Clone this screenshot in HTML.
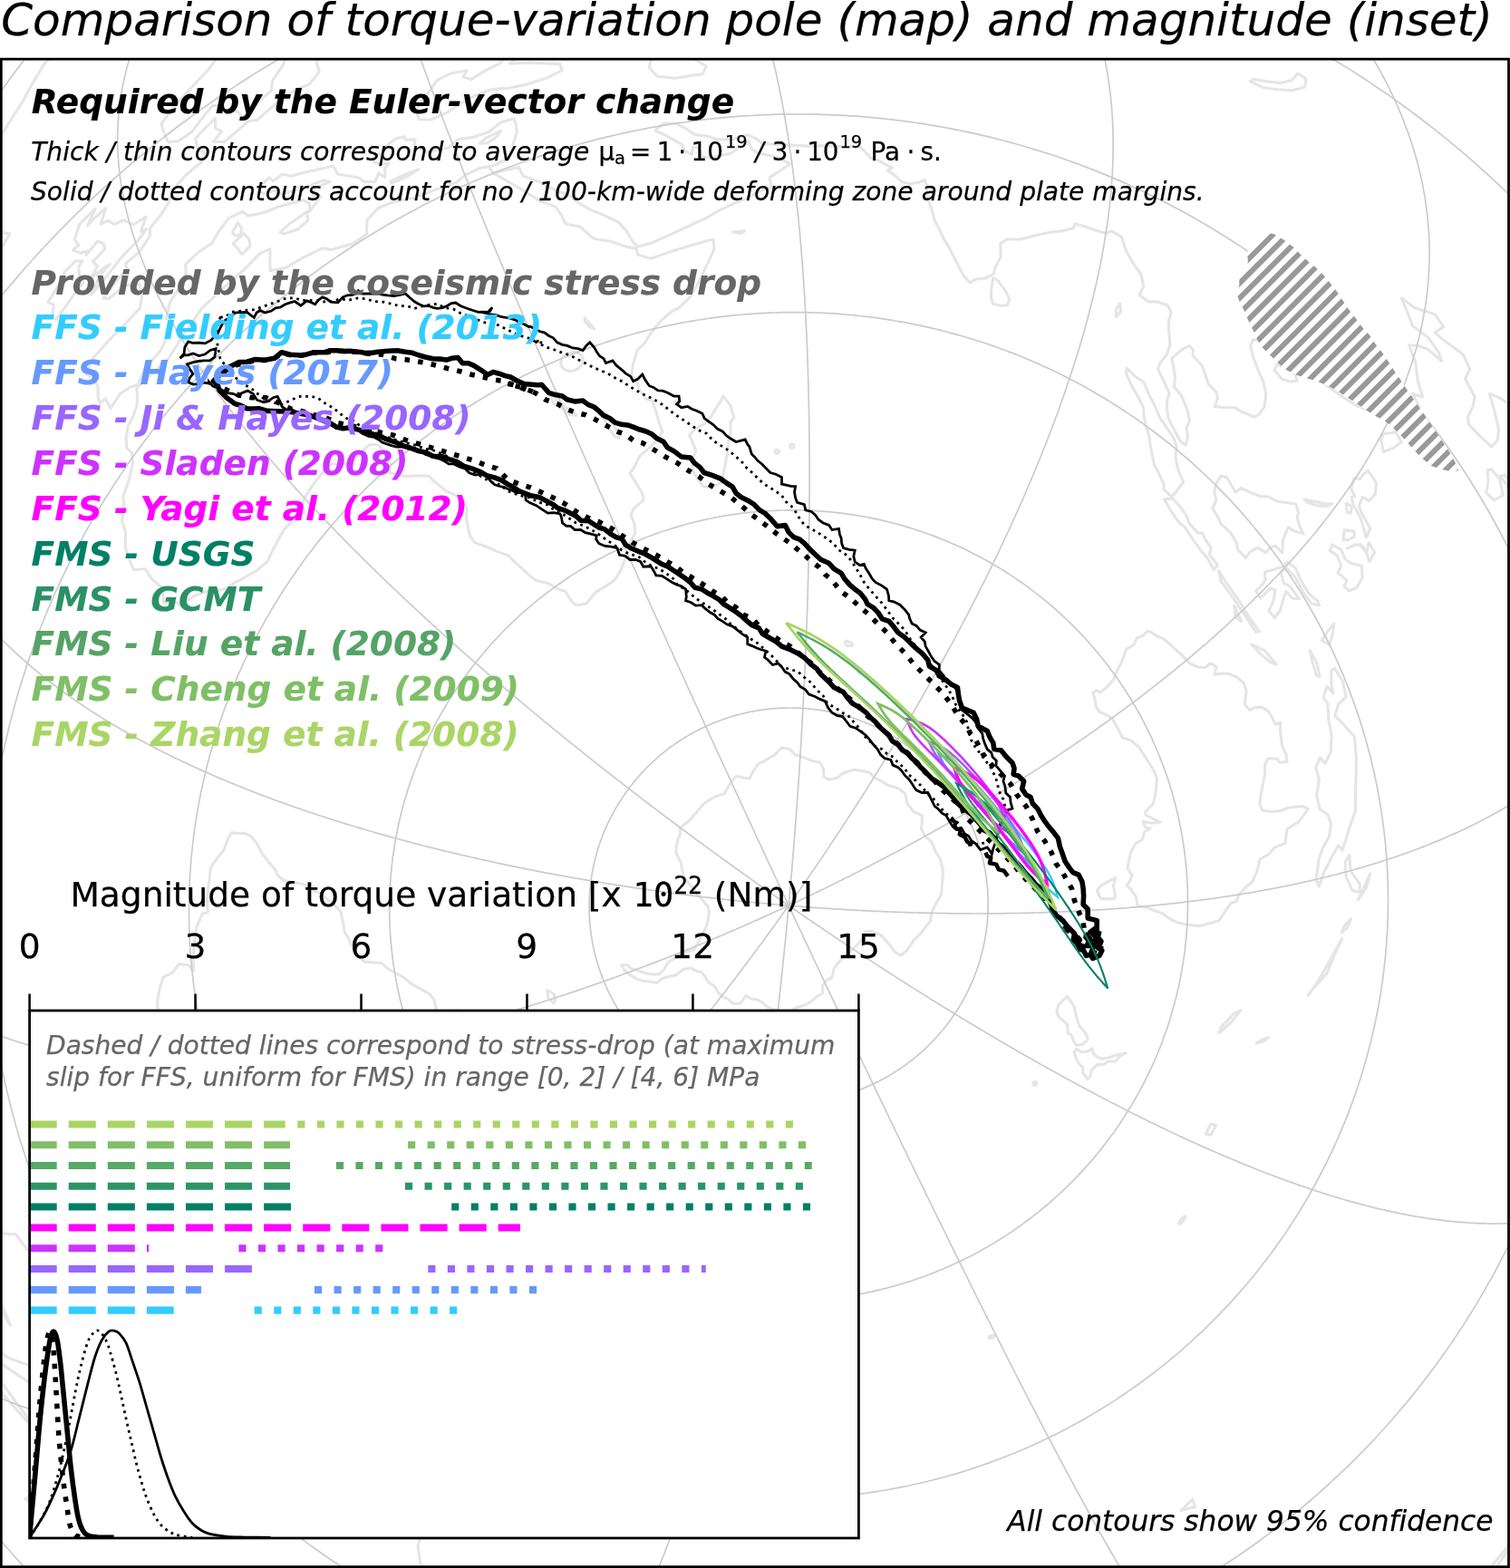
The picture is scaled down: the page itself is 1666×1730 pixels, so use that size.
<!DOCTYPE html>
<html lang="en">
<head>
<meta charset="utf-8">
<title>Comparison of torque-variation pole (map) and magnitude (inset)</title>
<style>
html,body{margin:0;padding:0;background:#fff;}
body{width:1666px;height:1730px;overflow:hidden;}
svg{display:block;font-family:"DejaVu Sans", "Liberation Sans", sans-serif;}
text{white-space:pre;font-variant-ligatures:none;font-kerning:normal;}
</style>
</head>
<body>
<svg width="1666" height="1730" viewBox="0 0 1666 1730">
<rect x="0" y="0" width="1666" height="1730" fill="#fff"/>
<defs><clipPath id="mapclip"><rect x="1.3" y="65.2" width="1663.2" height="1663.5"/></clipPath></defs>
<g clip-path="url(#mapclip)">
<g id="coast" fill="none" stroke="#e5e5e5" stroke-width="3.1" stroke-linejoin="round" stroke-linecap="round">
<path d="M150.7,428.5L159.3,420.2L168.0,412.0L176.8,403.9L185.7,395.9L192.8,384.5L200.0,373.1L207.5,362.0L215.1,351.0L222.8,340.1L231.9,331.4L241.0,322.9L250.2,314.5L259.5,306.2L268.9,298.0L277.8,288.8L286.8,279.7L298.0,274.7L297.9,281.3L297.8,287.8L298.0,293.2L298.1,298.7L306.8,297.0L315.5,295.3L324.3,290.0L333.1,284.8L340.7,281.1L348.3,277.4L355.9,273.8L366.2,275.6L377.9,272.1L389.6,268.8L397.1,263.6L404.5,258.5L404.7,250.7L405.0,242.9L411.2,236.2L417.4,229.6L425.8,226.1L434.1,222.7L446.2,220.2L458.3,217.9L469.5,213.4L480.7,209.1L492.0,205.2L503.5,201.5L513.0,193.3L521.2,189.3L529.3,185.5L539.0,183.9L541.7,187.5L544.3,191.1L552.4,195.7L560.5,200.4L568.6,205.0L576.6,209.8L584.6,214.6L590.3,218.3L595.9,222.1L604.3,224.9L612.6,227.9L616.0,232.5L619.4,237.1L621.7,242.0L624.0,247.0L631.6,248.4L639.2,249.8L644.6,254.2L649.9,258.7L655.2,263.2L664.3,264.7L673.5,266.3L682.9,269.4L692.4,272.6L701.8,274.1L703.7,281.1L710.9,283.2L718.1,285.3L725.7,282.6L733.3,279.9L743.5,276.5L753.8,273.3L764.2,270.2L774.6,267.2L780.9,265.6L787.2,264.1L787.6,269.2L787.9,274.3L785.7,279.7L783.4,285.1L779.5,292.9L775.7,300.8L771.9,308.7L768.2,316.6L764.3,322.7L760.4,328.9L753.9,334.8L747.5,340.8L740.9,343.6L735.4,348.5L729.9,353.3L724.0,360.3L718.2,367.3L714.7,373.0L711.2,378.7L703.3,386.1L700.7,394.4L698.3,402.6L697.6,408.5L696.9,414.4L702.6,420.3L704.2,425.5L705.8,430.7L709.1,435.4L712.4,440.1L719.4,441.9L721.3,447.1L723.2,452.2L725.2,459.2L727.2,466.2L729.1,471.3L731.0,476.4L725.7,485.4L719.6,491.0L713.5,496.6L709.8,499.7L706.1,502.8L702.4,509.8L698.9,516.8L694.8,522.1L698.8,528.4L702.8,534.7L705.7,539.4L708.6,544.2L710.3,551.3L704.6,556.4L699.0,561.7L696.0,568.3L698.1,573.4L700.1,578.5L700.5,583.4L700.9,588.3L698.5,592.5L696.0,596.7L695.2,601.8L694.4,606.9L691.4,613.0L688.6,619.1L686.8,624.0L685.1,628.9L682.2,633.6L679.4,638.3L674.9,642.4L670.4,645.3L666.0,648.2L661.8,650.7L657.6,653.2L653.8,657.5L650.1,661.9L646.5,666.3L642.2,666.9L638.0,667.6L634.2,666.7L631.2,663.5L628.3,660.2L626.1,656.4L624.0,652.6L615.4,649.8L610.3,646.7L605.2,643.7L600.8,642.4L591.4,640.4L585.4,635.8L581.3,632.1L577.2,628.4L571.7,623.4L566.2,618.5L561.3,613.1L555.3,610.9L549.3,608.8L541.8,605.5L534.2,602.3L529.4,600.7L524.5,599.1L521.6,595.4L518.7,591.6L516.8,583.6L515.5,577.7L514.3,571.6L515.4,561.4L512.9,556.4L510.4,551.4L505.4,548.4L500.5,545.3L492.7,542.3L487.9,538.4L483.1,534.4L478.3,530.5L473.3,525.2L468.2,524.7L458.9,525.0L447.2,525.4L442.0,524.2L436.7,523.0L429.5,521.7L430.7,511.8L427.9,506.5L425.0,499.4L421.8,495.9L418.6,492.4L414.4,490.2L407.2,490.8L402.6,495.0L397.8,499.8L393.2,504.7L386.1,512.4L377.5,511.6L371.7,511.8L365.8,512.0L361.5,515.9L357.2,519.8L350.5,528.0L346.7,533.2L342.9,538.5L339.4,544.0L336.0,549.6L332.2,560.8L327.6,571.0L319.5,577.7L312.5,585.4L307.3,594.9L302.2,604.4L298.7,611.9L295.3,619.4L289.2,624.4L283.2,629.6L274.4,634.5L265.7,639.5L258.3,643.1L249.4,649.6L239.8,651.4L231.4,651.5L225.2,653.5L219.0,655.6L213.4,658.1L206.0,662.8L198.6,667.5L195.1,665.4L191.6,663.3L186.2,664.1L180.9,664.9L179.8,656.6L178.7,648.3L172.9,643.4L167.2,638.5L163.8,633.1L160.4,627.8L153.9,628.2L147.5,628.6L144.7,622.0L142.0,615.5L140.1,609.6L138.3,603.8L138.4,595.5L138.5,587.2L136.6,581.0L134.7,574.8L136.5,559.2L135.9,547.7L139.1,538.7L142.4,529.7L144.4,520.1L146.6,510.5L145.4,499.5L140.0,494.4L139.0,483.2L141.3,470.2L146.9,459.3L150.9,448.2L151.7,436.6L150.7,428.5"/>
<path d="M798.0,437.1L801.9,442.1L805.8,447.1L807.8,454.2L809.7,461.2L806.0,465.4L806.0,470.8L806.1,476.3L804.9,482.0L803.7,487.6L802.9,495.1L802.1,502.5L800.6,510.1L799.1,517.7L797.7,524.9L796.3,532.1L790.8,535.2L785.3,538.4L780.6,537.5L775.8,536.6L772.3,531.8L768.9,527.0L766.1,522.0L763.4,517.0L764.0,511.3L764.7,505.6L767.8,497.5L765.8,492.3L763.8,487.2L760.5,480.5L766.6,473.3L772.0,470.4L777.4,467.5L784.5,459.7L789.1,451.6L794.7,443.4L798.0,437.1"/>
<path d="M1095.6,306.8L1100.7,309.2L1104.8,314.8L1108.9,320.4L1113.8,329.8L1111.5,336.8L1103.8,337.2L1095.6,335.3L1093.5,328.5L1093.6,323.9L1093.8,319.3L1094.7,313.1L1095.6,306.8"/>
<path d="M1242.9,406.0L1248.0,410.9L1253.0,415.8L1262.2,421.7L1266.6,433.5L1270.5,440.7L1274.2,447.9L1279.8,461.0L1286.7,470.8L1291.0,477.5L1295.2,484.1L1298.5,493.4L1297.7,498.1L1296.9,502.7L1298.7,513.9L1300.7,520.6L1305.7,532.0L1302.3,536.4L1298.9,540.8L1295.9,544.5L1292.9,548.3L1288.5,544.2L1284.0,540.2L1284.1,534.4L1280.9,527.3L1277.5,520.2L1273.5,513.1L1272.3,506.9L1271.1,500.8L1268.9,489.7L1267.8,480.6L1264.1,469.6L1263.0,463.4L1261.9,457.2L1261.7,449.9L1256.2,439.0L1252.6,432.6L1248.9,426.2L1245.8,419.5L1242.7,412.8L1242.9,406.0"/>
<path d="M1284.5,550.5L1294.0,550.3L1300.9,557.8L1305.0,563.2L1309.0,568.7L1311.7,576.8L1316.7,582.5L1321.6,588.2L1326.6,588.2L1329.3,594.5L1332.8,599.6L1336.3,604.7L1334.4,611.6L1339.0,617.7L1343.5,623.7L1339.1,628.8L1336.0,622.7L1332.8,616.6L1329.0,612.1L1325.1,607.6L1320.7,601.4L1316.1,595.4L1312.0,588.8L1307.7,582.2L1300.3,575.8L1295.9,569.4L1291.4,563.0L1288.0,556.8L1284.5,550.5"/>
<path d="M1347.0,525.3L1353.6,526.7L1357.8,534.1L1363.3,543.1L1369.1,538.4L1374.5,541.0L1380.0,543.6L1390.5,547.6L1399.7,548.0L1407.4,552.4L1413.3,553.7L1422.1,555.0L1429.7,556.1L1432.5,565.6L1431.1,571.1L1434.3,581.4L1438.2,589.1L1427.7,586.1L1421.4,581.6L1418.0,589.3L1415.4,595.8L1415.1,602.8L1414.8,609.9L1407.2,602.1L1401.3,604.1L1396.4,609.8L1387.3,604.1L1383.2,606.6L1379.0,609.0L1374.7,615.6L1370.0,610.8L1365.3,606.0L1364.4,599.1L1361.1,593.4L1357.7,587.7L1352.8,583.2L1347.8,578.7L1342.6,568.5L1337.8,561.2L1339.9,556.5L1341.9,551.7L1339.7,542.1L1340.9,537.5L1342.0,532.9L1344.5,529.1L1347.0,525.3"/>
<path d="M1420.2,620.1L1429.1,626.4L1432.0,632.9L1434.9,639.3L1439.2,646.7L1443.3,654.1L1448.7,658.8L1454.1,663.5L1455.8,668.0L1446.9,665.9L1442.9,660.6L1438.9,655.4L1434.1,646.3L1429.2,637.4L1424.5,632.2L1419.7,627.1L1413.2,630.8L1416.2,643.1L1423.0,646.8L1428.3,653.7L1433.5,660.7L1426.2,660.2L1418.8,652.6L1417.0,658.1L1415.2,663.5L1412.5,673.3L1409.5,677.5L1406.4,681.7L1399.8,673.8L1402.6,668.4L1405.2,661.6L1407.1,650.9L1401.5,649.1L1396.2,654.5L1390.8,659.8L1385.6,652.0L1389.6,648.0L1393.5,643.9L1396.1,639.8L1395.5,631.2L1400.4,629.8L1405.3,628.4L1410.4,626.8L1415.6,625.1L1420.2,620.1"/>
<path d="M1472.4,737.4L1476.9,744.3L1481.4,751.2L1483.3,760.0L1485.1,768.9L1480.8,773.1L1476.4,777.3L1472.9,789.8L1478.9,795.7L1484.7,801.7L1489.5,807.2L1494.3,812.7L1495.3,823.0L1496.2,833.3L1496.3,842.6L1496.2,851.9L1495.9,864.3L1495.4,876.7L1495.5,885.7L1495.5,894.6L1492.4,903.6L1489.2,912.4L1486.8,920.2L1484.4,928.0L1480.9,938.2L1476.7,932.7L1470.3,943.7L1465.5,953.3L1460.5,962.8L1458.0,970.5L1455.3,978.0L1452.0,970.2L1453.7,959.2L1455.1,948.0L1459.2,936.0L1463.0,929.3L1466.6,922.6L1467.6,915.5L1468.5,908.5L1464.7,898.6L1456.3,892.9L1454.5,885.3L1452.6,877.6L1454.1,868.6L1455.4,859.4L1453.6,853.4L1451.7,847.4L1454.0,841.6L1456.3,835.8L1461.9,842.4L1465.1,836.0L1468.3,829.6L1468.7,820.3L1469.0,810.9L1467.5,802.5L1465.8,794.1L1465.4,785.0L1464.8,775.8L1460.1,769.9L1462.0,763.5L1463.8,757.0L1471.0,765.2L1469.0,756.0L1468.9,748.1L1468.7,740.1L1472.4,737.4"/>
<path d="M1509.5,519.3L1514.0,525.9L1518.4,532.6L1517.9,538.8L1517.4,545.1L1514.1,548.8L1510.7,552.5L1503.2,548.4L1501.2,553.3L1499.2,558.1L1503.6,568.3L1507.8,575.7L1511.8,583.2L1509.6,588.0L1507.3,592.7L1504.5,582.9L1501.2,571.4L1497.4,564.6L1493.5,557.8L1491.3,548.5L1494.7,548.0L1490.7,539.0L1492.5,533.2L1494.1,527.5L1500.6,528.6L1504.1,523.3L1509.5,519.3"/>
<path d="M1502.3,624.0L1503.1,637.0L1500.0,642.8L1496.8,648.5L1492.7,650.2L1488.5,652.0L1482.7,646.4L1486.4,640.9L1481.2,636.4L1475.9,632.0L1479.9,624.3L1475.0,612.5L1467.2,607.4L1469.9,600.8L1480.1,606.7L1483.8,616.6L1490.3,621.5L1496.3,622.7L1502.3,624.0"/>
<path d="M1439.0,551.1L1449.0,553.0L1455.2,554.3L1461.4,555.7L1469.9,555.9L1463.6,558.6L1458.1,558.1L1452.7,557.7L1442.4,554.2L1439.0,551.1"/>
<path d="M1539.7,476.5L1546.5,487.7L1541.9,491.0L1537.3,494.2L1531.9,496.3L1526.4,498.4L1523.7,485.4L1526.0,478.6L1534.9,477.7L1539.7,476.5"/>
<path d="M1408.6,402.5L1418.3,404.1L1423.6,408.5L1428.9,412.8L1431.1,419.9L1423.8,421.3L1413.6,417.9L1406.1,408.2L1408.6,402.5"/>
<path d="M1443.4,892.4L1438.0,899.9L1432.4,907.2L1426.3,910.9L1420.1,914.5L1419.0,922.6L1417.8,930.6L1412.1,932.7L1406.4,934.9L1399.8,942.6L1394.9,945.3L1390.0,948.0L1388.7,954.0L1387.3,960.0L1384.4,966.8L1381.4,973.4L1374.9,978.3L1371.0,982.7L1367.0,986.9L1364.2,994.5L1358.3,996.2L1354.6,1001.5L1350.8,1006.8L1344.6,1016.0L1340.1,1017.2L1335.6,1018.4L1329.3,1020.1L1322.9,1021.8L1316.4,1021.0L1309.8,1020.2L1304.3,1019.0L1298.9,1017.7L1291.7,1014.4L1287.0,1011.0L1282.4,1007.6L1278.0,1006.1L1273.6,1004.7L1269.3,1002.9L1264.9,1001.1L1260.1,1000.5L1255.3,999.9L1254.3,994.5L1253.1,989.2L1250.4,985.1L1247.7,981.0L1243.1,977.0L1247.2,971.0L1248.9,965.3L1246.4,961.7L1243.9,958.1L1244.8,953.5L1245.7,948.9L1246.6,944.6L1247.5,940.2L1250.5,935.3L1253.3,930.3L1257.1,928.2L1260.8,926.0L1262.3,918.3L1268.9,914.0L1263.4,912.8L1261.2,906.2L1265.9,907.2L1270.7,908.2L1275.5,907.7L1280.3,907.2L1272.7,903.7L1264.0,899.2L1263.8,895.5L1268.0,891.3L1272.2,886.9L1274.0,879.9L1275.3,871.4L1276.0,865.1L1276.5,858.7L1274.4,853.6L1272.1,848.5L1268.1,842.3L1264.1,836.2L1260.3,830.0L1256.3,823.9L1251.8,820.3L1247.3,816.8L1238.5,814.0L1236.1,809.3L1233.6,804.6L1230.2,798.4L1226.7,792.4L1220.2,788.6L1213.0,785.4L1209.3,779.6L1208.6,774.5L1207.7,769.4L1205.5,764.9L1209.5,761.6L1214.0,764.2L1217.6,761.1L1221.3,757.9L1225.1,753.7L1228.9,749.5L1231.8,741.0L1234.2,736.8L1236.6,732.6L1239.8,724.4L1242.8,716.2L1247.0,713.8L1251.1,711.4L1254.5,703.7L1261.8,701.1L1265.5,696.2L1270.1,697.5L1275.8,701.3L1284.0,705.0L1290.6,710.5L1294.3,714.0L1298.0,717.5L1304.5,723.3L1308.3,727.4L1312.2,731.5L1320.8,735.7L1329.7,736.5L1335.6,731.8L1342.1,735.9L1340.1,744.3L1347.7,743.0L1356.3,743.4L1365.0,747.3L1372.3,753.6L1375.2,763.1L1373.7,772.1L1373.7,777.6L1378.6,783.3L1384.7,780.6L1392.5,780.1L1399.3,784.9L1403.1,790.6L1407.3,799.4L1412.8,797.3L1412.6,807.6L1413.7,815.4L1414.7,823.3L1419.0,832.1L1420.0,840.5L1415.9,840.9L1411.7,841.2L1409.0,837.2L1404.0,837.0L1398.9,836.9L1395.6,843.8L1395.5,854.3L1394.2,861.0L1392.9,867.8L1390.9,878.7L1389.7,887.1L1392.6,893.9L1397.3,894.7L1402.0,895.5L1406.8,895.2L1411.6,894.9L1416.9,893.0L1422.1,891.0L1429.5,890.2L1436.9,889.5L1443.4,892.4"/>
<path d="M1230.8,968.5L1229.6,972.9L1228.4,977.2L1229.4,981.9L1230.3,986.6L1229.6,991.8L1222.3,991.9L1214.9,991.4L1212.6,987.4L1210.3,982.8L1214.4,977.4L1221.5,973.2L1226.2,970.9L1230.8,968.5"/>
<path d="M1242.2,1162.1L1236.1,1164.8L1230.9,1170.7L1222.4,1171.3L1217.4,1174.7L1211.0,1174.4L1207.6,1177.5L1204.2,1180.7L1202.7,1187.8L1200.2,1190.6L1197.5,1187.2L1194.8,1184.0L1194.9,1177.9L1191.6,1174.8L1187.9,1169.4L1185.1,1160.8L1187.9,1157.1L1193.3,1160.8L1200.3,1160.0L1205.1,1156.8L1206.4,1162.5L1210.9,1166.6L1216.6,1168.2L1223.0,1166.9L1228.7,1165.1L1234.4,1163.3L1242.2,1162.1"/>
<path d="M1200.1,1147.0L1197.2,1149.8L1194.2,1152.5L1187.3,1153.3L1184.7,1148.7L1182.1,1142.2L1177.9,1139.3L1177.9,1135.0L1177.8,1130.7L1172.1,1125.4L1168.0,1122.1L1165.8,1115.8L1166.9,1112.2L1167.9,1108.6L1172.7,1104.0L1177.5,1099.2L1181.6,1105.2L1185.1,1110.6L1186.2,1116.0L1187.3,1120.2L1188.4,1124.4L1190.8,1131.9L1195.1,1136.8L1199.0,1142.3L1200.1,1147.0"/>
<path d="M252.4,1378.9L238.0,1369.4L223.7,1359.5L215.3,1352.1L207.7,1341.8L200.3,1331.5L192.8,1322.9L185.4,1314.2L190.5,1315.5L195.7,1316.9L195.4,1309.4L184.5,1297.9L177.7,1293.4L177.5,1285.3L177.4,1277.3L180.5,1270.9L175.9,1258.8L171.4,1246.7L169.8,1237.6L168.4,1228.5L162.6,1216.4L157.0,1204.1L155.7,1196.8L158.5,1191.5L161.4,1186.3L168.5,1184.2L167.8,1172.3L170.6,1164.8L173.5,1157.4L178.6,1146.1L176.7,1134.4L174.9,1122.7L174.2,1114.0L173.6,1105.4L175.0,1097.0L176.6,1088.6L180.6,1077.8L185.2,1075.6L189.8,1073.5L193.8,1068.5L197.8,1063.5L202.7,1064.2L207.6,1064.8L213.4,1071.0L213.5,1060.2L213.7,1049.4L214.6,1038.8L215.7,1030.9L216.9,1023.1L220.0,1015.6L223.3,1008.3L229.2,1006.2L228.8,997.2L228.6,988.2L229.6,980.5L230.7,972.8L231.5,965.1L232.4,957.4L238.4,948.4L242.5,943.3L246.8,938.2L249.0,932.1L251.2,926.0L255.1,918.9L262.5,919.2L270.0,919.4L277.0,922.6L283.3,930.5L289.4,942.0L295.9,950.4L299.9,955.2L304.0,960.0L305.8,965.1L312.8,971.3L318.3,972.4L323.8,973.5L329.2,974.5L334.7,975.6L339.3,978.6L344.0,981.7L348.7,983.8L353.4,985.9L359.9,991.2L364.2,994.7L368.6,998.3L376.0,1005.8L377.1,1011.7L378.4,1017.6L379.3,1023.0L380.3,1028.4L385.3,1036.8L388.9,1045.1L392.4,1050.4L395.9,1055.7L402.5,1061.2L407.0,1061.6L411.5,1061.9L416.4,1062.2L421.2,1062.5L427.3,1068.4L435.5,1073.2L440.5,1075.9L445.4,1078.5L449.8,1082.1L454.3,1085.7L460.7,1089.4L467.2,1092.9L474.2,1096.9L478.8,1103.2L479.9,1107.2L481.0,1111.2L481.1,1116.8L481.4,1122.5L479.0,1127.3L482.2,1122.7L485.4,1118.1L492.4,1116.0L499.2,1115.6L506.1,1115.1L510.1,1119.2L514.2,1123.3L517.5,1129.1L520.8,1134.9L521.6,1138.7L522.3,1142.6L527.4,1141.3L532.4,1140.1L539.3,1141.1L541.1,1147.1L543.1,1153.1L547.5,1152.1L551.9,1151.1L552.2,1146.4L552.5,1141.8L557.5,1145.7L565.1,1147.9L569.6,1147.1L574.1,1146.2L578.3,1148.8L582.6,1151.3L589.3,1151.4L589.7,1146.7L590.1,1142.0L595.1,1138.8L601.6,1140.9L608.1,1142.9L616.6,1144.5L623.1,1144.1L626.7,1140.6L630.2,1137.2L631.2,1139.7L632.3,1142.2L635.9,1143.8L639.5,1145.4L646.4,1142.6L647.4,1146.1L648.4,1149.5L644.9,1157.3L641.5,1165.1L637.6,1169.1L633.7,1173.1L629.8,1177.1L626.0,1181.2L619.7,1182.0L613.4,1182.7L613.6,1189.1L607.2,1189.8L600.8,1190.3L591.0,1189.2L585.4,1190.7L579.7,1192.1L578.0,1198.8L572.2,1202.0L566.4,1205.3L558.1,1206.1L553.6,1209.3L549.1,1212.5L541.9,1212.4L537.0,1213.0L532.1,1213.5L525.8,1213.9L519.5,1214.2L512.0,1216.1L506.8,1218.1L501.6,1220.1L496.3,1222.1L491.1,1224.1L485.8,1226.0L480.5,1227.9L474.4,1228.4L468.2,1228.8L462.4,1229.9L456.7,1230.9L449.6,1233.3L442.4,1235.6L434.8,1237.1L427.2,1238.6L422.2,1240.9L417.2,1243.2L411.8,1245.6L406.4,1248.0L405.3,1258.2L405.6,1265.6L406.1,1272.9L407.2,1281.2L408.5,1289.4L408.1,1296.4L407.9,1303.4L404.5,1310.2L401.0,1316.2L397.5,1322.1L394.8,1327.3L392.1,1332.4L389.4,1337.6L386.8,1342.8L384.5,1348.5L382.3,1354.2L380.9,1359.0L379.4,1363.9L380.8,1375.4L375.4,1380.4L371.3,1383.6L358.1,1377.3L349.1,1376.3L354.0,1386.6L348.4,1386.5L342.8,1386.4L332.2,1384.5L325.1,1387.3L314.5,1378.7L303.8,1376.2L289.6,1368.3L280.3,1367.4L277.2,1370.2L274.1,1373.0L269.7,1373.6L265.3,1374.2L265.0,1380.7L258.7,1379.8L252.4,1378.9"/>
<path d="M633.3,1136.8L636.3,1133.1L639.4,1128.1L640.5,1122.5L639.7,1119.6L639.1,1116.7L641.8,1118.7L644.5,1120.6L648.0,1123.9L651.5,1127.0L652.2,1130.4L653.0,1133.8L652.6,1137.9L652.2,1142.0L651.6,1147.6L649.3,1145.0L647.1,1142.2L641.2,1141.2L634.6,1140.4L633.3,1136.8"/>
<path d="M610.9,1106.6L607.8,1103.8L604.7,1100.9L604.3,1096.7L603.9,1092.5L607.4,1094.5L610.9,1096.5L611.8,1099.9L612.8,1103.4L610.9,1106.6"/>
<path d="M750.6,913.2L752.6,911.6L754.6,910.0L756.6,908.4L758.6,906.9L760.7,905.4L762.2,903.4L763.8,901.5L765.4,899.6L767.0,897.8L768.6,895.9L770.2,894.0L771.9,892.1L773.5,890.2L775.2,888.4L777.0,886.6L779.0,885.1L781.1,883.7L783.2,882.3L785.3,881.0L787.4,879.7L789.8,878.8L792.2,877.9L794.6,877.1L797.0,876.4L799.4,875.6L800.7,873.0L802.2,870.5L803.7,867.9L805.2,865.3L806.9,862.8L808.7,860.6L810.6,858.5L812.6,856.4L815.6,857.0L818.7,857.7L821.6,858.4L824.4,858.7L827.1,858.9L828.7,855.4L830.4,851.9L832.3,848.9L834.4,845.9L836.5,843.0L839.0,841.7L841.5,840.5L844.1,839.3L846.7,837.6L849.2,835.9L851.9,834.3L854.6,832.8L857.2,830.1L859.9,827.5L862.7,824.9L865.7,825.5L868.6,826.1L871.6,826.8L874.5,829.8L877.3,832.7L880.1,833.6L882.9,834.5L885.6,835.4L888.3,836.4L891.0,837.5L893.7,838.5L896.3,839.6L899.0,840.1L901.7,840.6L904.4,841.1L906.5,844.5L908.5,848.0L908.8,852.6L908.9,857.1L911.2,858.5L913.4,859.9L916.1,859.6L918.8,859.3L921.8,858.4L924.8,857.6L929.1,853.7L932.5,852.3L936.0,851.0L939.4,850.1L942.8,849.3L945.8,849.7L948.8,850.1L951.8,850.5L954.6,851.3L957.5,852.1L960.4,852.9L962.3,855.4L964.2,857.9L966.9,859.1L969.5,860.3L972.2,861.6L974.7,863.1L977.1,864.7L979.6,866.3L982.6,867.2L985.7,868.1L988.8,869.1L991.8,870.2L994.2,872.0L996.5,874.0L998.9,876.0L999.6,879.5L1000.2,883.1L1000.7,886.6L1002.7,888.9L1004.5,891.1L1006.4,893.5L1008.2,895.8L1011.3,897.1L1014.4,898.5L1017.5,900.0L1017.4,903.8L1017.2,907.5L1016.9,911.2L1016.5,914.9L1018.0,917.5L1019.4,920.0L1020.7,922.6L1023.1,924.6L1025.4,926.7L1027.8,928.8L1029.0,931.5L1030.1,934.3L1031.2,937.1L1032.2,939.8L1033.9,942.4L1035.6,945.0L1037.2,947.6L1038.0,950.5L1038.8,953.4L1039.6,956.3L1040.3,959.3L1040.3,962.4L1040.1,965.6L1040.0,968.7L1039.7,971.8L1039.5,974.9L1039.1,977.9L1039.0,980.9L1038.7,984.0L1038.5,987.0L1036.8,990.1L1035.1,993.1L1033.3,996.1L1031.5,999.0L1030.2,1001.9L1028.9,1004.7L1027.5,1007.4L1027.3,1010.2L1027.1,1012.9L1026.8,1015.7L1024.8,1018.3L1022.7,1020.8L1020.6,1023.3L1018.9,1025.7L1017.1,1028.1L1015.4,1030.5L1013.1,1032.7L1010.8,1034.9L1008.5,1036.9L1007.0,1039.2L1005.6,1041.4L1004.1,1043.6L1002.5,1045.7L1001.0,1047.8L999.4,1049.8L997.5,1051.3L995.5,1052.7L993.6,1054.1L987.3,1050.2L984.8,1046.8L982.2,1043.5L979.6,1040.3L976.9,1037.2L974.0,1034.2L971.2,1031.3L966.0,1029.3L960.9,1027.4L957.7,1027.7L954.5,1027.9L954.0,1029.4L953.4,1030.9L952.9,1032.3L952.2,1033.8L951.6,1035.2L950.7,1036.5L949.7,1037.8L948.7,1039.1L947.7,1040.3L946.7,1041.6L945.6,1042.7L944.4,1043.8L943.2,1044.9L942.0,1045.9L940.8,1046.9L939.7,1048.0L938.5,1049.1L937.4,1050.1L936.2,1051.1L935.0,1052.1L934.0,1053.1L932.9,1054.1L931.8,1055.1L930.6,1056.1L929.5,1057.1L928.5,1058.2L927.6,1059.3L926.6,1060.5L925.6,1061.6L924.5,1062.6L923.6,1063.9L922.7,1065.2L921.8,1066.5L920.8,1067.7L919.9,1069.0L919.6,1071.3L919.2,1073.5L918.8,1075.8L917.9,1077.6L917.1,1079.4L915.5,1080.0L913.9,1080.6L912.3,1081.1L911.2,1082.7L910.1,1084.2L909.0,1085.8L907.7,1087.3L907.6,1091.6L907.4,1096.0L905.8,1097.0L904.1,1098.0L902.4,1098.9L900.7,1099.9L899.2,1101.3L897.6,1102.7L895.9,1104.0L894.2,1105.4L892.4,1106.5L890.6,1107.6L888.8,1108.7L886.8,1109.3L884.9,1109.9L882.9,1110.4L880.9,1110.9L878.9,1111.4L877.0,1112.8L875.0,1114.2L872.9,1115.6L870.8,1116.9L868.7,1116.5L866.6,1116.1L864.5,1115.7L862.4,1115.3L860.4,1114.9L858.3,1114.6L856.2,1114.2L854.2,1113.7L852.2,1113.1L850.2,1112.4L848.3,1111.7L846.3,1111.0L844.6,1109.4L843.0,1107.7L841.3,1106.1L839.6,1105.1L837.8,1104.1L836.1,1103.1L834.1,1102.8L832.2,1102.5L830.2,1102.2L828.2,1101.8L826.6,1100.6L825.0,1099.4L823.4,1098.2L820.1,1102.7L816.6,1107.1L814.1,1107.2L811.6,1107.3L809.1,1107.3L807.4,1105.8L805.8,1104.3L804.2,1102.8L802.1,1101.9L800.1,1101.0L798.1,1100.1L796.1,1099.1L794.6,1097.4L793.2,1095.7L791.8,1094.0L790.6,1092.0L789.5,1090.1L788.4,1088.2L786.6,1087.0L784.8,1085.8L783.0,1084.5L781.2,1083.3L780.1,1081.4L779.0,1079.5L778.0,1077.6L776.7,1076.0L775.3,1074.3L774.0,1072.7L771.2,1072.1L768.4,1071.4L766.2,1070.3L763.9,1069.1L761.6,1067.9L754.1,1069.6L749.6,1072.9L745.1,1076.1L737.4,1077.5L730.2,1079.8L724.5,1084.5L721.1,1083.8L717.7,1083.0L713.3,1082.6L708.9,1082.1L705.5,1081.1L702.0,1080.0L698.6,1077.9L695.2,1075.7L692.2,1073.3L689.2,1070.8L687.3,1067.9L685.4,1065.0L692.3,1064.5L694.2,1066.5L696.1,1068.4L699.8,1069.6L703.5,1070.8L706.8,1072.0L710.2,1073.1L713.8,1074.0L717.5,1074.8L722.5,1074.9L727.5,1074.9L732.8,1069.3L735.0,1065.4L737.2,1061.6L742.0,1058.9L746.8,1056.1L751.6,1053.2L756.3,1050.4L761.0,1049.2L765.7,1048.0L767.0,1045.5L768.4,1043.1L769.8,1040.8L771.2,1038.5L772.3,1036.2L773.4,1033.9L774.6,1031.7L775.8,1029.5L776.7,1027.5L777.6,1025.5L778.6,1023.5L779.6,1021.6L780.0,1019.9L780.4,1018.2L780.8,1016.5L781.2,1014.9L781.7,1013.2L781.8,1011.7L781.9,1010.1L782.0,1008.6L782.1,1007.0L782.3,1005.5L781.9,1004.0L781.4,1002.5L781.0,1001.0L780.7,999.4L779.2,997.9L777.8,996.2L776.4,994.5L774.7,992.8L773.0,991.0L771.4,989.1L769.8,987.1L768.3,985.1L766.9,983.1L765.5,981.0L763.5,978.7L761.5,976.3L759.5,973.9L757.7,971.4L755.8,968.8L754.0,966.1L753.5,963.8L753.0,961.4L752.5,959.0L752.1,956.5L751.8,954.1L751.4,951.6L749.6,948.4L747.9,945.1L746.2,941.8L746.2,939.1L746.2,936.4L746.2,933.8L746.7,931.3L747.3,928.8L747.9,926.4L748.8,924.0L749.7,921.7L750.7,919.4L750.6,916.3L750.6,913.2"/>
<path d="M475.7,132.0L462.4,131.7L460.7,127.3L459.0,122.9L464.3,112.4L473.3,101.3L477.6,95.0L482.0,88.8L489.2,85.0L496.4,81.3L505.7,79.5L515.0,77.8L511.0,84.9L519.9,87.6L527.4,82.9L534.9,78.1L543.3,74.0L551.7,69.9L558.7,61.8L565.7,53.7L572.5,50.4L579.2,47.2L570.2,53.4L561.3,59.8L571.8,63.2L562.4,70.1L573.4,69.6L584.4,69.1L597.8,69.7L607.8,70.1L617.8,70.7L620.1,77.6L611.8,81.8L603.5,86.1L591.7,89.7L579.9,93.4L570.7,95.3L561.6,97.2L552.0,97.9L542.4,98.6L533.7,101.8L525.0,105.1L516.8,109.5L508.5,114.0L500.6,119.2L492.7,124.5L484.2,128.2L475.7,132.0"/>
<path d="M725.2,84.2L735.1,85.2L744.9,86.3L754.9,84.6L765.0,83.1L775.2,81.6L777.2,77.4L779.2,73.1L771.6,68.5L764.0,63.9L762.4,58.6L760.9,53.3L756.3,46.5L747.0,43.4L737.6,40.3L733.1,36.2L728.5,32.1L736.6,27.2L744.7,22.3L746.3,17.3L747.8,12.4L735.2,13.4L722.6,14.6L710.9,18.4L699.2,22.3L692.0,29.9L684.9,37.6L687.0,43.9L689.0,50.1L703.5,54.8L711.2,58.9L719.0,63.1L717.5,68.9L716.1,74.7L720.7,79.4L725.2,84.2"/>
<path d="M100.4,325.4L106.6,317.9L112.9,310.5L119.2,303.1L126.3,293.8L133.5,284.5L139.8,277.9L146.2,271.5L152.6,265.0L157.2,258.7L161.8,252.4L155.4,255.3L158.3,247.2L161.2,239.1L154.1,243.5L147.1,247.9L142.9,245.8L136.3,242.8L126.0,247.4L119.4,243.5L111.4,247.1L114.0,238.4L116.7,229.8L109.7,235.8L102.8,242.0L96.6,249.0L100.8,239.7L105.1,230.4L96.5,238.7L87.9,247.1L85.1,255.7L82.4,264.3L86.8,270.5L80.5,276.0L84.6,277.6L88.8,279.2L96.0,277.0L94.9,281.4L101.4,273.7L107.9,266.0L114.4,269.0L116.0,274.7L109.3,281.6L102.5,288.4L107.7,293.8L100.1,307.2L108.1,300.8L116.3,294.5L121.3,291.5L116.0,297.4L110.8,303.4L105.5,314.3L100.4,325.4"/>
<path d="M92.0,311.5L89.7,307.9L87.5,304.3L86.9,294.1L90.9,287.7L83.2,288.2L77.4,293.9L71.6,299.6L64.5,315.2L58.6,324.3L52.7,333.4L59.1,336.2L58.4,343.3L57.8,350.4L62.0,352.4L68.0,344.1L74.1,335.9L79.2,328.4L84.4,320.9L92.0,311.5"/>
<path d="M-60.1,356.9L-53.8,350.2L-47.4,343.6L-41.0,336.9L-33.2,327.0L-25.4,317.2L-17.4,304.3L-9.3,291.6L-1.1,279.0L4.8,268.3L10.8,257.8L6.2,257.1L1.8,256.2L-2.8,258.3L-7.3,260.5L-15.6,272.1L-23.8,284.0L-29.9,291.6L-35.9,299.2L-41.9,306.9L-48.2,312.2L-54.5,317.5L-62.6,333.7L-70.5,350.0L-63.3,343.6L-55.9,337.1L-58.1,347.1L-60.1,356.9"/>
<path d="M309.2,256.2L318.5,247.6L328.7,240.5L338.8,233.4L339.2,238.5L339.6,243.5L333.8,248.4L328.1,253.3L320.4,255.7L312.8,258.1L309.2,256.2"/>
<path d="M257.1,268.9L263.1,263.1L269.1,257.4L272.0,260.7L275.0,264.0L276.0,271.6L266.9,280.7L264.6,277.4L262.3,274.1L257.1,268.9"/>
<path d="M256.5,256.2L262.5,245.9L266.6,251.9L265.6,258.4L259.7,260.2L256.5,256.2"/>
<path d="M430.9,200.4L441.7,194.6L451.8,190.6L462.0,186.7L455.3,190.9L448.5,195.2L440.1,198.7L431.8,202.4L430.9,200.4"/>
<path d="M529.1,158.1L536.0,152.2L544.3,148.3L552.6,144.4L548.4,150.6L538.1,157.7L529.1,158.1"/>
<path d="M808.9,256.0L815.4,255.4L821.9,254.9L816.8,257.5L808.9,256.0"/>
<path d="M932.8,707.1L936.4,708.2L939.9,709.4L940.3,712.5L935.2,712.8L932.3,710.0L932.8,707.1"/>
<path d="M252.4,1378.9L255.7,1391.0L259.3,1403.1L267.6,1410.6L276.0,1418.0L281.1,1426.3L286.4,1434.6L285.0,1441.9L283.7,1449.3L279.4,1452.8L275.1,1456.4L265.5,1456.1L255.8,1455.6L252.0,1458.1L248.3,1460.6L252.2,1470.0L256.3,1479.3L265.9,1490.5L275.8,1501.6L283.0,1509.9L290.5,1518.1L282.6,1518.9L274.7,1519.5L265.5,1517.5L256.2,1515.4L246.0,1514.8L235.6,1514.0L241.7,1527.0L254.0,1538.2L266.5,1549.1L276.1,1551.1L285.6,1553.0L296.0,1558.8L306.5,1564.5L318.8,1574.7L331.4,1584.6L338.3,1593.3L345.5,1601.8L350.5,1615.7L350.6,1623.9L350.8,1632.1L344.9,1636.9L338.8,1641.5L328.7,1642.9L318.4,1644.0L310.6,1647.2L302.7,1650.3L289.7,1644.5L276.7,1638.5L263.3,1630.7L250.0,1622.7L237.1,1610.6L224.6,1598.2L217.5,1588.5L210.5,1578.6L202.0,1569.0L193.7,1559.4L179.4,1554.0L170.9,1544.2L162.6,1534.2L153.8,1520.6L145.2,1507.0L138.0,1496.7L130.9,1486.4L129.9,1478.1L128.9,1469.7L135.1,1468.9L141.2,1467.9L143.7,1461.5L146.3,1455.0L146.3,1443.9L137.2,1433.4L130.0,1432.3L122.8,1431.1L118.7,1435.3L114.6,1439.4L110.8,1444.2L107.1,1448.9L97.8,1446.5L88.4,1443.9L78.9,1434.8L69.5,1425.6L59.9,1415.5L50.3,1405.2L41.1,1393.4L32.1,1381.4L24.8,1371.7L17.6,1361.8L11.2,1361.5L4.9,1361.1L-3.0,1354.0L-10.9,1346.7L-21.1,1336.4L-31.2,1325.8L-42.4,1317.0L-48.9,1303.9L-55.2,1290.8L-63.3,1273.2L-71.2,1255.4L-76.1,1245.8L-80.2,1254.4L-92.9,1235.7L-98.6,1221.7M-98.9,1702.0L-90.8,1715.5L-82.4,1729.1L-73.8,1742.6L-64.8,1756.2L-48.0,1776.5L-30.0,1797.3L-10.7,1818.4M1747.3,1646.0L1723.8,1674.2L1699.3,1701.7L1674.5,1728.3L1648.7,1754.2L1608.6,1782.1L1627.2,1759.6L1644.7,1737.2L1661.0,1715.0L1675.0,1696.2L1688.2,1677.4L1700.8,1658.7L1685.5,1679.0L1669.6,1699.2L1652.9,1719.3L1635.4,1739.2L1616.6,1761.6L1596.7,1783.9L1575.7,1806.1L1556.4,1828.1M575.6,1823.2L568.9,1815.0L558.5,1803.4L548.4,1791.8L545.5,1782.7L542.7,1773.7L531.8,1761.2L521.3,1748.6L510.4,1747.7L514.1,1755.4L517.8,1763.2L521.7,1770.9L525.6,1778.6L530.8,1788.7L536.1,1798.8L537.8,1805.4L539.5,1812.0L546.1,1821.2M538.4,1822.3L524.1,1813.9L521.7,1806.9L519.4,1799.9L513.6,1791.5L507.9,1783.0L499.9,1773.3L492.2,1763.6L484.7,1753.8L477.4,1744.0L470.4,1734.2L463.5,1724.3L462.3,1715.2L461.1,1706.1L462.8,1699.8L464.4,1693.5L458.3,1683.7L452.4,1673.8L442.1,1662.7L432.2,1651.6L420.9,1641.5L410.0,1631.2L399.7,1620.6L389.7,1609.9L377.3,1600.6L365.1,1591.2L356.3,1583.8L347.7,1576.4L343.5,1566.7L339.5,1556.9L334.6,1547.7L329.8,1538.5L323.8,1530.0L318.0,1521.4L310.3,1512.2L302.7,1502.9L300.2,1492.3L299.4,1484.1L298.6,1475.8L299.4,1469.8L300.2,1463.9L298.2,1455.6L296.3,1447.4L294.3,1440.0L292.3,1432.5L289.2,1423.5L286.3,1414.6L272.0,1406.0L264.6,1398.3L257.3,1390.6L252.4,1378.9"/>
<path d="M-94.7,344.0L-87.3,332.6L-78.9,316.8L-70.4,301.2L-61.6,285.8L-52.8,270.6L-44.7,249.2L-35.7,227.3L-38.5,221.4L-40.6,214.6L-29.4,197.1L-18.1,179.8L-6.4,162.8L8.7,137.5L25.0,112.0L36.0,91.7L49.0,70.3L63.4,53.7L78.1,37.4L93.0,21.4L96.5,13.7L101.0,5.3L106.7,-3.9L105.8,-5.4L105.2,-7.0L105.0,-9.0L105.1,-11.1L105.5,-13.5L106.3,-16.2L107.4,-19.1L103.8,-17.1L100.2,-15.2L96.7,-13.3L93.3,-11.5L89.9,-9.7L86.7,-8.0L83.5,-6.3L80.3,-4.6L73.4,0.8L66.5,6.3L59.6,11.8L52.7,17.5L45.8,23.2L38.9,29.0L32.0,34.8L25.1,40.7L18.2,46.7L11.2,52.8L5.8,57.2L0.5,61.6L-4.9,66.1L-10.2,70.6L-15.5,75.1L-20.8,79.6L-26.1,84.1L-31.3,88.6L-36.5,93.1L-41.7,97.7L-49.9,106.0L-58.0,114.4L-66.2,122.9L-74.3,131.5L-82.4,140.3L-90.5,149.2L-98.5,158.2"/>
<path d="M208.2,1490.2L194.9,1479.3L181.9,1468.0L172.8,1455.3L164.0,1442.4L158.7,1429.2L153.8,1415.9L150.4,1402.6L147.3,1389.3L143.6,1376.0L140.1,1362.9L138.2,1352.3L143.7,1360.7L149.2,1369.1L156.0,1381.9L163.2,1394.7L160.3,1401.8L163.7,1415.0L167.4,1428.3L172.2,1441.5L177.3,1454.7L185.1,1464.0L192.9,1473.3L200.5,1481.8L208.2,1490.2"/>
<path d="M154.2,1354.2L143.7,1345.5L133.2,1336.6L127.7,1323.5L122.5,1310.4L120.5,1300.5L118.6,1290.7L118.7,1283.6L118.8,1276.5L124.0,1287.0L129.3,1297.5L135.8,1307.2L142.4,1316.8L144.1,1329.8L149.0,1342.0L154.2,1354.2"/>
<path d="M1654.6,525.3L1659.5,531.2L1664.3,537.1L1670.3,546.6L1676.1,556.2L1682.0,565.5L1687.9,574.9L1688.0,584.2L1688.0,593.5L1694.4,597.8L1700.7,602.2L1706.5,612.7L1712.2,623.3L1717.1,631.5L1721.9,639.8L1731.4,648.9L1736.3,643.0L1741.2,636.8L1749.6,637.1L1753.6,634.8L1757.6,632.3L1759.4,619.8L1760.9,607.0L1756.4,600.6L1751.8,594.2L1748.1,598.2L1744.4,602.1L1739.8,604.8L1735.1,607.4L1724.0,601.6L1718.2,592.0L1712.3,582.6L1706.0,586.9L1697.9,577.7L1691.2,565.7L1684.3,553.8L1678.4,544.1L1672.5,534.5L1665.9,529.3L1659.2,524.2L1654.6,525.3"/>
<path d="M1645.5,517.9L1654.6,528.2L1658.3,546.4L1653.3,549.1L1648.3,551.8L1639.8,543.4L1641.0,537.2L1642.0,530.9L1641.2,518.2L1645.5,517.9"/>
<path d="M1666.5,547.0L1673.0,555.3L1679.4,563.8L1682.3,577.3L1675.1,571.9L1665.7,562.5L1666.2,554.8L1666.5,547.0"/>
<path d="M1751.7,584.9L1757.3,586.9L1762.9,588.9M1761.6,575.2L1756.7,580.1L1751.7,584.9"/>
<path d="M1341.6,1241.5L1338.7,1246.9L1335.7,1252.2L1330.5,1251.2L1333.1,1245.7L1335.6,1240.3L1341.6,1241.5"/>
<path d="M1368.9,1114.6L1363.8,1121.2L1358.7,1127.6L1352.0,1133.7L1345.2,1139.6L1347.1,1133.4L1354.2,1126.1L1361.1,1118.5L1368.9,1114.6"/>
<path d="M1315.7,1654.0L1303.1,1666.5L1318.5,1662.6L1317.1,1658.3L1315.7,1654.0"/>
<path d="M1480.5,1035.8L1476.5,1044.6L1472.4,1053.4L1468.3,1063.7L1464.0,1073.9L1457.8,1080.7L1451.6,1087.4L1443.0,1098.3L1448.9,1090.2L1454.7,1081.9L1461.1,1070.8L1467.3,1059.4L1474.0,1047.7L1480.5,1035.8"/>
<path d="M1488.8,943.7L1489.5,952.1L1490.0,960.6L1495.1,967.8L1500.2,975.1L1500.4,984.3L1496.3,983.6L1492.3,982.8L1488.8,975.1L1485.2,967.6L1484.7,959.2L1484.2,950.8L1488.8,943.7"/>
<path d="M1380.6,710.9L1388.0,714.3L1395.4,717.8L1401.9,725.4L1408.3,733.1L1402.4,731.3L1396.6,726.4L1390.7,721.6L1385.7,716.2L1380.6,710.9"/>
<path d="M1344.6,629.9L1349.3,637.1L1353.9,644.5L1358.5,650.6L1362.9,656.9L1367.3,663.2L1372.6,671.8L1377.8,680.5L1383.7,688.6L1389.5,696.8L1385.6,697.5L1380.6,689.6L1375.5,681.8L1370.2,674.1L1364.6,665.8L1359.0,657.7L1353.1,649.6L1347.2,641.6L1344.6,629.9"/>
<path d="M1471.8,688.0L1470.1,701.1L1466.8,711.1L1458.1,706.9L1461.2,702.2L1464.2,697.5L1468.0,692.8L1471.8,688.0"/>
<path d="M1445.2,717.5L1449.0,724.6L1452.8,731.8L1454.6,739.2L1456.2,746.6L1452.4,745.4L1450.0,737.3L1447.5,729.1L1445.2,717.5"/>
<path d="M1486.1,605.1L1490.1,603.1L1494.2,601.1L1500.4,601.1L1508.0,610.4L1511.0,619.6L1513.9,614.5L1516.9,609.3L1510.2,598.6L1508.3,608.2L1500.9,600.5"/>
<path d="M1483.3,584.7L1488.7,585.4L1494.2,586.2L1494.3,591.7L1488.0,595.7L1481.8,595.8L1483.3,584.7"/>
<path d="M1491.4,558.7L1490.3,566.1L1486.2,565.6L1485.1,555.2L1491.4,558.7"/>
<path d="M642.7,394.3L640.5,391.0L636.7,388.9L632.1,388.4L627.2,389.4L623.0,392.0L619.9,395.6L618.6,399.7L619.2,403.7L621.5,406.9L625.3,408.9L629.9,409.4L634.6,408.4L638.8,405.9L641.8,402.4L643.2,398.3L642.7,394.3"/>
<path d="M604.8,429.1L608.2,431.9L611.5,434.8L613.6,441.8L618.0,445.0L622.4,448.2L626.7,451.1L630.9,454.0L635.7,458.2L629.6,457.7L625.0,454.2L620.5,450.6L615.8,448.0L611.1,445.4L609.1,441.1L607.2,436.8L606.0,432.9L604.8,429.1"/>
<path d="M661.8,453.1L669.4,458.0L672.5,462.6L675.6,467.3L678.7,472.0L681.8,476.6L683.2,483.1L678.2,481.8L675.1,477.2L672.0,472.5L669.3,467.7L666.5,463.0L662.3,456.8L661.8,453.1"/>
<path d="M1379.4,89.9L1386.7,93.3L1394.0,96.8L1402.1,97.8L1410.1,98.8L1417.9,99.3L1425.7,99.7L1432.6,98.0L1439.4,96.1L1440.3,91.7L1441.1,87.1L1432.0,81.0L1428.7,84.9L1425.1,88.6L1419.1,90.1L1413.1,91.6L1405.2,90.7L1397.2,89.8L1390.1,88.6L1382.9,87.4L1379.4,89.9"/>
<path d="M856.0,16.7L853.6,13.2L849.1,10.2L843.1,8.4L836.6,8.0L830.6,9.0L825.9,11.3L823.4,14.6L823.2,18.2L825.6,21.7L830.1,24.5L836.0,26.3L842.4,26.7L848.5,25.8L853.2,23.6L855.8,20.4L856.0,16.7"/>
<path d="M1010.3,21.9L1018.2,17.3L1026.2,12.8L1039.2,15.4L1052.2,18.2L1064.7,19.6L1077.3,21.2L1068.3,21.4L1059.2,21.7L1046.4,19.6L1033.7,17.6L1026.5,20.7L1019.4,23.8L1010.3,21.9"/>
<path d="M645.1,351.0L650.4,356.9L655.6,362.8L650.6,360.6L645.4,354.8L645.1,351.0"/>
<path d="M43.5,1583.1L27.1,1565.2L11.0,1546.9L-5.8,1527.7L-22.1,1508.0L-28.7,1492.6L-35.0,1477.1L-34.6,1467.9L-34.2,1458.7L-23.6,1476.2L-12.5,1493.6L-5.8,1509.0L1.3,1524.4L13.6,1541.6L26.4,1558.7L34.8,1570.9L43.5,1583.1"/>
<path d="M51.4,1526.9L41.0,1516.5L30.7,1505.9L19.3,1501.9L7.6,1497.4L-5.4,1485.0L-18.3,1472.1L-7.4,1489.3L4.0,1506.4L19.4,1516.9L34.7,1526.7L43.1,1526.9L51.4,1526.9"/>
<path d="M-22.7,1463.8L-30.6,1449.7L-38.3,1435.5L-45.7,1421.2L-46.7,1407.8L-47.6,1394.4L-32.8,1412.3L-17.6,1429.6L-14.3,1441.4L-16.8,1453.4L-19.7,1458.7L-22.7,1463.8"/>
<path d="M11.4,1462.1L3.1,1448.9L-4.9,1435.6L-12.7,1422.3L-23.4,1405.0L-33.8,1387.5L-21.3,1405.8L-9.5,1423.4L2.6,1440.8L6.9,1451.4L11.4,1462.1"/>
<path d="M-33.2,1398.3L-41.2,1383.0L-48.8,1367.5L-56.4,1352.6L-63.7,1337.6L-57.4,1343.5L-50.1,1360.3L-42.4,1377.1L-37.9,1387.7L-33.2,1398.3"/>
<path d="M78.1,1673.4L60.1,1661.4L41.9,1648.7L35.0,1651.4L27.7,1653.6L52.0,1673.1L61.1,1673.7L69.8,1673.8L78.1,1673.4"/>
<path d="M95.7,1824.6L72.7,1804.2L50.7,1783.5L29.6,1762.6L64.0,1791.3L99.1,1818.4"/>
<path d="M469.8,-19.9L468.1,-21.3L464.7,-21.7L460.0,-21.1L454.8,-19.4L449.8,-16.9L445.8,-14.1L443.4,-11.3L443.0,-9.0L444.6,-7.6L448.0,-7.2L452.7,-7.9L457.9,-9.7L463.0,-12.1L467.0,-14.9L469.4,-17.6L469.8,-19.9"/>
<path d="M-100.0,121.9L-93.3,115.3L-86.5,108.8L-79.7,102.3L-72.8,95.8L-65.9,89.4L-64.9,89.6L-63.8,89.7L-62.6,89.6L-61.2,89.4L-59.8,89.1L-58.2,88.7L-56.6,88.2L-54.8,87.6L-53.0,86.8L-51.0,86.0L-52.9,89.5L-54.6,92.8L-56.0,96.0L-57.3,98.9L-58.3,101.7L-59.2,104.2L-59.9,106.6L-60.3,108.7L-83.9,136.8"/>
<path d="M1362.0,668.5L1365.8,676.9L1369.6,685.4L1363.1,680.8L1362.0,668.5"/>
<path d="M182.0,1403.3L175.5,1390.7L169.2,1378.1L174.6,1385.5L180.1,1392.8L182.0,1403.3"/>
<path d="M114.8,1260.9L111.6,1250.4L108.6,1240.0L115.7,1252.0L114.8,1260.9"/>
<path d="M154.6,1195.6L151.2,1185.7L156.7,1186.0L159.3,1195.8L154.6,1195.6"/>
<path d="M859.7,498.3L858.9,496.8L857.2,496.2L855.6,496.9L855.0,498.5L855.8,500.0L857.5,500.6L859.1,499.9L859.7,498.3"/>
<path d="M876.2,492.3L875.4,490.8L873.7,490.1L872.0,490.8L871.4,492.3L872.1,493.9L873.9,494.5L875.5,493.9L876.2,492.3"/>
<path d="M748.7,443.7L747.8,442.6L746.1,442.4L744.7,443.2L744.4,444.6L745.3,445.7L747.0,445.9L748.4,445.0L748.7,443.7"/>
<path d="M949.3,742.0L949.1,740.9L948.3,740.2L947.3,740.3L946.7,741.2L946.8,742.3L947.6,743.0L948.6,742.9L949.3,742.0"/>
<path d="M606.0,999.8L607.2,995.4L608.4,991.0L612.1,990.4L610.2,994.0L608.3,997.7L606.0,999.8"/>
<path d="M1399.6,1144.8L1393.7,1149.2L1386.2,1151.1L1392.8,1147.0L1399.6,1144.8"/>
<path d="M1511.6,963.8L1509.7,971.5L1507.7,979.0L1503.0,986.0L1498.3,992.9L1501.9,986.3L1507.5,973.2L1511.6,963.8"/>
<path d="M1490.5,1013.9L1486.4,1023.7L1480.2,1029.1L1483.6,1020.8L1490.5,1013.9"/>
<path d="M1140.4,1197.3L1141.9,1197.5L1143.3,1196.5L1143.8,1195.0L1143.0,1193.8L1141.6,1193.6L1140.2,1194.5L1139.7,1196.1L1140.4,1197.3"/>
<path d="M1300.8,1350.5L1302.7,1349.8L1305.5,1347.0L1307.6,1343.8L1307.7,1341.9L1305.8,1342.6L1303.0,1345.4L1300.9,1348.6L1300.8,1350.5"/>
<path d="M1090.9,1476.2L1092.2,1476.7L1094.5,1476.2L1096.3,1474.8L1096.7,1473.5L1095.4,1473.0L1093.2,1473.5L1091.3,1474.9L1090.9,1476.2"/>
<path d="M423.0,1478.2L421.9,1480.7L423.6,1483.7L427.1,1485.4L430.4,1484.8L431.5,1482.3L429.8,1479.3L426.3,1477.6L423.0,1478.2"/>
<path d="M1235.5,334.9L1236.6,343.8L1231.5,349.4L1231.5,341.1L1235.5,334.9"/>
<path d="M544.3,191.1L553.6,188.8L563.0,186.5L572.3,184.3L574.7,189.2L577.1,194.1L587.9,198.0L598.7,201.9L604.9,205.6L611.1,209.2L619.5,212.2L627.8,215.3L632.8,219.5L637.8,223.6L644.4,227.4L651.0,231.1L659.2,234.5L667.3,237.9L674.8,241.5L682.3,245.2L686.5,249.8L690.7,254.4L694.7,260.8L698.8,267.3L703.5,272.2L711.4,270.0L719.2,268.0L729.3,263.3L739.4,258.8L749.6,254.1L759.8,249.5L770.0,244.7L780.4,240.0L786.4,236.4L792.5,232.7L801.9,228.1L811.3,223.6L817.7,221.3L824.2,219.0L830.9,214.9L837.7,210.9L844.3,208.8L850.8,206.7L850.1,201.2L849.3,195.8L855.1,192.0L860.9,188.2L871.5,180.7L863.9,176.8L856.3,173.0L846.6,171.1L836.9,169.4L828.8,164.0L827.5,159.7L826.1,155.4L823.2,159.2L815.5,162.7L806.1,169.3L795.2,171.4L784.4,173.6L773.5,172.7L772.4,167.7L771.3,162.7L764.1,162.9L763.4,170.4L755.3,166.4L752.4,159.4L744.1,154.8L734.1,149.1L723.0,144.4L727.8,139.1L733.1,136.0L745.5,136.2L756.8,141.9L761.8,145.3L766.9,148.6L779.3,150.0L792.2,153.8L800.0,153.7L807.8,153.8L816.3,151.3L824.9,148.9L834.0,152.7L840.9,158.2L850.0,159.0L859.0,159.8L868.5,160.0L878.0,160.3L890.0,161.1L901.2,160.9L912.4,160.9L921.3,161.3L930.2,161.7L939.7,162.0L949.1,162.3L954.3,167.2L960.7,174.4L969.1,176.7L976.4,181.2L984.8,185.1L979.1,188.1L987.5,193.6L994.7,200.5L1002.8,203.1L1014.3,201.3L1020.0,198.5L1022.4,204.1L1023.0,211.7L1023.6,219.2L1025.8,225.2L1028.0,231.2L1029.6,237.1L1031.1,243.0L1033.7,248.0L1036.3,253.0L1038.9,258.4L1041.4,263.8L1045.4,270.0L1048.4,275.5L1051.2,281.1L1054.5,287.5L1057.8,294.0L1060.5,299.2L1063.2,304.4L1069.9,311.6L1078.0,307.7L1086.8,307.2L1096.2,302.4L1097.3,298.2L1098.4,293.9L1101.3,288.7L1104.2,283.4L1104.0,276.0L1103.7,268.7L1111.0,264.0L1118.4,264.0L1125.8,264.1L1133.5,262.0L1141.2,260.0L1150.1,258.1L1159.1,256.3L1166.2,255.4L1173.3,254.6L1184.2,251.8L1186.1,247.0L1197.5,250.0L1208.7,254.0L1220.1,257.5L1226.5,254.7L1237.4,261.4L1240.5,271.1L1243.7,279.3L1249.9,289.9L1259.0,303.0L1260.5,309.3L1261.9,315.5L1259.4,320.5L1256.9,325.5L1266.9,332.8L1277.6,333.0L1288.5,337.0L1292.2,344.5L1290.9,348.9L1289.5,353.3L1289.5,358.9L1289.4,364.6L1290.3,372.6L1291.0,380.6L1289.1,386.0L1287.1,391.3L1283.7,395.7L1280.2,400.0L1277.5,407.1L1281.4,415.0L1285.1,423.0L1290.0,433.7L1287.8,441.3L1287.3,450.1L1288.2,455.8L1289.0,461.4L1292.6,468.4L1296.2,475.4L1302.1,486.8L1308.2,491.0L1309.4,486.7L1310.5,482.3L1309.0,471.5L1312.4,464.8L1310.6,453.9L1306.7,444.3L1303.3,436.2L1295.4,426.8L1296.0,421.3L1296.6,415.7L1295.1,407.5L1294.0,401.3L1292.8,395.2L1296.4,392.2L1299.9,389.2L1303.3,386.6L1306.7,384.0L1312.4,381.7L1316.7,386.5L1315.8,392.2L1320.9,397.7L1326.0,403.3L1329.6,412.5L1333.3,423.8L1341.7,432.4L1343.4,439.5L1341.8,444.0L1340.3,448.5L1352.1,449.8L1362.3,449.7L1369.1,453.8L1376.5,456.9L1383.8,460.2L1389.7,456.5L1392.4,452.4L1395.1,448.4L1395.9,441.6L1396.7,434.7L1395.3,428.0L1393.9,421.2L1388.1,408.3L1383.2,395.5L1381.4,388.7L1379.6,382.0L1382.4,374.7L1392.4,375.1L1402.6,378.7L1411.5,382.3L1420.9,391.5L1425.4,396.5L1422.4,403.8L1428.9,409.8L1430.8,402.4L1436.3,406.4L1441.8,410.6L1449.5,415.5L1457.3,420.4L1463.3,424.9L1469.3,429.4L1475.9,434.1L1482.5,438.8L1489.3,443.0L1496.2,447.2L1507.5,452.0L1517.0,455.0L1526.0,456.4L1534.0,454.1L1542.0,454.5L1553.4,456.5L1557.7,454.6L1562.0,452.7L1566.1,449.4L1558.7,434.5L1569.4,438.0L1564.2,420.0L1563.0,410.0L1561.8,399.9L1554.6,380.8L1565.8,381.7L1575.0,385.1L1582.7,391.6L1590.4,398.2L1587.7,389.3L1581.7,380.7L1575.6,372.3L1567.2,365.9L1558.7,359.7L1551.4,341.3L1546.4,328.8L1553.3,334.1L1560.3,339.5L1571.7,343.1L1583.1,346.7L1592.7,360.5L1587.9,363.7L1583.0,366.8L1592.3,374.9L1599.7,380.3L1607.1,385.7L1614.4,391.3L1621.7,407.4L1619.1,412.7L1616.5,417.9L1621.8,427.8L1627.1,437.8L1625.2,447.9L1622.5,453.9L1619.7,459.7L1620.4,468.4L1627.1,475.2L1633.7,482.1L1639.6,487.4L1645.5,492.8L1648.8,489.5L1652.1,486.2L1653.6,474.8L1651.1,463.1L1648.4,451.4L1643.3,434.1L1654.4,438.9L1660.7,443.0L1667.0,447.2L1673.1,447.2L1679.1,447.1L1686.0,451.0L1692.9,454.9L1699.0,466.9L1704.9,479.1L1715.7,483.9L1726.3,488.6L1736.5,494.5L1746.7,500.3L1754.6,502.5L1762.5,504.5M1763.8,406.6L1754.1,390.4"/>
<path d="M152.3,424.3L142.9,427.6L132.8,434.2L127.3,442.4L121.9,450.6L119.1,445.2L116.3,439.7L110.0,445.5L108.2,438.1L108.1,426.3L105.5,421.8L102.9,417.3L99.0,415.1L95.0,412.9L98.6,404.4L102.1,395.8L110.6,386.2L119.1,376.7L127.9,367.7L136.9,358.9L145.5,349.4L154.3,340.1L155.5,333.0L156.8,325.9L155.2,319.6L153.7,313.3L146.8,313.9L140.0,314.6L133.2,319.6L126.3,324.6L119.5,329.7L114.2,329.0L121.1,319.4L128.0,310.0L134.4,303.9L140.9,297.9L138.3,291.1L145.9,284.7L153.6,278.3L159.6,269.1L165.6,259.9L165.4,252.1L171.0,245.1L176.7,238.1L181.6,230.4L186.5,222.8L190.0,210.2L197.8,201.5L205.6,192.8L213.9,185.8L222.2,178.9L225.3,168.3L218.3,164.4L216.9,158.5L215.6,152.7L223.1,144.8L230.8,137.0L237.5,130.4L237.5,135.8L237.6,141.1L244.5,145.2L235.4,156.3L247.6,156.5L253.5,151.4L259.4,146.3L266.8,139.9L274.3,133.5L283.9,132.4L291.1,126.0L298.4,119.6L305.7,113.3L316.1,106.0L326.6,98.9L333.8,96.0L341.2,93.0L346.7,86.1L352.2,79.3L350.6,73.9L349.1,68.5L356.3,60.9L363.6,53.3L373.9,50.0L384.2,46.8L383.1,42.9L382.0,39.0L371.5,36.9L382.1,30.4L392.7,24.0L401.8,19.4L410.9,14.9L420.1,10.5L430.8,4.5L441.6,-1.3L432.6,0.1L423.7,1.7L414.6,6.0L405.5,10.5L396.4,15.0L385.9,21.4L375.3,27.9L364.8,34.6L356.2,36.6L347.6,38.7L345.5,34.5L343.4,30.2L342.5,25.8L341.6,21.3L349.8,12.9L358.1,4.6L367.9,-4.4L377.7,-13.2L380.1,-18.3L370.5,-14.9L360.9,-11.5L353.3,-6.5L345.7,-1.4L339.6,10.0L332.1,17.2L324.6,24.6L317.1,32.0L310.1,41.4L303.2,50.9L302.5,56.8L301.9,62.7L309.2,61.3L316.6,60.0L313.0,70.6L306.7,79.8L300.5,89.1L300.0,94.5L299.6,99.9L290.6,107.7L281.7,115.6L274.5,122.9L267.3,130.3L265.2,126.9L263.1,123.4L256.9,122.3L250.7,121.2L245.6,119.0L240.5,116.7L234.8,116.2L225.4,127.3L218.6,136.3L211.8,145.4L204.2,150.6L196.8,155.8L185.8,156.9L183.4,151.8L181.1,146.6L179.4,141.7L177.9,136.9L184.8,127.4L191.8,118.0L201.3,107.4L210.9,97.0L220.5,86.8L230.1,76.7L237.3,66.7L244.4,56.7L251.6,45.7L258.9,34.7L266.2,24.7L273.6,14.8L281.7,7.2L289.9,-0.2L298.0,-7.5L306.1,-13.9L314.2,-20.1L322.3,-26.3L332.0,-33.5"/>
<path d="M152.3,424.3L155.7,416.2L159.2,408.2L165.1,401.0L171.1,393.8L177.2,386.7L182.5,375.6L187.9,364.5L188.6,353.3L183.3,351.4L185.4,342.4L187.5,333.6L193.2,324.8L199.0,316.2L205.2,301.4L204.7,291.9L211.6,285.2L218.6,278.5L226.2,273.3L233.9,268.2L241.4,255.3L246.8,248.1L252.3,240.9L260.0,237.1L267.7,233.5L273.7,238.1L282.9,236.2L292.2,234.3L300.6,230.8L309.2,227.4L321.2,224.3L327.8,222.5L334.3,220.7L341.5,224.6L341.5,233.4L348.2,224.6L353.9,216.5L345.6,215.8L347.3,207.7L355.8,204.0L364.2,200.4L356.9,199.0L345.4,203.3L334.0,207.8L332.8,205.0L322.1,211.3L309.8,213.6L303.0,210.3L296.5,212.2L290.0,214.2L287.4,211.1L284.8,208.0L290.9,201.9L297.0,195.8L301.3,199.9L311.4,192.2L321.5,194.2L329.3,192.1L337.1,190.0L344.4,188.4L351.7,186.8L359.6,184.9L367.5,183.1L370.0,187.5L372.6,191.9L381.3,193.5L388.5,194.7L395.7,196.0L401.5,200.2L413.8,200.7L417.6,191.1L424.8,195.4L424.7,190.5L424.6,185.6L429.1,180.7L419.8,180.8L412.4,179.0L412.6,173.1L421.3,168.4L424.3,162.7L430.9,157.6L437.5,152.6L446.1,150.8L447.4,154.2L457.9,153.9L457.3,162.3L466.1,164.5L470.2,168.1L479.9,166.0L487.2,164.6L494.6,163.3L499.9,158.6L505.3,153.9L514.0,152.6L522.6,151.3L531.3,148.3L539.9,145.3L545.9,140.3L551.9,135.3L559.4,133.0L567.0,130.7L569.2,136.8L569.7,141.7L570.1,146.5L568.3,152.2L566.5,157.8L565.7,162.7L565.0,167.7L561.1,174.5L554.0,178.0L547.0,181.5L539.0,183.9"/>
</g></g>
<g clip-path="url(#mapclip)">
<g id="graticule" fill="none" stroke="#cbcbcb" stroke-width="1.7">
<path d="M693.7,870.1L694.8,868.6L696.0,867.1L697.1,865.7L698.2,864.2L699.4,862.8L700.6,861.4L701.8,860.0L702.9,858.6L704.2,857.2L705.4,855.8L706.6,854.4L707.8,853.1L709.1,851.7L710.3,850.4L711.6,849.0L712.9,847.7L714.2,846.4L715.5,845.1L716.8,843.8L718.1,842.5L719.5,841.3L720.8,840.0L722.2,838.8L723.6,837.6L724.9,836.3L726.3,835.1L727.7,833.9L729.1,832.7L730.5,831.6L732.0,830.4L733.4,829.3L734.8,828.1L736.3,827.0L737.8,825.9L739.2,824.8L740.7,823.7L742.2,822.6L743.7,821.6L745.2,820.5L746.7,819.5L748.3,818.5L749.8,817.4L751.3,816.4L752.9,815.5L754.4,814.5L756.0,813.5L757.6,812.6L759.2,811.6L760.7,810.7L762.3,809.8L763.9,808.9L765.5,808.0L767.2,807.2L768.8,806.3L770.4,805.5L772.1,804.6L773.7,803.8L775.4,803.0L777.0,802.2L778.7,801.4L780.4,800.7L782.0,799.9L783.7,799.2L785.4,798.5L787.1,797.8L788.8,797.1L790.5,796.4L792.2,795.8L793.9,795.1L795.7,794.5L797.4,793.8L799.1,793.2L800.9,792.6L802.6,792.1L804.3,791.5L806.1,791.0L807.9,790.4L809.6,789.9L811.4,789.4L813.1,788.9L814.9,788.4L816.7,788.0L818.5,787.5L820.3,787.1L822.0,786.7L823.8,786.3L825.6,785.9L827.4,785.5L829.2,785.1L831.0,784.8L832.8,784.5L834.7,784.2L836.5,783.9L838.3,783.6L840.1,783.3L841.9,783.0L843.7,782.8L845.6,782.6L847.4,782.4L849.2,782.2L851.0,782.0L852.9,781.8L854.7,781.7L856.5,781.6L858.4,781.4L860.2,781.3L862.0,781.2L863.9,781.2L865.7,781.1L867.6,781.1L869.4,781.0L871.2,781.0L873.1,781.0L874.9,781.0L876.7,781.1L878.6,781.1L880.4,781.2L882.3,781.3L884.1,781.4L885.9,781.5L887.8,781.6L889.6,781.7L891.4,781.9L893.3,782.1L895.1,782.3L896.9,782.5L898.8,782.7L900.6,782.9L902.4,783.1L904.2,783.4L906.1,783.7L907.9,784.0L909.7,784.3L911.5,784.6L913.3,784.9L915.1,785.3L916.9,785.7L918.7,786.0L920.5,786.4L922.3,786.9L924.1,787.3L925.9,787.7L927.7,788.2L929.5,788.7L931.3,789.1L933.0,789.7L934.8,790.2L936.6,790.7L938.3,791.2L940.1,791.8L941.8,792.4L943.6,793.0L945.3,793.6L947.1,794.2L948.8,794.8L950.5,795.5L952.3,796.2L954.0,796.8L955.7,797.5L957.4,798.2L959.1,799.0L960.8,799.7L962.5,800.5L964.2,801.2L965.9,802.0L967.5,802.8L969.2,803.6L970.8,804.4L972.5,805.3L974.1,806.1L975.8,807.0L977.4,807.9L979.0,808.8L980.6,809.7L982.3,810.6L983.9,811.5L985.4,812.5L987.0,813.5L988.6,814.4L990.2,815.4L991.7,816.4L993.3,817.5L994.8,818.5L996.4,819.5L997.9,820.6L999.4,821.7L1000.9,822.7L1002.4,823.8L1003.9,825.0L1005.4,826.1L1006.9,827.2L1008.3,828.4L1009.8,829.5L1011.2,830.7L1012.7,831.9L1014.1,833.1L1015.5,834.3L1016.9,835.5L1018.3,836.8L1019.7,838.0L1021.1,839.3L1022.4,840.6L1023.8,841.8L1025.1,843.1L1026.5,844.4L1027.8,845.8L1029.1,847.1L1030.4,848.4L1031.7,849.8L1033.0,851.2L1034.2,852.6L1035.5,853.9L1036.7,855.3L1037.9,856.8L1039.2,858.2L1040.4,859.6L1041.6,861.1L1042.7,862.5L1043.9,864.0L1045.1,865.5L1046.2,867.0L1047.3,868.5L1048.5,870.0L1049.6,871.5L1050.7,873.0L1051.7,874.6L1052.8,876.1L1053.8,877.7L1054.9,879.2L1055.9,880.8L1056.9,882.4L1057.9,884.0L1058.9,885.6L1059.9,887.2L1060.8,888.9L1061.8,890.5L1062.7,892.1L1063.6,893.8L1064.5,895.4L1065.4,897.1L1066.3,898.8L1067.1,900.5L1068.0,902.2L1068.8,903.9L1069.6,905.6L1070.4,907.3L1071.2,909.0L1072.0,910.8L1072.7,912.5L1073.5,914.2L1074.2,916.0L1074.9,917.8L1075.6,919.5L1076.3,921.3L1077.0,923.1L1077.6,924.9L1078.2,926.7L1078.9,928.5L1079.5,930.3L1080.0,932.1L1080.6,933.9L1081.2,935.7L1081.7,937.6L1082.2,939.4L1082.7,941.2L1083.2,943.1L1083.7,944.9L1084.2,946.8L1084.6,948.6L1085.0,950.5L1085.4,952.4L1085.8,954.3L1086.2,956.1L1086.6,958.0L1086.9,959.9L1087.2,961.8L1087.5,963.7L1087.8,965.6L1088.1,967.5L1088.4,969.4L1088.6,971.3L1088.8,973.2L1089.0,975.1L1089.2,977.0L1089.4,979.0L1089.6,980.9L1089.7,982.8L1089.8,984.7L1089.9,986.7L1090.0,988.6L1090.1,990.5L1090.1,992.4L1090.2,994.4L1090.2,996.3L1090.2,998.2L1090.2,1000.2L1090.1,1002.1L1090.1,1004.1L1090.0,1006.0L1089.9,1007.9L1089.8,1009.9L1089.7,1011.8L1089.6,1013.7L1089.4,1015.7L1089.2,1017.6L1089.1,1019.6L1088.9,1021.5L1088.6,1023.4L1088.4,1025.4L1088.1,1027.3L1087.8,1029.2L1087.6,1031.1L1087.2,1033.1L1086.9,1035.0L1086.6,1036.9L1086.2,1038.8L1085.8,1040.7L1085.4,1042.7L1085.0,1044.6L1084.6,1046.5L1084.1,1048.4L1083.7,1050.3L1083.2,1052.2L1082.7,1054.1L1082.1,1056.0L1081.6,1057.9L1081.1,1059.7L1080.5,1061.6L1079.9,1063.5L1079.3,1065.4L1078.7,1067.2L1078.0,1069.1L1077.4,1071.0L1076.7,1072.8L1076.0,1074.6L1075.3,1076.5L1074.6,1078.3L1073.8,1080.1L1073.1,1082.0L1072.3,1083.8L1071.5,1085.6L1070.7,1087.4L1069.9,1089.2L1069.0,1091.0L1068.2,1092.8L1067.3,1094.5L1066.4,1096.3L1065.5,1098.1L1064.6,1099.8L1063.6,1101.6L1062.7,1103.3L1061.7,1105.0L1060.7,1106.8L1059.7,1108.5L1058.7,1110.2L1057.7,1111.9L1056.6,1113.6L1055.5,1115.2L1054.5,1116.9L1053.4,1118.6L1052.2,1120.2L1051.1,1121.8L1050.0,1123.5L1048.8,1125.1L1047.6,1126.7L1046.5,1128.3L1045.3,1129.9L1044.0,1131.5L1042.8,1133.1L1041.6,1134.6L1040.3,1136.2L1039.0,1137.7L1037.7,1139.2L1036.4,1140.7L1035.1,1142.2L1033.8,1143.7L1032.4,1145.2L1031.1,1146.7L1029.7,1148.1L1028.3,1149.6L1026.9,1151.0L1025.5,1152.4L1024.1,1153.8L1022.6,1155.2L1021.2,1156.6L1019.7,1158.0L1018.2,1159.3L1016.8,1160.7L1015.3,1162.0L1013.7,1163.3L1012.2,1164.6L1010.7,1165.9L1009.1,1167.2L1007.6,1168.5L1006.0,1169.7L1004.4,1170.9L1002.8,1172.2L1001.2,1173.4L999.6,1174.6L997.9,1175.7L996.3,1176.9L994.6,1178.0L993.0,1179.2L991.3,1180.3L989.6,1181.4L987.9,1182.5L986.2,1183.5L984.5,1184.6L982.8,1185.6L981.1,1186.7L979.3,1187.7L977.6,1188.7L975.8,1189.7L974.0,1190.6L972.3,1191.6L970.5,1192.5L968.7,1193.4L966.9,1194.3L965.1,1195.2L963.2,1196.1L961.4,1196.9L959.6,1197.7L957.7,1198.6L955.9,1199.4L954.0,1200.1L952.2,1200.9L950.3,1201.7L948.4,1202.4L946.5,1203.1L944.6,1203.8L942.7,1204.5L940.8,1205.1L938.9,1205.8L937.0,1206.4L935.1,1207.0L933.2,1207.6L931.2,1208.2L929.3,1208.8L927.4,1209.3L925.4,1209.8L923.5,1210.3L921.5,1210.8L919.5,1211.3L917.6,1211.7L915.6,1212.2L913.6,1212.6L911.7,1213.0L909.7,1213.4L907.7,1213.7L905.7,1214.1L903.7,1214.4L901.8,1214.7L899.8,1215.0L897.8,1215.3L895.8,1215.6L893.8,1215.8L891.8,1216.0L889.8,1216.2L887.8,1216.4L885.8,1216.6L883.8,1216.7L881.8,1216.8L879.7,1216.9L877.7,1217.0L875.7,1217.1L873.7,1217.2L871.7,1217.2L869.7,1217.2L867.7,1217.2L865.7,1217.2L863.7,1217.2L861.7,1217.1L859.7,1217.1L857.7,1217.0L855.7,1216.9L853.7,1216.7L851.7,1216.6L849.7,1216.4L847.7,1216.2L845.7,1216.0L843.7,1215.8L841.7,1215.6L839.7,1215.3L837.7,1215.1L835.8,1214.8L833.8,1214.5L831.8,1214.2L829.8,1213.8L827.9,1213.5L825.9,1213.1L824.0,1212.7L822.0,1212.3L820.1,1211.9L818.1,1211.4L816.2,1211.0L814.2,1210.5L812.3,1210.0L810.4,1209.5L808.5,1208.9L806.6,1208.4L804.7,1207.8L802.8,1207.2L800.9,1206.6L799.0,1206.0L797.1,1205.4L795.2,1204.7L793.3,1204.1L791.5,1203.4L789.6,1202.7L787.8,1202.0L785.9,1201.2L784.1,1200.5L782.3,1199.7L780.5,1198.9L778.6,1198.1L776.8,1197.3L775.0,1196.5L773.3,1195.7L771.5,1194.8L769.7,1193.9L767.9,1193.0L766.2,1192.1L764.5,1191.2L762.7,1190.3L761.0,1189.3L759.3,1188.3L757.6,1187.3L755.9,1186.3L754.2,1185.3L752.5,1184.3L750.8,1183.3L749.2,1182.2L747.5,1181.1L745.9,1180.0L744.3,1178.9L742.7,1177.8L741.1,1176.7L739.5,1175.6L737.9,1174.4L736.3,1173.2L734.8,1172.1L733.2,1170.9L731.7,1169.6L730.2,1168.4L728.6,1167.2L727.1,1165.9L725.7,1164.7L724.2,1163.4L722.7,1162.1L721.3,1160.8L719.8,1159.5L718.4,1158.2L717.0,1156.8L715.6,1155.5L714.2,1154.1L712.8,1152.8L711.4,1151.4L710.1,1150.0L708.8,1148.6L707.4,1147.2L706.1,1145.7L704.8,1144.3L703.5,1142.8L702.3,1141.4L701.0,1139.9L699.8,1138.4L698.5,1136.9L697.3,1135.4L696.1,1133.9L694.9,1132.4L693.8,1130.8L692.6,1129.3L691.5,1127.7L690.3,1126.2L689.2,1124.6L688.1,1123.0L687.0,1121.4L686.0,1119.8L684.9,1118.2L683.9,1116.6L682.8,1115.0L681.8,1113.4L680.8,1111.7L679.9,1110.1L678.9,1108.4L677.9,1106.7L677.0,1105.1L676.1,1103.4L675.2,1101.7L674.3,1100.0L673.4,1098.3L672.6,1096.6L671.7,1094.9L670.9,1093.2L670.1,1091.4L669.3,1089.7L668.5,1088.0L667.7,1086.2L667.0,1084.5L666.3,1082.7L665.5,1080.9L664.8,1079.2L664.2,1077.4L663.5,1075.6L662.8,1073.8L662.2,1072.0L661.6,1070.2L661.0,1068.4L660.4,1066.6L659.8,1064.8L659.3,1063.0L658.7,1061.2L658.2,1059.4L657.7,1057.5L657.2,1055.7L656.7,1053.9L656.3,1052.0L655.8,1050.2L655.4,1048.3L655.0,1046.5L654.6,1044.7L654.2,1042.8L653.9,1040.9L653.5,1039.1L653.2,1037.2L652.9,1035.4L652.6,1033.5L652.3,1031.6L652.0,1029.8L651.8,1027.9L651.6,1026.0L651.3,1024.2L651.2,1022.3L651.0,1020.4L650.8,1018.6L650.7,1016.7L650.5,1014.8L650.4,1012.9L650.3,1011.1L650.2,1009.2L650.2,1007.3L650.1,1005.4L650.1,1003.6L650.1,1001.7L650.1,999.8L650.1,997.9L650.1,996.1L650.2,994.2L650.2,992.3L650.3,990.4L650.4,988.6L650.5,986.7L650.7,984.8L650.8,983.0L651.0,981.1L651.1,979.3L651.3,977.4L651.5,975.5L651.8,973.7L652.0,971.8L652.3,970.0L652.5,968.2L652.8,966.3L653.1,964.5L653.5,962.6L653.8,960.8L654.1,959.0L654.5,957.1L654.9,955.3L655.3,953.5L655.7,951.7L656.1,949.9L656.6,948.1L657.0,946.3L657.5,944.5L658.0,942.7L658.5,940.9L659.0,939.1L659.6,937.3L660.1,935.6L660.7,933.8L661.3,932.0L661.9,930.3L662.5,928.5L663.1,926.8L663.7,925.0L664.4,923.3L665.0,921.6L665.7,919.9L666.4,918.1L667.1,916.4L667.9,914.7L668.6,913.0L669.4,911.3L670.1,909.6L670.9,908.0L671.7,906.3L672.5,904.6L673.3,903.0L674.2,901.3L675.0,899.7L675.9,898.1L676.8,896.4L677.7,894.8L678.6,893.2L679.5,891.6L680.4,890.0L681.4,888.4L682.3,886.8L683.3,885.3L684.3,883.7L685.3,882.2L686.3,880.6L687.3,879.1L688.4,877.6L689.4,876.0L690.5,874.5L691.5,873.0L692.6,871.5L693.7,870.1"/>
<path d="M524.6,731.4L526.8,728.6L529.0,725.9L531.2,723.2L533.5,720.5L535.8,717.8L538.1,715.1L540.4,712.5L542.8,709.8L545.2,707.2L547.6,704.6L550.0,702.1L552.4,699.5L554.8,697.0L557.3,694.5L559.8,692.0L562.3,689.6L564.8,687.1L567.4,684.7L569.9,682.3L572.5,679.9L575.1,677.5L577.7,675.2L580.4,672.9L583.0,670.6L585.7,668.3L588.4,666.1L591.1,663.8L593.8,661.6L596.6,659.4L599.3,657.3L602.1,655.1L604.9,653.0L607.7,650.9L610.5,648.8L613.3,646.8L616.2,644.7L619.1,642.7L621.9,640.7L624.8,638.8L627.7,636.8L630.7,634.9L633.6,633.0L636.6,631.1L639.5,629.3L642.5,627.5L645.5,625.7L648.5,623.9L651.6,622.2L654.6,620.4L657.6,618.7L660.7,617.0L663.8,615.4L666.9,613.8L670.0,612.1L673.1,610.6L676.2,609.0L679.4,607.5L682.5,606.0L685.7,604.5L688.8,603.0L692.0,601.6L695.2,600.2L698.4,598.8L701.6,597.4L704.9,596.1L708.1,594.8L711.4,593.5L714.6,592.2L717.9,591.0L721.2,589.8L724.4,588.6L727.7,587.5L731.0,586.3L734.4,585.2L737.7,584.2L741.0,583.1L744.3,582.1L747.7,581.1L751.0,580.1L754.4,579.2L757.8,578.2L761.2,577.3L764.5,576.5L767.9,575.6L771.3,574.8L774.7,574.0L778.1,573.3L781.6,572.5L785.0,571.8L788.4,571.1L791.8,570.5L795.3,569.8L798.7,569.2L802.2,568.7L805.6,568.1L809.1,567.6L812.5,567.1L816.0,566.6L819.5,566.2L823.0,565.8L826.4,565.4L829.9,565.0L833.4,564.7L836.9,564.4L840.4,564.1L843.9,563.9L847.4,563.7L850.9,563.5L854.4,563.3L857.9,563.2L861.4,563.0L864.9,563.0L868.4,562.9L871.9,562.9L875.4,562.9L878.9,562.9L882.4,563.0L885.9,563.0L889.4,563.1L892.9,563.3L896.4,563.4L900.0,563.6L903.5,563.9L907.0,564.1L910.5,564.4L914.0,564.7L917.5,565.0L921.0,565.4L924.5,565.8L928.0,566.2L931.5,566.6L935.0,567.1L938.4,567.6L941.9,568.1L945.4,568.7L948.9,569.3L952.4,569.9L955.8,570.5L959.3,571.2L962.8,571.9L966.2,572.6L969.7,573.4L973.1,574.1L976.6,574.9L980.0,575.8L983.4,576.6L986.9,577.5L990.3,578.4L993.7,579.4L997.1,580.4L1000.5,581.4L1003.9,582.4L1007.3,583.5L1010.7,584.5L1014.1,585.6L1017.4,586.8L1020.8,588.0L1024.1,589.2L1027.5,590.4L1030.8,591.6L1034.1,592.9L1037.4,594.2L1040.7,595.5L1044.0,596.9L1047.3,598.3L1050.6,599.7L1053.9,601.1L1057.1,602.6L1060.4,604.1L1063.6,605.6L1066.8,607.2L1070.0,608.8L1073.2,610.4L1076.4,612.0L1079.6,613.7L1082.8,615.3L1085.9,617.1L1089.1,618.8L1092.2,620.6L1095.3,622.4L1098.4,624.2L1101.5,626.0L1104.6,627.9L1107.6,629.8L1110.7,631.7L1113.7,633.7L1116.7,635.6L1119.7,637.6L1122.7,639.7L1125.7,641.7L1128.6,643.8L1131.6,645.9L1134.5,648.0L1137.4,650.2L1140.3,652.4L1143.2,654.6L1146.0,656.8L1148.9,659.1L1151.7,661.4L1154.5,663.7L1157.3,666.0L1160.1,668.4L1162.8,670.8L1165.6,673.2L1168.3,675.6L1171.0,678.1L1173.7,680.5L1176.3,683.0L1179.0,685.6L1181.6,688.1L1184.2,690.7L1186.8,693.3L1189.3,695.9L1191.9,698.6L1194.4,701.3L1196.9,704.0L1199.3,706.7L1201.8,709.4L1204.2,712.2L1206.6,715.0L1209.0,717.8L1211.4,720.6L1213.7,723.5L1216.1,726.3L1218.4,729.2L1220.6,732.1L1222.9,735.1L1225.1,738.1L1227.3,741.0L1229.5,744.0L1231.7,747.1L1233.8,750.1L1235.9,753.2L1238.0,756.3L1240.0,759.4L1242.1,762.5L1244.1,765.7L1246.1,768.8L1248.0,772.0L1249.9,775.2L1251.8,778.4L1253.7,781.7L1255.6,785.0L1257.4,788.2L1259.2,791.5L1260.9,794.9L1262.7,798.2L1264.4,801.6L1266.1,804.9L1267.7,808.3L1269.4,811.7L1271.0,815.2L1272.5,818.6L1274.1,822.1L1275.6,825.5L1277.0,829.0L1278.5,832.5L1279.9,836.1L1281.3,839.6L1282.7,843.2L1284.0,846.7L1285.3,850.3L1286.6,853.9L1287.8,857.5L1289.0,861.1L1290.2,864.8L1291.3,868.4L1292.5,872.1L1293.5,875.8L1294.6,879.5L1295.6,883.2L1296.6,886.9L1297.5,890.6L1298.5,894.4L1299.4,898.1L1300.2,901.9L1301.0,905.7L1301.8,909.5L1302.6,913.3L1303.3,917.1L1304.0,920.9L1304.6,924.7L1305.3,928.5L1305.8,932.4L1306.4,936.2L1306.9,940.1L1307.4,944.0L1307.8,947.8L1308.3,951.7L1308.6,955.6L1309.0,959.5L1309.3,963.4L1309.6,967.3L1309.8,971.3L1310.0,975.2L1310.2,979.1L1310.3,983.0L1310.4,987.0L1310.5,990.9L1310.5,994.9L1310.5,998.8L1310.4,1002.8L1310.3,1006.7L1310.2,1010.7L1310.1,1014.6L1309.9,1018.6L1309.6,1022.6L1309.4,1026.5L1309.1,1030.5L1308.7,1034.5L1308.4,1038.4L1307.9,1042.4L1307.5,1046.4L1307.0,1050.4L1306.5,1054.3L1305.9,1058.3L1305.3,1062.2L1304.7,1066.2L1304.0,1070.2L1303.3,1074.1L1302.5,1078.1L1301.8,1082.0L1300.9,1086.0L1300.1,1089.9L1299.2,1093.8L1298.2,1097.8L1297.3,1101.7L1296.3,1105.6L1295.2,1109.5L1294.1,1113.4L1293.0,1117.3L1291.9,1121.2L1290.7,1125.1L1289.4,1129.0L1288.2,1132.9L1286.9,1136.7L1285.5,1140.6L1284.1,1144.4L1282.7,1148.2L1281.3,1152.1L1279.8,1155.9L1278.3,1159.7L1276.7,1163.5L1275.1,1167.2L1273.4,1171.0L1271.8,1174.8L1270.1,1178.5L1268.3,1182.2L1266.5,1185.9L1264.7,1189.6L1262.9,1193.3L1261.0,1197.0L1259.0,1200.6L1257.1,1204.3L1255.1,1207.9L1253.0,1211.5L1251.0,1215.1L1248.9,1218.7L1246.7,1222.2L1244.6,1225.7L1242.3,1229.3L1240.1,1232.8L1237.8,1236.2L1235.5,1239.7L1233.2,1243.1L1230.8,1246.6L1228.4,1250.0L1225.9,1253.3L1223.4,1256.7L1220.9,1260.0L1218.4,1263.3L1215.8,1266.6L1213.2,1269.9L1210.5,1273.2L1207.9,1276.4L1205.2,1279.6L1202.4,1282.8L1199.6,1285.9L1196.8,1289.0L1194.0,1292.1L1191.1,1295.2L1188.2,1298.3L1185.3,1301.3L1182.4,1304.3L1179.4,1307.2L1176.4,1310.2L1173.3,1313.1L1170.2,1316.0L1167.1,1318.9L1164.0,1321.7L1160.8,1324.5L1157.7,1327.3L1154.4,1330.0L1151.2,1332.7L1147.9,1335.4L1144.6,1338.1L1141.3,1340.7L1138.0,1343.3L1134.6,1345.8L1131.2,1348.4L1127.8,1350.9L1124.3,1353.3L1120.9,1355.8L1117.4,1358.2L1113.8,1360.6L1110.3,1362.9L1106.7,1365.2L1103.1,1367.5L1099.5,1369.7L1095.9,1371.9L1092.2,1374.1L1088.5,1376.2L1084.8,1378.3L1081.1,1380.4L1077.4,1382.4L1073.6,1384.4L1069.8,1386.4L1066.1,1388.3L1062.2,1390.2L1058.4,1392.0L1054.5,1393.8L1050.7,1395.6L1046.8,1397.3L1042.9,1399.0L1039.0,1400.7L1035.0,1402.3L1031.1,1403.9L1027.1,1405.5L1023.1,1407.0L1019.1,1408.5L1015.1,1409.9L1011.1,1411.3L1007.1,1412.7L1003.0,1414.0L998.9,1415.3L994.9,1416.5L990.8,1417.7L986.7,1418.9L982.6,1420.0L978.5,1421.1L974.3,1422.1L970.2,1423.2L966.1,1424.1L961.9,1425.1L957.7,1425.9L953.6,1426.8L949.4,1427.6L945.2,1428.4L941.0,1429.1L936.8,1429.8L932.6,1430.4L928.4,1431.1L924.2,1431.6L920.0,1432.1L915.8,1432.6L911.6,1433.1L907.3,1433.5L903.1,1433.9L898.9,1434.2L894.7,1434.5L890.4,1434.7L886.2,1434.9L882.0,1435.1L877.7,1435.2L873.5,1435.3L869.3,1435.3L865.0,1435.3L860.8,1435.3L856.6,1435.2L852.4,1435.1L848.1,1435.0L843.9,1434.8L839.7,1434.5L835.5,1434.2L831.3,1433.9L827.1,1433.6L822.9,1433.2L818.7,1432.7L814.6,1432.3L810.4,1431.8L806.2,1431.2L802.1,1430.6L797.9,1430.0L793.8,1429.3L789.6,1428.6L785.5,1427.8L781.4,1427.1L777.3,1426.2L773.2,1425.4L769.1,1424.5L765.1,1423.5L761.0,1422.6L757.0,1421.5L752.9,1420.5L748.9,1419.4L744.9,1418.3L740.9,1417.1L736.9,1415.9L732.9,1414.7L729.0,1413.4L725.1,1412.1L721.1,1410.7L717.2,1409.4L713.3,1407.9L709.5,1406.5L705.6,1405.0L701.8,1403.5L697.9,1401.9L694.1,1400.3L690.3,1398.7L686.6,1397.0L682.8,1395.3L679.1,1393.6L675.4,1391.8L671.7,1390.0L668.0,1388.2L664.4,1386.3L660.7,1384.4L657.1,1382.5L653.5,1380.6L649.9,1378.6L646.4,1376.5L642.9,1374.5L639.4,1372.4L635.9,1370.3L632.4,1368.1L629.0,1366.0L625.6,1363.7L622.2,1361.5L618.8,1359.2L615.5,1356.9L612.2,1354.6L608.9,1352.3L605.6,1349.9L602.4,1347.5L599.1,1345.0L596.0,1342.6L592.8,1340.1L589.7,1337.5L586.5,1335.0L583.5,1332.4L580.4,1329.8L577.4,1327.2L574.4,1324.6L571.4,1321.9L568.4,1319.2L565.5,1316.4L562.6,1313.7L559.7,1310.9L556.9,1308.1L554.1,1305.3L551.3,1302.5L548.5,1299.6L545.8,1296.7L543.1,1293.8L540.5,1290.9L537.8,1287.9L535.2,1284.9L532.6,1281.9L530.1,1278.9L527.6,1275.9L525.1,1272.8L522.6,1269.7L520.2,1266.6L517.8,1263.5L515.4,1260.4L513.1,1257.2L510.8,1254.1L508.5,1250.9L506.3,1247.7L504.1,1244.4L501.9,1241.2L499.7,1237.9L497.6,1234.7L495.5,1231.4L493.5,1228.1L491.5,1224.7L489.5,1221.4L487.5,1218.0L485.6,1214.7L483.7,1211.3L481.8,1207.9L480.0,1204.5L478.2,1201.1L476.4,1197.6L474.7,1194.2L473.0,1190.7L471.3,1187.3L469.7,1183.8L468.1,1180.3L466.5,1176.8L465.0,1173.3L463.5,1169.8L462.0,1166.2L460.6,1162.7L459.2,1159.1L457.8,1155.6L456.5,1152.0L455.1,1148.4L453.9,1144.8L452.6,1141.2L451.4,1137.6L450.2,1134.0L449.1,1130.4L448.0,1126.7L446.9,1123.1L445.9,1119.5L444.9,1115.8L443.9,1112.2L442.9,1108.5L442.0,1104.9L441.1,1101.2L440.3,1097.5L439.5,1093.9L438.7,1090.2L437.9,1086.5L437.2,1082.8L436.5,1079.1L435.9,1075.4L435.3,1071.7L434.7,1068.0L434.1,1064.3L433.6,1060.6L433.1,1056.9L432.7,1053.2L432.3,1049.5L431.9,1045.8L431.5,1042.1L431.2,1038.4L430.9,1034.7L430.6,1031.0L430.4,1027.3L430.2,1023.6L430.0,1019.9L429.9,1016.2L429.8,1012.5L429.7,1008.8L429.7,1005.1L429.7,1001.4L429.7,997.7L429.8,994.1L429.9,990.4L430.0,986.7L430.1,983.0L430.3,979.4L430.5,975.7L430.8,972.0L431.0,968.4L431.3,964.7L431.7,961.1L432.0,957.4L432.4,953.8L432.9,950.2L433.3,946.5L433.8,942.9L434.3,939.3L434.9,935.7L435.4,932.1L436.1,928.5L436.7,924.9L437.4,921.4L438.1,917.8L438.8,914.3L439.5,910.7L440.3,907.2L441.1,903.6L442.0,900.1L442.8,896.6L443.7,893.1L444.7,889.6L445.6,886.1L446.6,882.6L447.6,879.2L448.7,875.7L449.7,872.3L450.8,868.8L451.9,865.4L453.1,862.0L454.3,858.6L455.5,855.2L456.7,851.9L458.0,848.5L459.3,845.1L460.6,841.8L461.9,838.5L463.3,835.2L464.7,831.9L466.1,828.6L467.5,825.3L469.0,822.0L470.5,818.8L472.0,815.6L473.6,812.3L475.2,809.1L476.8,806.0L478.4,802.8L480.0,799.6L481.7,796.5L483.4,793.3L485.1,790.2L486.9,787.1L488.7,784.0L490.5,781.0L492.3,777.9L494.1,774.9L496.0,771.9L497.9,768.9L499.8,765.9L501.7,762.9L503.7,760.0L505.7,757.0L507.7,754.1L509.7,751.2L511.8,748.3L513.9,745.4L516.0,742.6L518.1,739.8L520.2,736.9L522.4,734.2L524.6,731.4"/>
<path d="M365.2,580.6L368.5,576.8L371.8,573.0L375.1,569.3L378.4,565.6L381.8,561.9L385.2,558.2L388.6,554.5L392.0,550.9L395.5,547.3L399.0,543.8L402.5,540.2L406.1,536.7L409.6,533.3L413.2,529.8L416.8,526.4L420.5,523.0L424.2,519.6L427.8,516.3L431.6,513.0L435.3,509.7L439.0,506.5L442.8,503.3L446.6,500.1L450.4,496.9L454.3,493.8L458.2,490.7L462.1,487.6L466.0,484.6L469.9,481.6L473.8,478.6L477.8,475.6L481.8,472.7L485.8,469.8L489.9,467.0L493.9,464.1L498.0,461.3L502.1,458.6L506.2,455.8L510.3,453.1L514.5,450.4L518.6,447.8L522.8,445.2L527.0,442.6L531.3,440.1L535.5,437.5L539.8,435.1L544.0,432.6L548.3,430.2L552.6,427.8L557.0,425.4L561.3,423.1L565.7,420.8L570.0,418.6L574.4,416.3L578.8,414.1L583.3,412.0L587.7,409.8L592.1,407.7L596.6,405.7L601.1,403.6L605.6,401.6L610.1,399.7L614.6,397.7L619.2,395.8L623.7,394.0L628.3,392.1L632.9,390.3L637.4,388.6L642.1,386.8L646.7,385.1L651.3,383.5L655.9,381.8L660.6,380.2L665.3,378.7L669.9,377.1L674.6,375.7L679.3,374.2L684.0,372.8L688.7,371.4L693.5,370.0L698.2,368.7L703.0,367.4L707.7,366.1L712.5,364.9L717.3,363.7L722.1,362.6L726.9,361.5L731.7,360.4L736.5,359.4L741.3,358.3L746.1,357.4L751.0,356.4L755.8,355.5L760.7,354.7L765.5,353.8L770.4,353.0L775.3,352.3L780.1,351.5L785.0,350.8L789.9,350.2L794.8,349.6L799.7,349.0L804.6,348.4L809.5,347.9L814.5,347.5L819.4,347.0L824.3,346.6L829.2,346.3L834.2,345.9L839.1,345.6L844.1,345.4L849.0,345.1L854.0,345.0L858.9,344.8L863.9,344.7L868.8,344.6L873.8,344.6L878.8,344.6L883.7,344.6L888.7,344.7L893.6,344.8L898.6,345.0L903.6,345.1L908.6,345.4L913.5,345.6L918.5,345.9L923.5,346.2L928.4,346.6L933.4,347.0L938.4,347.5L943.3,347.9L948.3,348.5L953.3,349.0L958.2,349.6L963.2,350.2L968.1,350.9L973.1,351.6L978.0,352.4L983.0,353.1L987.9,354.0L992.9,354.8L997.8,355.7L1002.7,356.7L1007.7,357.6L1012.6,358.6L1017.5,359.7L1022.4,360.8L1027.3,361.9L1032.2,363.0L1037.1,364.2L1042.0,365.5L1046.9,366.7L1051.8,368.1L1056.6,369.4L1061.5,370.8L1066.4,372.2L1071.2,373.7L1076.1,375.2L1080.9,376.7L1085.7,378.3L1090.5,379.9L1095.3,381.6L1100.1,383.3L1104.9,385.0L1109.7,386.8L1114.4,388.6L1119.2,390.4L1123.9,392.3L1128.7,394.2L1133.4,396.2L1138.1,398.2L1142.8,400.2L1147.5,402.3L1152.2,404.4L1156.8,406.6L1161.5,408.8L1166.1,411.0L1170.7,413.2L1175.3,415.6L1179.9,417.9L1184.5,420.3L1189.1,422.7L1193.6,425.1L1198.1,427.6L1202.7,430.2L1207.2,432.7L1211.6,435.4L1216.1,438.0L1220.6,440.7L1225.0,443.4L1229.4,446.2L1233.8,449.0L1238.2,451.8L1242.5,454.7L1246.9,457.6L1251.2,460.5L1255.5,463.5L1259.8,466.5L1264.1,469.6L1268.3,472.7L1272.5,475.8L1276.7,479.0L1280.9,482.2L1285.0,485.5L1289.2,488.7L1293.3,492.1L1297.4,495.4L1301.5,498.8L1305.5,502.3L1309.5,505.7L1313.5,509.2L1317.5,512.8L1321.4,516.3L1325.4,520.0L1329.2,523.6L1333.1,527.3L1337.0,531.0L1340.8,534.8L1344.6,538.6L1348.3,542.4L1352.1,546.3L1355.8,550.2L1359.5,554.1L1363.1,558.1L1366.7,562.1L1370.3,566.1L1373.9,570.2L1377.4,574.3L1380.9,578.5L1384.4,582.7L1387.8,586.9L1391.3,591.1L1394.6,595.4L1398.0,599.7L1401.3,604.1L1404.6,608.5L1407.8,612.9L1411.1,617.3L1414.2,621.8L1417.4,626.4L1420.5,630.9L1423.6,635.5L1426.6,640.1L1429.6,644.8L1432.6,649.4L1435.5,654.2L1438.4,658.9L1441.3,663.7L1444.1,668.5L1446.9,673.3L1449.6,678.2L1452.4,683.1L1455.0,688.0L1457.7,693.0L1460.2,698.0L1462.8,703.0L1465.3,708.0L1467.8,713.1L1470.2,718.2L1472.6,723.4L1474.9,728.5L1477.2,733.7L1479.5,738.9L1481.7,744.2L1483.9,749.5L1486.0,754.8L1488.1,760.1L1490.1,765.4L1492.1,770.8L1494.1,776.2L1496.0,781.7L1497.9,787.1L1499.7,792.6L1501.4,798.1L1503.2,803.6L1504.8,809.2L1506.5,814.8L1508.0,820.4L1509.6,826.0L1511.1,831.6L1512.5,837.3L1513.9,843.0L1515.2,848.7L1516.5,854.4L1517.7,860.2L1518.9,865.9L1520.0,871.7L1521.1,877.5L1522.2,883.4L1523.1,889.2L1524.1,895.1L1524.9,901.0L1525.7,906.9L1526.5,912.8L1527.2,918.7L1527.9,924.6L1528.5,930.6L1529.0,936.6L1529.5,942.6L1530.0,948.6L1530.4,954.6L1530.7,960.6L1531.0,966.7L1531.2,972.7L1531.3,978.8L1531.4,984.9L1531.5,990.9L1531.5,997.0L1531.4,1003.1L1531.3,1009.3L1531.1,1015.4L1530.9,1021.5L1530.6,1027.6L1530.2,1033.8L1529.8,1039.9L1529.3,1046.1L1528.8,1052.2L1528.2,1058.4L1527.5,1064.6L1526.8,1070.7L1526.0,1076.9L1525.2,1083.1L1524.3,1089.3L1523.4,1095.4L1522.3,1101.6L1521.3,1107.8L1520.1,1114.0L1518.9,1120.1L1517.7,1126.3L1516.3,1132.5L1515.0,1138.6L1513.5,1144.8L1512.0,1150.9L1510.4,1157.1L1508.8,1163.2L1507.1,1169.3L1505.4,1175.5L1503.5,1181.6L1501.7,1187.7L1499.7,1193.8L1497.7,1199.9L1495.6,1205.9L1493.5,1212.0L1491.3,1218.1L1489.1,1224.1L1486.8,1230.1L1484.4,1236.1L1481.9,1242.1L1479.4,1248.1L1476.9,1254.0L1474.2,1260.0L1471.6,1265.9L1468.8,1271.8L1466.0,1277.7L1463.1,1283.6L1460.2,1289.4L1457.2,1295.2L1454.1,1301.0L1451.0,1306.8L1447.8,1312.5L1444.6,1318.3L1441.3,1323.9L1437.9,1329.6L1434.5,1335.3L1431.0,1340.9L1427.5,1346.5L1423.8,1352.0L1420.2,1357.6L1416.5,1363.1L1412.7,1368.5L1408.8,1374.0L1404.9,1379.4L1401.0,1384.7L1397.0,1390.1L1392.9,1395.3L1388.8,1400.6L1384.6,1405.8L1380.3,1411.0L1376.0,1416.2L1371.7,1421.3L1367.2,1426.4L1362.8,1431.4L1358.3,1436.4L1353.7,1441.3L1349.0,1446.2L1344.4,1451.1L1339.6,1455.9L1334.8,1460.7L1330.0,1465.4L1325.1,1470.1L1320.1,1474.7L1315.1,1479.3L1310.1,1483.9L1305.0,1488.4L1299.9,1492.8L1294.7,1497.2L1289.4,1501.6L1284.1,1505.8L1278.8,1510.1L1273.4,1514.3L1268.0,1518.4L1262.5,1522.5L1257.0,1526.5L1251.4,1530.5L1245.8,1534.4L1240.2,1538.3L1234.5,1542.1L1228.8,1545.9L1223.0,1549.6L1217.2,1553.2L1211.3,1556.8L1205.4,1560.3L1199.5,1563.8L1193.5,1567.2L1187.5,1570.5L1181.5,1573.8L1175.4,1577.0L1169.3,1580.2L1163.2,1583.3L1157.0,1586.3L1150.8,1589.3L1144.6,1592.2L1138.3,1595.0L1132.0,1597.8L1125.7,1600.5L1119.3,1603.2L1112.9,1605.8L1106.5,1608.3L1100.1,1610.7L1093.6,1613.1L1087.1,1615.4L1080.6,1617.7L1074.1,1619.9L1067.6,1622.0L1061.0,1624.1L1054.4,1626.1L1047.8,1628.0L1041.1,1629.8L1034.5,1631.6L1027.8,1633.3L1021.2,1635.0L1014.5,1636.5L1007.7,1638.0L1001.0,1639.5L994.3,1640.8L987.5,1642.1L980.8,1643.4L974.0,1644.5L967.2,1645.6L960.5,1646.6L953.7,1647.6L946.9,1648.5L940.1,1649.3L933.3,1650.0L926.4,1650.7L919.6,1651.3L912.8,1651.8L906.0,1652.3L899.2,1652.7L892.4,1653.0L885.5,1653.2L878.7,1653.4L871.9,1653.5L865.1,1653.6L858.3,1653.5L851.5,1653.4L844.7,1653.3L837.9,1653.0L831.1,1652.7L824.4,1652.3L817.6,1651.9L810.9,1651.4L804.1,1650.8L797.4,1650.2L790.7,1649.5L784.0,1648.7L777.3,1647.8L770.6,1646.9L764.0,1645.9L757.3,1644.9L750.7,1643.8L744.1,1642.6L737.5,1641.3L730.9,1640.0L724.4,1638.7L717.9,1637.2L711.4,1635.7L704.9,1634.2L698.4,1632.5L692.0,1630.8L685.6,1629.1L679.2,1627.3L672.8,1625.4L666.5,1623.4L660.2,1621.4L653.9,1619.4L647.6,1617.3L641.4,1615.1L635.2,1612.8L629.1,1610.5L622.9,1608.2L616.8,1605.8L610.8,1603.3L604.7,1600.8L598.7,1598.2L592.8,1595.5L586.8,1592.8L580.9,1590.1L575.1,1587.3L569.2,1584.4L563.4,1581.5L557.7,1578.5L551.9,1575.5L546.3,1572.4L540.6,1569.3L535.0,1566.1L529.4,1562.9L523.9,1559.6L518.4,1556.3L513.0,1552.9L507.6,1549.5L502.2,1546.0L496.9,1542.5L491.6,1539.0L486.4,1535.3L481.2,1531.7L476.0,1528.0L470.9,1524.2L465.9,1520.5L460.8,1516.6L455.9,1512.8L450.9,1508.8L446.0,1504.9L441.2,1500.9L436.4,1496.9L431.7,1492.8L427.0,1488.7L422.3,1484.5L417.7,1480.3L413.1,1476.1L408.6,1471.8L404.2,1467.5L399.7,1463.2L395.4,1458.8L391.1,1454.4L386.8,1450.0L382.6,1445.5L378.4,1441.0L374.3,1436.4L370.2,1431.9L366.2,1427.3L362.2,1422.6L358.3,1418.0L354.4,1413.3L350.6,1408.5L346.8,1403.8L343.1,1399.0L339.4,1394.2L335.8,1389.4L332.2,1384.5L328.7,1379.6L325.2,1374.7L321.8,1369.8L318.4,1364.9L315.1,1359.9L311.8,1354.9L308.6,1349.9L305.4,1344.8L302.3,1339.7L299.3,1334.7L296.3,1329.6L293.3,1324.4L290.4,1319.3L287.5,1314.1L284.7,1308.9L282.0,1303.7L279.3,1298.5L276.6,1293.3L274.1,1288.1L271.5,1282.8L269.0,1277.5L266.6,1272.2L264.2,1266.9L261.8,1261.6L259.6,1256.3L257.3,1250.9L255.1,1245.6L253.0,1240.2L250.9,1234.8L248.9,1229.4L246.9,1224.1L245.0,1218.6L243.1,1213.2L241.3,1207.8L239.5,1202.4L237.8,1196.9L236.1,1191.5L234.5,1186.0L232.9,1180.6L231.4,1175.1L229.9,1169.7L228.5,1164.2L227.1,1158.7L225.8,1153.2L224.5,1147.7L223.3,1142.3L222.1,1136.8L221.0,1131.3L219.9,1125.8L218.9,1120.3L217.9,1114.8L217.0,1109.3L216.1,1103.8L215.3,1098.3L214.5,1092.8L213.8,1087.3L213.1,1081.8L212.5,1076.3L211.9,1070.8L211.3,1065.3L210.8,1059.8L210.4,1054.4L210.0,1048.9L209.6,1043.4L209.3,1037.9L209.1,1032.5L208.9,1027.0L208.7,1021.6L208.6,1016.1L208.5,1010.7L208.5,1005.2L208.5,999.8L208.6,994.4L208.7,989.0L208.8,983.5L209.0,978.1L209.3,972.8L209.5,967.4L209.9,962.0L210.3,956.6L210.7,951.3L211.1,945.9L211.6,940.6L212.2,935.3L212.8,930.0L213.4,924.7L214.1,919.4L214.8,914.1L215.6,908.8L216.4,903.6L217.3,898.3L218.1,893.1L219.1,887.9L220.1,882.7L221.1,877.5L222.1,872.3L223.2,867.2L224.4,862.0L225.5,856.9L226.8,851.8L228.0,846.7L229.3,841.6L230.7,836.5L232.0,831.5L233.4,826.4L234.9,821.4L236.4,816.4L237.9,811.4L239.5,806.5L241.1,801.5L242.8,796.6L244.4,791.7L246.2,786.8L247.9,781.9L249.7,777.0L251.5,772.2L253.4,767.4L255.3,762.5L257.3,757.8L259.2,753.0L261.2,748.3L263.3,743.5L265.4,738.8L267.5,734.1L269.6,729.5L271.8,724.8L274.1,720.2L276.3,715.6L278.6,711.0L280.9,706.5L283.3,701.9L285.7,697.4L288.1,692.9L290.5,688.5L293.0,684.0L295.6,679.6L298.1,675.2L300.7,670.8L303.3,666.4L306.0,662.1L308.6,657.8L311.3,653.5L314.1,649.3L316.9,645.0L319.7,640.8L322.5,636.6L325.4,632.5L328.3,628.3L331.2,624.2L334.1,620.1L337.1,616.0L340.1,612.0L343.2,608.0L346.2,604.0L349.3,600.0L352.4,596.1L355.6,592.2L358.8,588.3L362.0,584.4L365.2,580.6"/>
<path d="M223.7,410.0L227.9,405.5L232.1,401.1L236.3,396.7L240.6,392.4L244.9,388.1L249.3,383.8L253.7,379.5L258.0,375.3L262.5,371.1L266.9,367.0L271.4,362.9L275.9,358.8L280.4,354.7L284.9,350.7L289.5,346.7L294.1,342.7L298.7,338.8L303.3,334.9L308.0,331.1L312.7,327.3L317.4,323.5L322.1,319.7L326.9,316.0L331.6,312.3L336.4,308.7L341.2,305.0L346.1,301.5L351.0,297.9L355.8,294.4L360.7,290.9L365.7,287.5L370.6,284.1L375.6,280.7L380.6,277.3L385.6,274.0L390.6,270.7L395.7,267.5L400.7,264.3L405.8,261.1L410.9,258.0L416.1,254.9L421.2,251.8L426.4,248.8L431.5,245.8L436.7,242.8L442.0,239.9L447.2,237.0L452.5,234.2L457.7,231.4L463.0,228.6L468.3,225.8L473.7,223.1L479.0,220.4L484.4,217.8L489.7,215.2L495.1,212.6L500.5,210.1L505.9,207.6L511.4,205.1L516.8,202.7L522.3,200.3L527.8,198.0L533.3,195.7L538.8,193.4L544.3,191.1L549.9,188.9L555.4,186.8L561.0,184.6L566.6,182.5L572.2,180.5L577.8,178.5L583.4,176.5L589.1,174.5L594.7,172.6L600.4,170.7L606.0,168.9L611.7,167.1L617.4,165.3L623.1,163.6L628.9,161.9L634.6,160.3L640.3,158.7L646.1,157.1L651.9,155.6L657.7,154.1L663.4,152.6L669.2,151.2L675.1,149.8L680.9,148.5L686.7,147.2L692.6,145.9L698.4,144.7L704.3,143.5L710.1,142.3L716.0,141.2L721.9,140.1L727.8,139.1L733.7,138.1L739.6,137.1L745.5,136.2L751.5,135.3L757.4,134.5L763.3,133.7L769.3,132.9L775.2,132.2L781.2,131.5L787.2,130.9L793.2,130.3L799.1,129.7L805.1,129.2L811.1,128.7L817.1,128.2L823.1,127.8L829.2,127.5L835.2,127.1L841.2,126.9L847.2,126.6L853.3,126.4L859.3,126.2L865.3,126.1L871.4,126.0L877.4,126.0L883.5,126.0L889.5,126.0L895.6,126.1L901.6,126.2L907.7,126.4L913.8,126.6L919.8,126.8L925.9,127.1L932.0,127.4L938.1,127.8L944.1,128.2L950.2,128.7L956.3,129.2L962.4,129.7L968.4,130.3L974.5,130.9L980.6,131.5L986.7,132.3L992.8,133.0L998.8,133.8L1004.9,134.6L1011.0,135.5L1017.1,136.4L1023.1,137.4L1029.2,138.4L1035.3,139.4L1041.3,140.5L1047.4,141.6L1053.5,142.8L1059.5,144.0L1065.6,145.3L1071.6,146.6L1077.7,147.9L1083.7,149.3L1089.8,150.7L1095.8,152.2L1101.8,153.7L1107.9,155.3L1113.9,156.9L1119.9,158.5L1125.9,160.2L1131.9,162.0L1137.9,163.8L1143.9,165.6L1149.9,167.5L1155.9,169.4L1161.8,171.3L1167.8,173.3L1173.8,175.4L1179.7,177.5L1185.6,179.6L1191.6,181.8L1197.5,184.1L1203.4,186.3L1209.3,188.6L1215.2,191.0L1221.1,193.4L1227.0,195.9L1232.8,198.4L1238.7,200.9L1244.5,203.5L1250.3,206.2L1256.2,208.9L1262.0,211.6L1267.7,214.4L1273.5,217.2L1279.3,220.1L1285.0,223.0L1290.8,225.9L1296.5,229.0L1302.2,232.0L1307.9,235.1L1313.6,238.3L1319.2,241.5L1324.9,244.7L1330.5,248.0L1336.1,251.3L1341.7,254.7L1347.3,258.2L1352.9,261.6L1358.4,265.2L1363.9,268.7L1369.5,272.4L1374.9,276.0L1380.4,279.7L1385.9,283.5L1391.3,287.3L1396.7,291.2L1402.1,295.1L1407.5,299.0L1412.8,303.0L1418.1,307.1L1423.4,311.2L1428.7,315.3L1434.0,319.5L1439.2,323.8L1444.4,328.1L1449.6,332.4L1454.7,336.8L1459.9,341.2L1465.0,345.7L1470.0,350.2L1475.1,354.8L1480.1,359.4L1485.1,364.1L1490.1,368.8L1495.0,373.6L1499.9,378.4L1504.8,383.3L1509.7,388.2L1514.5,393.2L1519.3,398.2L1524.1,403.3L1528.8,408.4L1533.5,413.5L1538.2,418.7L1542.8,424.0L1547.4,429.3L1551.9,434.7L1556.5,440.1L1561.0,445.5L1565.4,451.0L1569.8,456.5L1574.2,462.1L1578.6,467.8L1582.9,473.5L1587.2,479.2L1591.4,485.0L1595.6,490.8L1599.7,496.7L1603.8,502.6L1607.9,508.6L1611.9,514.6L1615.9,520.7L1619.9,526.8L1623.8,533.0L1627.6,539.2L1631.4,545.5L1635.2,551.8L1638.9,558.1L1642.6,564.5L1646.2,571.0L1649.8,577.5L1653.3,584.0L1656.8,590.6L1660.3,597.3L1663.6,603.9L1667.0,610.7L1670.3,617.4L1673.5,624.2L1676.7,631.1L1679.8,638.0L1682.9,645.0L1685.9,652.0L1688.8,659.0L1691.7,666.1L1694.6,673.2L1697.4,680.4L1700.1,687.6L1702.8,694.8L1705.4,702.1L1708.0,709.5L1710.5,716.8L1712.9,724.3L1715.3,731.7L1717.6,739.2L1719.8,746.8L1722.0,754.4L1724.1,762.0L1726.2,769.7L1728.2,777.4L1730.1,785.1L1732.0,792.9L1733.8,800.7L1735.5,808.6L1737.1,816.4L1738.7,824.4L1740.2,832.3L1741.6,840.3L1743.0,848.4L1744.3,856.4L1745.5,864.5L1746.7,872.7L1747.7,880.9L1748.7,889.1L1749.6,897.3L1750.5,905.5L1751.2,913.8L1751.9,922.2L1752.5,930.5L1753.1,938.9L1753.5,947.3L1753.9,955.7L1754.1,964.2L1754.3,972.7L1754.5,981.2L1754.5,989.8L1754.4,998.3L1754.3,1006.9L1754.1,1015.5L1753.8,1024.1L1753.4,1032.8L1752.9,1041.4L1752.3,1050.1L1751.6,1058.8L1750.9,1067.5L1750.0,1076.3L1749.1,1085.0L1748.1,1093.8L1746.9,1102.6L1745.7,1111.4L1744.4,1120.2L1743.0,1129.0L1741.5,1137.8L1739.9,1146.6L1738.2,1155.4L1736.5,1164.3L1734.6,1173.1L1732.6,1182.0L1730.5,1190.8L1728.4,1199.7L1726.1,1208.5L1723.7,1217.4L1721.3,1226.2L1718.7,1235.1L1716.0,1243.9L1713.3,1252.8L1710.4,1261.6L1707.4,1270.4L1704.4,1279.2L1701.2,1288.0L1697.9,1296.8L1694.5,1305.6L1691.1,1314.3L1687.5,1323.1L1683.8,1331.8L1680.0,1340.5L1676.1,1349.2L1672.1,1357.8L1668.0,1366.5L1663.8,1375.1L1659.5,1383.7L1655.1,1392.2L1650.6,1400.8L1646.0,1409.3L1641.2,1417.7L1636.4,1426.2L1631.5,1434.6L1626.5,1442.9L1621.3,1451.3L1616.1,1459.6L1610.8,1467.8L1605.3,1476.0L1599.8,1484.2L1594.1,1492.3L1588.4,1500.3L1582.5,1508.4L1576.6,1516.3L1570.5,1524.2L1564.4,1532.1L1558.1,1539.9L1551.8,1547.6L1545.3,1555.3L1538.8,1563.0L1532.2,1570.5L1525.4,1578.0L1518.6,1585.5L1511.7,1592.9L1504.6,1600.2L1497.5,1607.4L1490.3,1614.6L1483.0,1621.7L1475.6,1628.7L1468.1,1635.7L1460.5,1642.5L1452.9,1649.3L1445.1,1656.0L1437.3,1662.7L1429.4,1669.2L1421.4,1675.7L1413.3,1682.1L1405.1,1688.4L1396.8,1694.6L1388.5,1700.7L1380.1,1706.7L1371.6,1712.7L1363.0,1718.5L1354.4,1724.3L1345.7,1729.9L1336.9,1735.5L1328.0,1741.0L1319.1,1746.3L1310.1,1751.6L1301.1,1756.7L1291.9,1761.8L1282.7,1766.8L1273.5,1771.6L1264.2,1776.4L1254.8,1781.0L1245.4,1785.5L1235.9,1789.9L1226.4,1794.3L1216.8,1798.5L1207.1,1802.6L1197.4,1806.5L1187.7,1810.4L1177.9,1814.2L1168.1,1817.8L1158.2,1821.3L1148.3,1824.7L1138.4,1828.0L1128.4,1831.2L1118.4,1834.3L1108.4,1837.2L1098.3,1840.0L1088.2,1842.7L1078.1,1845.3L1067.9,1847.8L1057.7,1850.1L1047.5,1852.4L1037.3,1854.5L1027.0,1856.5L1016.8,1858.3L1006.5,1860.1L996.2,1861.7L985.9,1863.2L975.6,1864.6L965.3,1865.9L955.0,1867.0L944.7,1868.1L934.4,1869.0L924.0,1869.8L913.7,1870.4L903.4,1871.0L893.1,1871.4L882.8,1871.7L872.5,1871.9L862.2,1872.0L851.9,1871.9L841.7,1871.8L831.4,1871.5L821.2,1871.1L811.0,1870.6L800.8,1870.0L790.7,1869.2L780.6,1868.4L770.4,1867.4L760.4,1866.3L750.3,1865.1L740.3,1863.8L730.3,1862.4L720.4,1860.9L710.4,1859.2L700.6,1857.5L690.7,1855.6L680.9,1853.7L671.1,1851.6L661.4,1849.4L651.7,1847.1L642.1,1844.8L632.5,1842.3L623.0,1839.7L613.5,1837.0L604.1,1834.2L594.7,1831.3L585.3,1828.3L576.0,1825.3L566.8,1822.1L557.6,1818.8L548.5,1815.5L539.5,1812.0L530.5,1808.5L521.5,1804.8L512.6,1801.1L503.8,1797.3L495.1,1793.4L486.4,1789.4L477.7,1785.3L469.2,1781.2L460.7,1777.0L452.3,1772.6L443.9,1768.2L435.6,1763.8L427.4,1759.2L419.2,1754.6L411.1,1749.9L403.1,1745.1L395.2,1740.3L387.3,1735.4L379.5,1730.4L371.8,1725.3L364.1,1720.2L356.6,1715.0L349.0,1709.7L341.6,1704.4L334.3,1699.0L327.0,1693.6L319.8,1688.1L312.7,1682.5L305.6,1676.9L298.7,1671.2L291.8,1665.5L284.9,1659.7L278.2,1653.8L271.6,1647.9L265.0,1642.0L258.5,1636.0L252.1,1629.9L245.7,1623.8L239.5,1617.7L233.3,1611.5L227.2,1605.2L221.1,1598.9L215.2,1592.6L209.3,1586.2L203.5,1579.8L197.8,1573.4L192.2,1566.9L186.7,1560.4L181.2,1553.8L175.8,1547.2L170.5,1540.6L165.3,1533.9L160.2,1527.2L155.1,1520.5L150.1,1513.8L145.2,1507.0L140.4,1500.2L135.6,1493.3L130.9,1486.4L126.4,1479.5L121.8,1472.6L117.4,1465.7L113.1,1458.7L108.8,1451.7L104.6,1444.7L100.5,1437.7L96.4,1430.6L92.5,1423.6L88.6,1416.5L84.8,1409.4L81.0,1402.2L77.4,1395.1L73.8,1387.9L70.3,1380.8L66.9,1373.6L63.5,1366.4L60.2,1359.2L57.0,1352.0L53.9,1344.8L50.9,1337.5L47.9,1330.3L45.0,1323.0L42.1,1315.8L39.4,1308.5L36.7,1301.2L34.1,1294.0L31.5,1286.7L29.1,1279.4L26.7,1272.1L24.4,1264.8L22.1,1257.5L19.9,1250.2L17.8,1242.9L15.8,1235.6L13.8,1228.3L11.9,1221.0L10.0,1213.7L8.3,1206.4L6.6,1199.1L4.9,1191.9L3.4,1184.6L1.9,1177.3L0.4,1170.0L-0.9,1162.7L-2.2,1155.5L-3.5,1148.2L-4.6,1141.0L-5.7,1133.7L-6.8,1126.5L-7.8,1119.2L-8.7,1112.0L-9.5,1104.8L-10.3,1097.6L-11.0,1090.4L-11.7,1083.2L-12.3,1076.0L-12.8,1068.9L-13.3,1061.7L-13.7,1054.6L-14.1,1047.5L-14.4,1040.3L-14.6,1033.2L-14.8,1026.2L-14.9,1019.1L-15.0,1012.0L-15.0,1005.0L-14.9,997.9L-14.8,990.9L-14.6,983.9L-14.4,976.9L-14.1,969.9L-13.8,963.0L-13.4,956.1L-13.0,949.1L-12.5,942.2L-11.9,935.3L-11.3,928.5L-10.6,921.6L-9.9,914.8L-9.1,908.0L-8.3,901.2L-7.4,894.4L-6.5,887.7L-5.5,880.9L-4.5,874.2L-3.4,867.5L-2.3,860.8L-1.1,854.2L0.1,847.5L1.4,840.9L2.7,834.3L4.1,827.8L5.5,821.2L7.0,814.7L8.5,808.2L10.1,801.7L11.7,795.3L13.4,788.8L15.1,782.4L16.8,776.0L18.6,769.7L20.5,763.3L22.4,757.0L24.3,750.7L26.3,744.5L28.3,738.2L30.4,732.0L32.5,725.8L34.7,719.7L36.9,713.5L39.1,707.4L41.4,701.3L43.7,695.2L46.1,689.2L48.5,683.2L50.9,677.2L53.4,671.3L56.0,665.3L58.5,659.4L61.1,653.5L63.8,647.7L66.5,641.9L69.2,636.1L72.0,630.3L74.8,624.6L77.6,618.9L80.5,613.2L83.4,607.5L86.4,601.9L89.4,596.3L92.4,590.7L95.5,585.2L98.6,579.6L101.7,574.2L104.9,568.7L108.1,563.3L111.3,557.9L114.6,552.5L117.9,547.2L121.3,541.9L124.6,536.6L128.1,531.3L131.5,526.1L135.0,520.9L138.5,515.7L142.0,510.6L145.6,505.5L149.2,500.4L152.9,495.4L156.6,490.4L160.3,485.4L164.0,480.5L167.8,475.5L171.6,470.7L175.4,465.8L179.3,461.0L183.2,456.2L187.1,451.4L191.0,446.7L195.0,442.0L199.0,437.3L203.0,432.7L207.1,428.1L211.2,423.5L215.3,419.0L219.5,414.5L223.7,410.0"/>
<path d="M132.0,191.8L136.7,187.7L141.4,183.7L146.1,179.7L150.9,175.7L155.6,171.7L160.4,167.8L165.2,163.9L170.0,160.0L174.8,156.1L179.7,152.3L184.5,148.5L189.4,144.8L194.3,141.0L199.2,137.3L204.2,133.7L209.1,130.0L214.1,126.4L219.0,122.8L224.0,119.2L229.1,115.7L234.1,112.2L239.1,108.7L244.2,105.3L249.3,101.9L254.3,98.5L259.5,95.1L264.6,91.8L269.7,88.5L274.9,85.2L280.0,81.9L285.2,78.7L290.4,75.5L295.6,72.4L300.8,69.2L306.1,66.1L311.3,63.1L316.6,60.0L321.9,57.0L327.2,54.0L332.5,51.1L337.8,48.1L343.1,45.2L348.5,42.4L353.8,39.5L359.2,36.7L364.6,33.9L370.0,31.2L375.4,28.4L380.9,25.7L386.3,23.1L391.8,20.4L397.2,17.8L402.7,15.2L408.2,12.7L413.7,10.1L419.2,7.7L424.8,5.2L430.3,2.8L435.8,0.3L441.4,-2.0L447.0,-4.4L452.6,-6.7L458.2,-9.0L463.8,-11.2L469.4,-13.5L475.0,-15.7L480.7,-17.9L486.3,-20.0L492.0,-22.1L497.7,-24.2L503.4,-26.2L509.1,-28.3L514.8,-30.3L520.5,-32.2L526.2,-34.2L532.0,-36.1L537.7,-37.9L543.5,-39.8L549.3,-41.6L555.0,-43.4L560.8,-45.1L566.6,-46.9L572.4,-48.6L578.3,-50.2L584.1,-51.9L589.9,-53.5L595.8,-55.0L601.6,-56.6L607.5,-58.1L613.4,-59.6L619.3,-61.0L625.2,-62.5L631.1,-63.9L637.0,-65.2L642.9,-66.5L648.8,-67.8L654.8,-69.1L660.7,-70.4L666.7,-71.6L672.6,-72.7L678.6,-73.9L684.6,-75.0L690.5,-76.1L696.5,-77.1L702.5,-78.2L708.5,-79.2L714.6,-80.1L720.6,-81.0L726.6,-81.9L732.6,-82.8L738.7,-83.6L744.7,-84.4L750.8,-85.2L756.9,-85.9L762.9,-86.7L769.0,-87.3L775.1,-88.0L781.2,-88.6L787.3,-89.2L793.4,-89.7L799.5,-90.2L805.6,-90.7L811.7,-91.2L817.9,-91.6L824.0,-92.0L830.1,-92.3L836.3,-92.6L842.4,-92.9L848.6,-93.2L854.8,-93.4L860.9,-93.6L867.1,-93.7L873.3,-93.9L879.4,-93.9L885.6,-94.0L891.8,-94.0L898.0,-94.0L904.2,-94.0L910.4,-93.9L916.6,-93.8L922.8,-93.6L929.1,-93.4L935.3,-93.2L941.5,-93.0L947.7,-92.7L954.0,-92.4L960.2,-92.0L966.4,-91.7L972.7,-91.2L978.9,-90.8L985.2,-90.3L991.4,-89.8L997.7,-89.2L1004.0,-88.6L1010.2,-88.0L1016.5,-87.3L1022.7,-86.6L1029.0,-85.9L1035.3,-85.1L1041.6,-84.3L1047.8,-83.5L1054.1,-82.6L1060.4,-81.7L1066.7,-80.7L1073.0,-79.7L1079.2,-78.7L1085.5,-77.6L1091.8,-76.5L1098.1,-75.4L1104.4,-74.2L1110.7,-73.0L1117.0,-71.8L1123.3,-70.5L1129.6,-69.2L1135.9,-67.8L1142.2,-66.4L1148.4,-65.0L1154.7,-63.5L1161.0,-62.0L1167.3,-60.4L1173.6,-58.9L1179.9,-57.2L1186.2,-55.6L1192.5,-53.9L1198.8,-52.1L1205.1,-50.3L1211.4,-48.5L1217.7,-46.6L1223.9,-44.7L1230.2,-42.8L1236.5,-40.8L1242.8,-38.8L1249.1,-36.7L1255.3,-34.6L1261.6,-32.5L1267.9,-30.3L1274.1,-28.1L1280.4,-25.8L1286.7,-23.5L1292.9,-21.1L1299.2,-18.7L1305.4,-16.3L1311.7,-13.8L1317.9,-11.3L1324.2,-8.8L1330.4,-6.1L1336.7,-3.5L1342.9,-0.8L1349.1,1.9L1355.3,4.7L1361.5,7.5L1367.7,10.4L1373.9,13.3L1380.1,16.3L1386.3,19.3L1392.5,22.3L1398.7,25.4L1404.9,28.6L1411.0,31.7L1417.2,35.0L1423.3,38.2L1429.5,41.6L1435.6,44.9L1441.8,48.4L1447.9,51.8L1454.0,55.3L1460.1,58.9L1466.2,62.5L1472.3,66.2L1478.4,69.9L1484.4,73.6L1490.5,77.4L1496.5,81.3L1502.6,85.2L1508.6,89.1L1514.6,93.1L1520.6,97.2L1526.6,101.3L1532.6,105.4L1538.6,109.6L1544.5,113.9L1550.5,118.2L1556.4,122.6L1562.3,127.0L1568.2,131.5L1574.1,136.0L1580.0,140.6L1585.8,145.2L1591.7,149.9L1597.5,154.6L1603.3,159.4L1609.1,164.3L1614.9,169.2L1620.7,174.2L1626.4,179.2L1632.2,184.3L1637.9,189.4L1643.6,194.6L1649.3,199.8L1654.9,205.2L1660.6,210.5L1666.2,216.0L1671.8,221.5L1677.3,227.0L1682.9,232.6L1688.4,238.3L1693.9,244.0L1699.4,249.8L1704.9,255.7L1710.3,261.6L1715.7,267.6L1721.1,273.6L1726.5,279.8L1731.8,285.9L1737.1,292.2L1742.4,298.5L1747.7,304.9L1752.9,311.3L1758.1,317.8L1763.3,324.4L1768.4,331.1L1773.5,337.8L1778.6,344.6L1783.6,351.4L1788.6,358.4L1793.6,365.4L1798.5,372.4L1803.4,379.6L1808.3,386.8L1813.1,394.1L1817.9,401.4L1822.6,408.9L1827.3,416.4L1832.0,424.0L1836.6,431.6L1841.2,439.4L1845.7,447.2L1850.2,455.1L1854.7,463.0L1859.1,471.1L1863.4,479.2M1865.1,1474.8L1857.4,1489.6L1849.4,1504.4L1841.2,1519.1L1832.6,1533.8L1823.8,1548.5L1814.7,1563.1L1805.3,1577.7L1795.6,1592.3L1785.6,1606.8L1775.3,1621.2L1764.7,1635.6L1753.8,1649.9L1742.6,1664.1L1731.2,1678.2L1719.4,1692.2L1707.3,1706.1L1695.0,1719.9L1682.3,1733.5L1669.3,1747.0L1656.1,1760.4L1642.6,1773.6L1628.7,1786.6L1614.6,1799.5L1600.2,1812.2L1585.6,1824.7L1570.6,1837.0L1555.4,1849.1L1539.9,1861.0L1524.2,1872.6L1508.2,1884.1L1492.0,1895.3L1475.5,1906.2L1458.8,1916.9L1441.8,1927.3M258.5,1922.7L245.6,1914.6L233.0,1906.3L220.6,1898.0L208.4,1889.6L196.4,1881.0L184.6,1872.4L173.1,1863.7L161.7,1854.9L150.5,1846.0L139.6,1837.1L128.8,1828.1L118.3,1819.0L107.9,1809.8L97.7,1800.6L87.8,1791.4L78.0,1782.1L68.4,1772.7L59.0,1763.3L49.8,1753.9L40.8,1744.4L31.9,1734.9L23.3,1725.4L14.8,1715.8L6.5,1706.2L-1.6,1696.6L-9.6,1687.0L-17.4,1677.3L-25.0,1667.6L-32.4,1657.9L-39.7,1648.2L-46.8,1638.5L-53.8,1628.8L-60.6,1619.1L-67.2,1609.3L-73.7,1599.6L-80.1,1589.8L-86.3,1580.1L-92.3,1570.4L-98.2,1560.6L-104.0,1550.9L-109.6,1541.2L-115.0,1531.5L-120.4,1521.8L-125.6,1512.1L-130.6,1502.4L-135.6,1492.7L-140.4,1483.1L-145.0,1473.4L-149.6,1463.8L-154.0,1454.2L-158.3,1444.6L-162.5,1435.0L-166.5,1425.5L-170.5,1415.9L-174.3,1406.4L-178.0,1396.9L-181.6,1387.4L-185.1,1378.0L-188.5,1368.6L-191.7,1359.2L-194.9,1349.8L-197.9,1340.4M-199.7,698.6L-197.5,691.8L-195.3,685.0L-193.1,678.2L-190.8,671.5L-188.5,664.8L-186.2,658.1L-183.8,651.4L-181.3,644.8L-178.9,638.2L-176.4,631.7L-173.8,625.1L-171.3,618.6L-168.7,612.2L-166.0,605.7L-163.4,599.3L-160.6,593.0L-157.9,586.6L-155.1,580.3L-152.3,574.0L-149.5,567.8L-146.6,561.6L-143.7,555.4L-140.7,549.2L-137.7,543.1L-134.7,537.0L-131.7,530.9L-128.6,524.9L-125.5,518.9L-122.4,512.9L-119.2,507.0L-116.0,501.1L-112.8,495.2L-109.6,489.3L-106.3,483.5L-103.0,477.7L-99.6,471.9L-96.2,466.2L-92.8,460.5L-89.4,454.8L-86.0,449.2L-82.5,443.6L-79.0,438.0L-75.4,432.4L-71.9,426.9L-68.3,421.4L-64.7,415.9L-61.0,410.5L-57.3,405.1L-53.6,399.7L-49.9,394.3L-46.2,389.0L-42.4,383.7L-38.6,378.5L-34.8,373.2L-30.9,368.0L-27.0,362.9L-23.1,357.7L-19.2,352.6L-15.3,347.5L-11.3,342.5L-7.3,337.4L-3.3,332.4L0.8,327.5L4.8,322.5L8.9,317.6L13.0,312.7L17.2,307.9L21.3,303.1L25.5,298.3L29.7,293.5L33.9,288.8L38.2,284.0L42.4,279.4L46.7,274.7L51.0,270.1L55.3,265.5L59.7,260.9L64.1,256.4L68.5,251.9L72.9,247.4L77.3,243.0L81.8,238.5L86.2,234.1L90.7,229.8L95.2,225.4L99.8,221.1L104.3,216.9L108.9,212.6L113.5,208.4L118.1,204.2L122.7,200.0L127.4,195.9L132.0,191.8"/>
<path d="M870.1,999.1L868.6,998.1L867.2,997.1L865.7,996.0L864.2,995.0L862.7,993.9L861.2,992.9L859.7,991.9L858.2,990.8L856.7,989.8L855.2,988.7L853.7,987.7L852.2,986.6L850.7,985.6L849.2,984.6L847.7,983.5L846.3,982.5L844.8,981.4L843.3,980.4L841.8,979.3L840.3,978.3L838.8,977.2L837.3,976.2L835.8,975.1L834.3,974.1L832.9,973.0L831.4,972.0L829.9,970.9L828.4,969.9L826.9,968.8L825.4,967.7L824.0,966.7L822.5,965.6L821.0,964.6L819.5,963.5L818.0,962.5L816.5,961.4L815.1,960.3L813.6,959.3L812.1,958.2L810.6,957.2L809.1,956.1L807.7,955.0L806.2,954.0L804.7,952.9L803.2,951.8L801.8,950.8L800.3,949.7L798.8,948.6L797.3,947.6L795.9,946.5L794.4,945.4L792.9,944.4L791.4,943.3L790.0,942.2L788.5,941.2L787.0,940.1L785.6,939.0L784.1,937.9L782.6,936.9L781.1,935.8L779.7,934.7L778.2,933.6L776.7,932.6L775.3,931.5L773.8,930.4L772.3,929.3L770.9,928.2L769.4,927.2L767.9,926.1L766.5,925.0L765.0,923.9L763.5,922.8L762.1,921.8L760.6,920.7L759.2,919.6L757.7,918.5L756.2,917.4L754.8,916.3L753.3,915.2L751.8,914.2L750.4,913.1L748.9,912.0L747.5,910.9L746.0,909.8L744.6,908.7L743.1,907.6L741.6,906.5L740.2,905.4L738.7,904.3L737.3,903.2L735.8,902.2L734.4,901.1L732.9,900.0L731.5,898.9L730.0,897.8L728.5,896.7L727.1,895.6L725.6,894.5L724.2,893.4L722.7,892.3L721.3,891.2L719.8,890.1L718.4,889.0L716.9,887.9L715.5,886.8L714.0,885.7L712.6,884.6L711.1,883.5L709.7,882.3L708.3,881.2L706.8,880.1L705.4,879.0L703.9,877.9L702.5,876.8L701.0,875.7L699.6,874.6L698.1,873.5L696.7,872.4L695.3,871.2L693.8,870.1L692.4,869.0L690.9,867.9L689.5,866.8L688.1,865.7L686.6,864.6L685.2,863.4L683.7,862.3L682.3,861.2L680.9,860.1L679.4,859.0L678.0,857.8L676.6,856.7L675.1,855.6L673.7,854.5L672.3,853.4L670.8,852.2L669.4,851.1L668.0,850.0L666.5,848.9L665.1,847.7L663.7,846.6L662.2,845.5L660.8,844.3L659.4,843.2L658.0,842.1L656.5,841.0L655.1,839.8L653.7,838.7L652.2,837.6L650.8,836.4L649.4,835.3L648.0,834.2L646.5,833.0L645.1,831.9L643.7,830.8L642.3,829.6L640.9,828.5L639.4,827.3L638.0,826.2L636.6,825.1L635.2,823.9L633.7,822.8L632.3,821.6L630.9,820.5L629.5,819.4L628.1,818.2L626.7,817.1L625.2,815.9L623.8,814.8L622.4,813.6L621.0,812.5L619.6,811.3L618.2,810.2L616.8,809.0L615.3,807.9L613.9,806.7L612.5,805.6L611.1,804.4L609.7,803.3L608.3,802.1L606.9,801.0L605.5,799.8L604.1,798.7L602.6,797.5L601.2,796.3L599.8,795.2L598.4,794.0L597.0,792.9L595.6,791.7L594.2,790.5L592.8,789.4L591.4,788.2L590.0,787.1L588.6,785.9L587.2,784.7L585.8,783.6L584.4,782.4L583.0,781.2L581.6,780.1L580.2,778.9L578.8,777.7L577.4,776.6L576.0,775.4L574.6,774.2L573.2,773.0L571.8,771.9L570.4,770.7L569.0,769.5L567.6,768.3L566.2,767.2L564.9,766.0L563.5,764.8L562.1,763.6L560.7,762.5L559.3,761.3L557.9,760.1L556.5,758.9L555.1,757.7L553.7,756.6L552.3,755.4L551.0,754.2L549.6,753.0L548.2,751.8L546.8,750.6L545.4,749.4L544.0,748.3L542.7,747.1L541.3,745.9L539.9,744.7L538.5,743.5L537.1,742.3L535.8,741.1L534.4,739.9L533.0,738.7L531.6,737.5L530.2,736.3L528.9,735.1L527.5,733.9L526.1,732.7L524.7,731.5L523.4,730.3L522.0,729.1L520.6,727.9L519.3,726.7L517.9,725.5L516.5,724.3L515.1,723.1L513.8,721.9L512.4,720.7L511.0,719.5L509.7,718.3L508.3,717.1L506.9,715.9L505.6,714.7L504.2,713.5L502.8,712.2L501.5,711.0L500.1,709.8L498.8,708.6L497.4,707.4L496.0,706.2L494.7,704.9L493.3,703.7L492.0,702.5L490.6,701.3L489.3,700.1L487.9,698.8L486.5,697.6L485.2,696.4L483.8,695.2L482.5,694.0L481.1,692.7L479.8,691.5L478.4,690.3L477.1,689.0L475.7,687.8L474.4,686.6L473.0,685.3L471.7,684.1L470.3,682.9L469.0,681.6L467.7,680.4L466.3,679.2L465.0,677.9L463.6,676.7L462.3,675.5L460.9,674.2L459.6,673.0L458.3,671.7L456.9,670.5L455.6,669.2L454.3,668.0L452.9,666.8L451.6,665.5L450.2,664.3L448.9,663.0L447.6,661.8L446.2,660.5L444.9,659.3L443.6,658.0L442.3,656.8L440.9,655.5L439.6,654.2L438.3,653.0L437.0,651.7L435.6,650.5L434.3,649.2L433.0,648.0L431.7,646.7L430.3,645.4L429.0,644.2L427.7,642.9L426.4,641.6L425.1,640.4L423.7,639.1L422.4,637.8L421.1,636.6L419.8,635.3L418.5,634.0L417.2,632.7L415.9,631.5L414.5,630.2L413.2,628.9L411.9,627.6L410.6,626.4L409.3,625.1L408.0,623.8L406.7,622.5L405.4,621.2L404.1,620.0L402.8,618.7L401.5,617.4L400.2,616.1L398.9,614.8L397.6,613.5L396.3,612.2L395.0,610.9L393.7,609.6L392.4,608.3L391.1,607.0L389.8,605.8L388.5,604.5L387.2,603.2L386.0,601.9L384.7,600.6L383.4,599.2L382.1,597.9L380.8,596.6L379.5,595.3L378.2,594.0L377.0,592.7L375.7,591.4L374.4,590.1L373.1,588.8L371.8,587.5L370.6,586.2L369.3,584.8L368.0,583.5L366.7,582.2L365.5,580.9L364.2,579.6L362.9,578.2L361.7,576.9L360.4,575.6L359.1,574.3L357.9,572.9L356.6,571.6L355.3,570.3L354.1,568.9L352.8,567.6L351.6,566.3L350.3,564.9L349.0,563.6L347.8,562.3L346.5,560.9L345.3,559.6L344.0,558.2L342.8,556.9L341.5,555.5L340.3,554.2L339.0,552.8L337.8,551.5L336.5,550.1L335.3,548.8L334.1,547.4L332.8,546.1L331.6,544.7L330.4,543.4L329.1,542.0L327.9,540.6L326.6,539.3L325.4,537.9L324.2,536.5L323.0,535.2L321.7,533.8L320.5,532.4L319.3,531.1L318.1,529.7L316.8,528.3L315.6,526.9L314.4,525.5L313.2,524.2L312.0,522.8L310.7,521.4L309.5,520.0L308.3,518.6L307.1,517.2L305.9,515.8L304.7,514.4L303.5,513.1L302.3,511.7L301.1,510.3L299.9,508.9L298.7,507.5L297.5,506.1L296.3,504.7L295.1,503.2L293.9,501.8L292.7,500.4L291.5,499.0L290.4,497.6L289.2,496.2L288.0,494.8L286.8,493.3L285.6,491.9L284.4,490.5L283.3,489.1L282.1,487.6L280.9,486.2L279.8,484.8L278.6,483.4L277.4,481.9L276.3,480.5L275.1,479.0L273.9,477.6L272.8,476.2L271.6,474.7L270.5,473.3L269.3,471.8L268.1,470.4L267.0,468.9L265.9,467.5L264.7,466.0L263.6,464.5L262.4,463.1L261.3,461.6L260.1,460.1L259.0,458.7L257.9,457.2L256.7,455.7L255.6,454.2L254.5,452.8L253.4,451.3L252.2,449.8L251.1,448.3L250.0,446.8L248.9,445.3L247.8,443.9L246.7,442.4L245.6,440.9L244.5,439.4L243.4,437.9L242.3,436.4L241.2,434.9L240.1,433.3L239.0,431.8L237.9,430.3L236.8,428.8L235.7,427.3L234.6,425.8L233.5,424.2L232.5,422.7L231.4,421.2L230.3,419.6L229.2,418.1L228.2,416.6L227.1,415.0L226.0,413.5L225.0,411.9L223.9,410.4L222.9,408.8L221.8,407.3L220.8,405.7L219.7,404.2L218.7,402.6L217.7,401.0L216.6,399.5L215.6,397.9L214.6,396.3L213.5,394.7L212.5,393.1L211.5,391.6L210.5,390.0L209.5,388.4L208.5,386.8L207.5,385.2L206.4,383.6L205.4,382.0L204.5,380.4L203.5,378.8L202.5,377.1L201.5,375.5L200.5,373.9L199.5,372.3L198.6,370.6L197.6,369.0L196.6,367.4L195.7,365.7L194.7,364.1L193.7,362.4L192.8,360.8L191.8,359.1L190.9,357.5L190.0,355.8L189.0,354.1L188.1,352.5L187.2,350.8L186.2,349.1L185.3,347.4L184.4,345.8L183.5,344.1L182.6,342.4L181.7,340.7L180.8,339.0L179.9,337.3L179.0,335.5L178.1,333.8L177.3,332.1L176.4,330.4L175.5,328.6L174.7,326.9L173.8,325.2L172.9,323.4L172.1,321.7L171.3,319.9L170.4,318.2L169.6,316.4L168.8,314.6L167.9,312.9L167.1,311.1L166.3,309.3L165.5,307.5L164.7,305.7L163.9,303.9L163.1,302.1L162.4,300.3L161.6,298.5L160.8,296.7L160.1,294.8L159.3,293.0L158.6,291.2L157.8,289.3L157.1,287.5L156.3,285.6L155.6,283.8L154.9,281.9L154.2,280.0L153.5,278.2L152.8,276.3L152.1,274.4L151.4,272.5L150.8,270.6L150.1,268.7L149.4,266.7L148.8,264.8L148.2,262.9L147.5,261.0L146.9,259.0L146.3,257.1L145.7,255.1L145.1,253.1L144.5,251.2L143.9,249.2L143.3,247.2L142.8,245.2L142.2,243.2L141.7,241.2L141.1,239.2L140.6,237.1L140.1,235.1L139.6,233.1L139.1,231.0L138.6,228.9L138.1,226.9L137.7,224.8L137.2,222.7L136.8,220.6L136.3,218.5L135.9,216.4L135.5,214.3L135.1,212.2L134.7,210.0L134.4,207.9L134.0,205.7L133.7,203.5L133.3,201.4L133.0,199.2L132.7,197.0L132.4,194.8L132.1,192.5L131.9,190.3L131.6,188.1L131.4,185.8L131.1,183.6L130.9,181.3L130.7,179.0L130.6,176.7L130.4,174.4L130.2,172.1L130.1,169.7L130.0,167.4L129.9,165.0L129.8,162.7L129.8,160.3L129.7,157.9L129.7,155.5L129.7,153.0L129.7,150.6L129.7,148.2L129.8,145.7L129.9,143.2L130.0,140.7L130.1,138.2L130.2,135.7L130.4,133.2L130.6,130.6L130.8,128.0L131.0,125.5L131.2,122.9L131.5,120.2L131.8,117.6L132.1,115.0L132.5,112.3L132.9,109.6L133.3,106.9L133.7,104.2L134.2,101.4L134.7,98.7L135.2,95.9L135.7,93.1L136.3,90.3L136.9,87.5L137.6,84.6L138.3,81.7L139.0,78.8L139.7,75.9L140.5,73.0L141.3,70.0L142.2,67.0L143.1,64.0L144.0,61.0L145.0,58.0L146.0,54.9L147.1,51.8L148.2,48.7L149.4,45.5L150.5,42.3L151.8,39.1L153.1,35.9L154.4,32.7L155.8,29.4L157.3,26.1L158.8,22.7L160.3,19.4L161.9,16.0L163.6,12.6L165.3,9.1L167.1,5.6L168.9,2.1L170.9,-1.4L172.8,-5.0L174.9,-8.6L177.0,-12.2L179.2,-15.9L181.5,-19.6L183.8,-23.4L186.2,-27.1L188.7,-31.0L191.3,-34.8L194.0,-38.7L196.8,-42.6L199.6,-46.6L202.6,-50.6L205.6,-54.6L208.8,-58.7L212.0,-62.8L215.4,-66.9L218.9,-71.1L222.4,-75.4L226.2,-79.6L230.0,-83.9L233.9,-88.3L238.0,-92.7L242.2,-97.1L246.6,-101.6L251.1,-106.2L255.8,-110.7L260.6,-115.3L265.5,-120.0L270.7,-124.7L276.0,-129.4L281.4,-134.2L287.1,-139.1L293.0,-143.9L299.0,-148.9"/>
<path d="M870.1,999.1L869.4,997.5L868.6,995.8L867.8,994.2L867.1,992.6L866.3,990.9L865.5,989.3L864.8,987.6L864.0,986.0L863.2,984.3L862.5,982.7L861.7,981.1L860.9,979.4L860.2,977.8L859.4,976.1L858.6,974.5L857.9,972.8L857.1,971.2L856.3,969.5L855.6,967.9L854.8,966.3L854.0,964.6L853.3,963.0L852.5,961.3L851.7,959.7L851.0,958.0L850.2,956.4L849.4,954.7L848.7,953.1L847.9,951.5L847.1,949.8L846.4,948.2L845.6,946.5L844.9,944.9L844.1,943.2L843.3,941.6L842.6,939.9L841.8,938.3L841.0,936.6L840.3,935.0L839.5,933.4L838.7,931.7L838.0,930.1L837.2,928.4L836.4,926.8L835.7,925.1L834.9,923.5L834.2,921.8L833.4,920.2L832.6,918.5L831.9,916.9L831.1,915.3L830.3,913.6L829.6,912.0L828.8,910.3L828.1,908.7L827.3,907.0L826.5,905.4L825.8,903.7L825.0,902.1L824.2,900.4L823.5,898.8L822.7,897.1L822.0,895.5L821.2,893.9L820.4,892.2L819.7,890.6L818.9,888.9L818.2,887.3L817.4,885.6L816.6,884.0L815.9,882.3L815.1,880.7L814.3,879.0L813.6,877.4L812.8,875.7L812.1,874.1L811.3,872.4L810.5,870.8L809.8,869.1L809.0,867.5L808.3,865.8L807.5,864.2L806.7,862.6L806.0,860.9L805.2,859.3L804.5,857.6L803.7,856.0L803.0,854.3L802.2,852.7L801.4,851.0L800.7,849.4L799.9,847.7L799.2,846.1L798.4,844.4L797.6,842.8L796.9,841.1L796.1,839.5L795.4,837.8L794.6,836.2L793.9,834.5L793.1,832.9L792.3,831.2L791.6,829.6L790.8,827.9L790.1,826.3L789.3,824.6L788.6,823.0L787.8,821.3L787.0,819.7L786.3,818.1L785.5,816.4L784.8,814.8L784.0,813.1L783.3,811.5L782.5,809.8L781.8,808.2L781.0,806.5L780.2,804.9L779.5,803.2L778.7,801.6L778.0,799.9L777.2,798.3L776.5,796.6L775.7,795.0L775.0,793.3L774.2,791.7L773.4,790.0L772.7,788.4L771.9,786.7L771.2,785.1L770.4,783.4L769.7,781.8L768.9,780.1L768.2,778.5L767.4,776.8L766.7,775.2L765.9,773.5L765.2,771.9L764.4,770.2L763.6,768.6L762.9,766.9L762.1,765.3L761.4,763.6L760.6,762.0L759.9,760.3L759.1,758.7L758.4,757.0L757.6,755.4L756.9,753.7L756.1,752.1L755.4,750.4L754.6,748.8L753.9,747.1L753.1,745.4L752.4,743.8L751.6,742.1L750.9,740.5L750.1,738.8L749.4,737.2L748.6,735.5L747.9,733.9L747.1,732.2L746.4,730.6L745.6,728.9L744.9,727.3L744.1,725.6L743.4,724.0L742.6,722.3L741.9,720.7L741.1,719.0L740.4,717.4L739.6,715.7L738.9,714.1L738.1,712.4L737.4,710.8L736.6,709.1L735.9,707.5L735.1,705.8L734.4,704.2L733.6,702.5L732.9,700.8L732.1,699.2L731.4,697.5L730.6,695.9L729.9,694.2L729.1,692.6L728.4,690.9L727.6,689.3L726.9,687.6L726.1,686.0L725.4,684.3L724.6,682.7L723.9,681.0L723.2,679.4L722.4,677.7L721.7,676.0L720.9,674.4L720.2,672.7L719.4,671.1L718.7,669.4L717.9,667.8L717.2,666.1L716.4,664.5L715.7,662.8L714.9,661.2L714.2,659.5L713.5,657.9L712.7,656.2L712.0,654.5L711.2,652.9L710.5,651.2L709.7,649.6L709.0,647.9L708.2,646.3L707.5,644.6L706.8,643.0L706.0,641.3L705.3,639.7L704.5,638.0L703.8,636.3L703.0,634.7L702.3,633.0L701.6,631.4L700.8,629.7L700.1,628.1L699.3,626.4L698.6,624.8L697.8,623.1L697.1,621.4L696.4,619.8L695.6,618.1L694.9,616.5L694.1,614.8L693.4,613.2L692.7,611.5L691.9,609.9L691.2,608.2L690.4,606.5L689.7,604.9L688.9,603.2L688.2,601.6L687.5,599.9L686.7,598.3L686.0,596.6L685.2,595.0L684.5,593.3L683.8,591.6L683.0,590.0L682.3,588.3L681.5,586.7L680.8,585.0L680.1,583.4L679.3,581.7L678.6,580.0L677.9,578.4L677.1,576.7L676.4,575.1L675.6,573.4L674.9,571.8L674.2,570.1L673.4,568.4L672.7,566.8L672.0,565.1L671.2,563.5L670.5,561.8L669.7,560.2L669.0,558.5L668.3,556.8L667.5,555.2L666.8,553.5L666.1,551.9L665.3,550.2L664.6,548.5L663.9,546.9L663.1,545.2L662.4,543.6L661.6,541.9L660.9,540.3L660.2,538.6L659.4,536.9L658.7,535.3L658.0,533.6L657.2,532.0L656.5,530.3L655.8,528.6L655.0,527.0L654.3,525.3L653.6,523.7L652.8,522.0L652.1,520.3L651.4,518.7L650.6,517.0L649.9,515.4L649.2,513.7L648.4,512.0L647.7,510.4L647.0,508.7L646.2,507.1L645.5,505.4L644.8,503.7L644.0,502.1L643.3,500.4L642.6,498.8L641.9,497.1L641.1,495.4L640.4,493.8L639.7,492.1L638.9,490.5L638.2,488.8L637.5,487.1L636.7,485.5L636.0,483.8L635.3,482.2L634.6,480.5L633.8,478.8L633.1,477.2L632.4,475.5L631.6,473.8L630.9,472.2L630.2,470.5L629.5,468.9L628.7,467.2L628.0,465.5L627.3,463.9L626.6,462.2L625.8,460.5L625.1,458.9L624.4,457.2L623.6,455.6L622.9,453.9L622.2,452.2L621.5,450.6L620.7,448.9L620.0,447.2L619.3,445.6L618.6,443.9L617.8,442.3L617.1,440.6L616.4,438.9L615.7,437.3L614.9,435.6L614.2,433.9L613.5,432.3L612.8,430.6L612.1,428.9L611.3,427.3L610.6,425.6L609.9,424.0L609.2,422.3L608.4,420.6L607.7,419.0L607.0,417.3L606.3,415.6L605.6,414.0L604.8,412.3L604.1,410.6L603.4,409.0L602.7,407.3L602.0,405.6L601.2,404.0L600.5,402.3L599.8,400.6L599.1,399.0L598.4,397.3L597.6,395.6L596.9,394.0L596.2,392.3L595.5,390.6L594.8,389.0L594.1,387.3L593.3,385.6L592.6,384.0L591.9,382.3L591.2,380.6L590.5,379.0L589.8,377.3L589.0,375.6L588.3,374.0L587.6,372.3L586.9,370.6L586.2,369.0L585.5,367.3L584.8,365.6L584.0,364.0L583.3,362.3L582.6,360.6L581.9,359.0L581.2,357.3L580.5,355.6L579.8,354.0L579.0,352.3L578.3,350.6L577.6,348.9L576.9,347.3L576.2,345.6L575.5,343.9L574.8,342.3L574.1,340.6L573.4,338.9L572.7,337.3L571.9,335.6L571.2,333.9L570.5,332.2L569.8,330.6L569.1,328.9L568.4,327.2L567.7,325.6L567.0,323.9L566.3,322.2L565.6,320.6L564.9,318.9L564.2,317.2L563.5,315.5L562.8,313.9L562.0,312.2L561.3,310.5L560.6,308.8L559.9,307.2L559.2,305.5L558.5,303.8L557.8,302.2L557.1,300.5L556.4,298.8L555.7,297.1L555.0,295.5L554.3,293.8L553.6,292.1L552.9,290.4L552.2,288.8L551.5,287.1L550.8,285.4L550.1,283.7L549.4,282.1L548.7,280.4L548.0,278.7L547.3,277.0L546.6,275.4L545.9,273.7L545.2,272.0L544.5,270.3L543.8,268.7L543.1,267.0L542.4,265.3L541.7,263.6L541.1,262.0L540.4,260.3L539.7,258.6L539.0,256.9L538.3,255.3L537.6,253.6L536.9,251.9L536.2,250.2L535.5,248.5L534.8,246.9L534.1,245.2L533.4,243.5L532.8,241.8L532.1,240.1L531.4,238.5L530.7,236.8L530.0,235.1L529.3,233.4L528.6,231.7L527.9,230.1L527.2,228.4L526.6,226.7L525.9,225.0L525.2,223.3L524.5,221.7L523.8,220.0L523.1,218.3L522.5,216.6L521.8,214.9L521.1,213.3L520.4,211.6L519.7,209.9L519.1,208.2L518.4,206.5L517.7,204.8L517.0,203.2L516.3,201.5L515.7,199.8L515.0,198.1L514.3,196.4L513.6,194.7L513.0,193.1L512.3,191.4L511.6,189.7L510.9,188.0L510.3,186.3L509.6,184.6L508.9,182.9L508.2,181.2L507.6,179.6L506.9,177.9L506.2,176.2L505.6,174.5L504.9,172.8L504.2,171.1L503.6,169.4L502.9,167.7L502.2,166.1L501.6,164.4L500.9,162.7L500.2,161.0L499.6,159.3L498.9,157.6L498.2,155.9L497.6,154.2L496.9,152.5L496.3,150.8L495.6,149.1L494.9,147.5L494.3,145.8L493.6,144.1L493.0,142.4L492.3,140.7L491.7,139.0L491.0,137.3L490.4,135.6L489.7,133.9L489.0,132.2L488.4,130.5L487.7,128.8L487.1,127.1L486.4,125.4L485.8,123.7L485.2,122.0L484.5,120.3L483.9,118.6L483.2,116.9L482.6,115.2L481.9,113.5L481.3,111.8L480.6,110.1L480.0,108.4L479.4,106.7L478.7,105.0L478.1,103.3L477.5,101.6L476.8,99.9L476.2,98.2L475.6,96.5L474.9,94.8L474.3,93.1L473.7,91.4L473.0,89.7L472.4,88.0L471.8,86.3L471.1,84.6L470.5,82.9L469.9,81.2L469.3,79.5L468.7,77.8L468.0,76.1L467.4,74.3L466.8,72.6L466.2,70.9L465.6,69.2L465.0,67.5L464.3,65.8L463.7,64.1L463.1,62.4L462.5,60.7L461.9,58.9L461.3,57.2L460.7,55.5L460.1,53.8L459.5,52.1L458.9,50.4L458.3,48.6L457.7,46.9L457.1,45.2L456.5,43.5L455.9,41.8L455.3,40.1L454.7,38.3L454.1,36.6L453.5,34.9L452.9,33.2L452.4,31.4L451.8,29.7L451.2,28.0L450.6,26.3L450.0,24.5L449.5,22.8L448.9,21.1L448.3,19.4L447.7,17.6L447.2,15.9L446.6,14.2L446.0,12.4L445.5,10.7L444.9,9.0L444.4,7.2L443.8,5.5L443.2,3.8L442.7,2.0L442.1,0.3L441.6,-1.5L441.0,-3.2L440.5,-4.9L440.0,-6.7L439.4,-8.4L438.9,-10.2L438.3,-11.9L437.8,-13.6L437.3,-15.4L436.8,-17.1L436.2,-18.9L435.7,-20.6L435.2,-22.4L434.7,-24.1L434.2,-25.9L433.6,-27.6L433.1,-29.4L432.6,-31.2L432.1,-32.9L431.6,-34.7L431.1,-36.4L430.6,-38.2L430.2,-40.0L429.7,-41.7L429.2,-43.5L428.7,-45.3L428.2,-47.0L427.7,-48.8L427.3,-50.6L426.8,-52.3L426.3,-54.1L425.9,-55.9L425.4,-57.7L425.0,-59.4L424.5,-61.2L424.1,-63.0L423.7,-64.8L423.2,-66.6L422.8,-68.4L422.4,-70.1L421.9,-71.9L421.5,-73.7L421.1,-75.5L420.7,-77.3L420.3,-79.1L419.9,-80.9L419.5,-82.7L419.1,-84.5L418.7,-86.3L418.4,-88.1L418.0,-89.9L417.6,-91.8L417.3,-93.6L416.9,-95.4L416.6,-97.2L416.2,-99.0L415.9,-100.9L415.6,-102.7L415.3,-104.5L414.9,-106.3L414.6,-108.2L414.3,-110.0L414.1,-111.9L413.8,-113.7L413.5,-115.6L413.2,-117.4L413.0,-119.3L412.7,-121.1L412.5,-123.0L412.2,-124.8L412.0,-126.7L411.8,-128.6L411.6,-130.5L411.4,-132.3L411.2,-134.2L411.0,-136.1L410.9,-138.0L410.7,-139.9L410.6,-141.8L410.5,-143.7L410.3,-145.6L410.2,-147.5L410.2,-149.4"/>
<path d="M870.1,999.1L870.3,997.3L870.5,995.5L870.6,993.7L870.8,991.9L871.0,990.1L871.1,988.3L871.3,986.5L871.5,984.7L871.6,982.8L871.8,981.0L871.9,979.2L872.1,977.4L872.3,975.6L872.4,973.8L872.6,972.0L872.7,970.2L872.9,968.4L873.0,966.5L873.2,964.7L873.4,962.9L873.5,961.1L873.7,959.3L873.8,957.5L874.0,955.7L874.1,953.9L874.3,952.1L874.4,950.2L874.6,948.4L874.7,946.6L874.9,944.8L875.0,943.0L875.2,941.2L875.3,939.4L875.5,937.6L875.6,935.7L875.8,933.9L875.9,932.1L876.0,930.3L876.2,928.5L876.3,926.7L876.5,924.9L876.6,923.1L876.8,921.3L876.9,919.4L877.0,917.6L877.2,915.8L877.3,914.0L877.5,912.2L877.6,910.4L877.7,908.6L877.9,906.8L878.0,904.9L878.1,903.1L878.3,901.3L878.4,899.5L878.5,897.7L878.7,895.9L878.8,894.1L878.9,892.3L879.1,890.4L879.2,888.6L879.3,886.8L879.5,885.0L879.6,883.2L879.7,881.4L879.9,879.6L880.0,877.7L880.1,875.9L880.2,874.1L880.4,872.3L880.5,870.5L880.6,868.7L880.7,866.9L880.9,865.1L881.0,863.2L881.1,861.4L881.2,859.6L881.4,857.8L881.5,856.0L881.6,854.2L881.7,852.4L881.8,850.5L882.0,848.7L882.1,846.9L882.2,845.1L882.3,843.3L882.4,841.5L882.5,839.7L882.7,837.9L882.8,836.0L882.9,834.2L883.0,832.4L883.1,830.6L883.2,828.8L883.3,827.0L883.4,825.2L883.5,823.3L883.7,821.5L883.8,819.7L883.9,817.9L884.0,816.1L884.1,814.3L884.2,812.5L884.3,810.6L884.4,808.8L884.5,807.0L884.6,805.2L884.7,803.4L884.8,801.6L884.9,799.7L885.0,797.9L885.1,796.1L885.2,794.3L885.3,792.5L885.4,790.7L885.5,788.9L885.6,787.0L885.7,785.2L885.8,783.4L885.9,781.6L886.0,779.8L886.1,778.0L886.2,776.2L886.3,774.3L886.4,772.5L886.5,770.7L886.6,768.9L886.7,767.1L886.8,765.3L886.9,763.4L887.0,761.6L887.0,759.8L887.1,758.0L887.2,756.2L887.3,754.4L887.4,752.5L887.5,750.7L887.6,748.9L887.6,747.1L887.7,745.3L887.8,743.5L887.9,741.7L888.0,739.8L888.1,738.0L888.1,736.2L888.2,734.4L888.3,732.6L888.4,730.8L888.5,728.9L888.5,727.1L888.6,725.3L888.7,723.5L888.8,721.7L888.9,719.9L888.9,718.0L889.0,716.2L889.1,714.4L889.2,712.6L889.2,710.8L889.3,709.0L889.4,707.1L889.4,705.3L889.5,703.5L889.6,701.7L889.7,699.9L889.7,698.1L889.8,696.2L889.9,694.4L889.9,692.6L890.0,690.8L890.1,689.0L890.1,687.2L890.2,685.3L890.2,683.5L890.3,681.7L890.4,679.9L890.4,678.1L890.5,676.3L890.6,674.4L890.6,672.6L890.7,670.8L890.7,669.0L890.8,667.2L890.8,665.3L890.9,663.5L891.0,661.7L891.0,659.9L891.1,658.1L891.1,656.3L891.2,654.4L891.2,652.6L891.3,650.8L891.3,649.0L891.4,647.2L891.4,645.4L891.5,643.5L891.5,641.7L891.6,639.9L891.6,638.1L891.7,636.3L891.7,634.4L891.8,632.6L891.8,630.8L891.8,629.0L891.9,627.2L891.9,625.4L892.0,623.5L892.0,621.7L892.0,619.9L892.1,618.1L892.1,616.3L892.2,614.4L892.2,612.6L892.2,610.8L892.3,609.0L892.3,607.2L892.3,605.4L892.4,603.5L892.4,601.7L892.4,599.9L892.5,598.1L892.5,596.3L892.5,594.4L892.6,592.6L892.6,590.8L892.6,589.0L892.6,587.2L892.7,585.4L892.7,583.5L892.7,581.7L892.7,579.9L892.8,578.1L892.8,576.3L892.8,574.4L892.8,572.6L892.9,570.8L892.9,569.0L892.9,567.2L892.9,565.3L892.9,563.5L893.0,561.7L893.0,559.9L893.0,558.1L893.0,556.2L893.0,554.4L893.0,552.6L893.0,550.8L893.0,549.0L893.1,547.2L893.1,545.3L893.1,543.5L893.1,541.7L893.1,539.9L893.1,538.1L893.1,536.2L893.1,534.4L893.1,532.6L893.1,530.8L893.1,529.0L893.1,527.1L893.1,525.3L893.1,523.5L893.1,521.7L893.1,519.9L893.1,518.0L893.1,516.2L893.1,514.4L893.1,512.6L893.1,510.8L893.1,508.9L893.1,507.1L893.1,505.3L893.1,503.5L893.1,501.7L893.1,499.8L893.0,498.0L893.0,496.2L893.0,494.4L893.0,492.6L893.0,490.7L893.0,488.9L893.0,487.1L892.9,485.3L892.9,483.5L892.9,481.6L892.9,479.8L892.9,478.0L892.8,476.2L892.8,474.4L892.8,472.5L892.8,470.7L892.7,468.9L892.7,467.1L892.7,465.3L892.7,463.4L892.6,461.6L892.6,459.8L892.6,458.0L892.5,456.2L892.5,454.3L892.5,452.5L892.4,450.7L892.4,448.9L892.4,447.1L892.3,445.2L892.3,443.4L892.3,441.6L892.2,439.8L892.2,437.9L892.1,436.1L892.1,434.3L892.1,432.5L892.0,430.7L892.0,428.8L891.9,427.0L891.9,425.2L891.8,423.4L891.8,421.6L891.7,419.7L891.7,417.9L891.6,416.1L891.6,414.3L891.5,412.5L891.4,410.6L891.4,408.8L891.3,407.0L891.3,405.2L891.2,403.3L891.2,401.5L891.1,399.7L891.0,397.9L891.0,396.1L890.9,394.2L890.8,392.4L890.8,390.6L890.7,388.8L890.6,387.0L890.6,385.1L890.5,383.3L890.4,381.5L890.3,379.7L890.3,377.9L890.2,376.0L890.1,374.2L890.0,372.4L889.9,370.6L889.9,368.7L889.8,366.9L889.7,365.1L889.6,363.3L889.5,361.5L889.4,359.6L889.4,357.8L889.3,356.0L889.2,354.2L889.1,352.4L889.0,350.5L888.9,348.7L888.8,346.9L888.7,345.1L888.6,343.2L888.5,341.4L888.4,339.6L888.3,337.8L888.2,336.0L888.1,334.1L888.0,332.3L887.9,330.5L887.8,328.7L887.7,326.9L887.6,325.0L887.4,323.2L887.3,321.4L887.2,319.6L887.1,317.7L887.0,315.9L886.9,314.1L886.7,312.3L886.6,310.5L886.5,308.6L886.4,306.8L886.2,305.0L886.1,303.2L886.0,301.3L885.9,299.5L885.7,297.7L885.6,295.9L885.5,294.1L885.3,292.2L885.2,290.4L885.1,288.6L884.9,286.8L884.8,285.0L884.6,283.1L884.5,281.3L884.3,279.5L884.2,277.7L884.0,275.8L883.9,274.0L883.7,272.2L883.6,270.4L883.4,268.6L883.3,266.7L883.1,264.9L883.0,263.1L882.8,261.3L882.6,259.5L882.5,257.6L882.3,255.8L882.1,254.0L882.0,252.2L881.8,250.3L881.6,248.5L881.4,246.7L881.3,244.9L881.1,243.1L880.9,241.2L880.7,239.4L880.5,237.6L880.4,235.8L880.2,234.0L880.0,232.1L879.8,230.3L879.6,228.5L879.4,226.7L879.2,224.9L879.0,223.0L878.8,221.2L878.6,219.4L878.4,217.6L878.2,215.7L878.0,213.9L877.8,212.1L877.6,210.3L877.4,208.5L877.1,206.6L876.9,204.8L876.7,203.0L876.5,201.2L876.3,199.4L876.0,197.5L875.8,195.7L875.6,193.9L875.3,192.1L875.1,190.3L874.9,188.4L874.6,186.6L874.4,184.8L874.1,183.0L873.9,181.2L873.7,179.3L873.4,177.5L873.2,175.7L872.9,173.9L872.6,172.1L872.4,170.2L872.1,168.4L871.9,166.6L871.6,164.8L871.3,163.0L871.1,161.1L870.8,159.3L870.5,157.5L870.2,155.7L869.9,153.9L869.7,152.0L869.4,150.2L869.1,148.4L868.8,146.6L868.5,144.8L868.2,143.0L867.9,141.1L867.6,139.3L867.3,137.5L867.0,135.7L866.7,133.9L866.4,132.0L866.1,130.2L865.7,128.4L865.4,126.6L865.1,124.8L864.8,123.0L864.4,121.1L864.1,119.3L863.8,117.5L863.4,115.7L863.1,113.9L862.7,112.1L862.4,110.2L862.0,108.4L861.7,106.6L861.3,104.8L861.0,103.0L860.6,101.2L860.2,99.3L859.9,97.5L859.5,95.7L859.1,93.9L858.7,92.1L858.4,90.3L858.0,88.5L857.6,86.6L857.2,84.8L856.8,83.0L856.4,81.2L856.0,79.4L855.6,77.6L855.2,75.8L854.7,74.0L854.3,72.1L853.9,70.3L853.5,68.5L853.0,66.7L852.6,64.9L852.2,63.1L851.7,61.3L851.3,59.5L850.8,57.6L850.4,55.8L849.9,54.0L849.4,52.2L849.0,50.4L848.5,48.6L848.0,46.8L847.5,45.0L847.1,43.2L846.6,41.4L846.1,39.6L845.6,37.7L845.1,35.9L844.6,34.1L844.0,32.3L843.5,30.5L843.0,28.7L842.5,26.9L841.9,25.1L841.4,23.3L840.9,21.5L840.3,19.7L839.7,17.9L839.2,16.1L838.6,14.3L838.1,12.5L837.5,10.7L836.9,8.9L836.3,7.1L835.7,5.3L835.1,3.5L834.5,1.7L833.9,-0.1L833.3,-1.9L832.7,-3.7L832.0,-5.5L831.4,-7.3L830.8,-9.1L830.1,-10.9L829.5,-12.7L828.8,-14.5L828.1,-16.3L827.4,-18.1L826.8,-19.9L826.1,-21.7L825.4,-23.5L824.7,-25.3L824.0,-27.1L823.3,-28.8L822.5,-30.6L821.8,-32.4L821.1,-34.2L820.3,-36.0L819.6,-37.8L818.8,-39.6L818.0,-41.3L817.2,-43.1L816.5,-44.9L815.7,-46.7L814.9,-48.5L814.0,-50.3L813.2,-52.0L812.4,-53.8L811.6,-55.6L810.7,-57.4L809.9,-59.1L809.0,-60.9L808.1,-62.7L807.2,-64.5L806.3,-66.2L805.4,-68.0L804.5,-69.8L803.6,-71.5L802.7,-73.3L801.7,-75.1L800.8,-76.8L799.8,-78.6L798.8,-80.3L797.8,-82.1L796.8,-83.9L795.8,-85.6L794.8,-87.4L793.7,-89.1L792.7,-90.9L791.6,-92.6L790.6,-94.4L789.5,-96.1L788.4,-97.9L787.3,-99.6L786.1,-101.3L785.0,-103.1L783.8,-104.8L782.7,-106.5L781.5,-108.3L780.3,-110.0L779.1,-111.7L777.9,-113.5L776.6,-115.2L775.4,-116.9L774.1,-118.6L772.8,-120.3L771.5,-122.0L770.2,-123.8L768.8,-125.5L767.5,-127.2L766.1,-128.9L764.7,-130.6L763.3,-132.3L761.9,-134.0L760.4,-135.6L759.0,-137.3L757.5,-139.0L756.0,-140.7L754.4,-142.4L752.9,-144.0L751.3,-145.7L749.7,-147.4L748.1,-149.0"/>
<path d="M870.1,999.1L871.2,997.6L872.3,996.1L873.3,994.7L874.4,993.2L875.4,991.7L876.5,990.2L877.5,988.7L878.6,987.2L879.6,985.7L880.7,984.2L881.7,982.7L882.8,981.2L883.8,979.7L884.8,978.2L885.9,976.7L886.9,975.2L888.0,973.7L889.0,972.2L890.1,970.7L891.1,969.2L892.1,967.7L893.2,966.2L894.2,964.6L895.2,963.1L896.3,961.6L897.3,960.1L898.3,958.6L899.4,957.1L900.4,955.6L901.4,954.1L902.4,952.6L903.5,951.1L904.5,949.6L905.5,948.0L906.6,946.5L907.6,945.0L908.6,943.5L909.6,942.0L910.6,940.5L911.7,938.9L912.7,937.4L913.7,935.9L914.7,934.4L915.7,932.9L916.7,931.3L917.8,929.8L918.8,928.3L919.8,926.8L920.8,925.3L921.8,923.7L922.8,922.2L923.8,920.7L924.8,919.2L925.8,917.6L926.8,916.1L927.8,914.6L928.8,913.1L929.8,911.5L930.8,910.0L931.8,908.5L932.8,906.9L933.8,905.4L934.8,903.9L935.8,902.3L936.8,900.8L937.8,899.3L938.8,897.7L939.8,896.2L940.8,894.7L941.8,893.1L942.8,891.6L943.8,890.1L944.8,888.5L945.8,887.0L946.7,885.4L947.7,883.9L948.7,882.4L949.7,880.8L950.7,879.3L951.7,877.7L952.6,876.2L953.6,874.7L954.6,873.1L955.6,871.6L956.6,870.0L957.5,868.5L958.5,866.9L959.5,865.4L960.5,863.8L961.4,862.3L962.4,860.7L963.4,859.2L964.3,857.6L965.3,856.1L966.3,854.5L967.2,853.0L968.2,851.4L969.2,849.9L970.1,848.3L971.1,846.8L972.0,845.2L973.0,843.7L974.0,842.1L974.9,840.5L975.9,839.0L976.8,837.4L977.8,835.9L978.7,834.3L979.7,832.7L980.7,831.2L981.6,829.6L982.6,828.1L983.5,826.5L984.5,824.9L985.4,823.4L986.3,821.8L987.3,820.2L988.2,818.7L989.2,817.1L990.1,815.5L991.1,814.0L992.0,812.4L992.9,810.8L993.9,809.3L994.8,807.7L995.7,806.1L996.7,804.5L997.6,803.0L998.6,801.4L999.5,799.8L1000.4,798.2L1001.3,796.7L1002.3,795.1L1003.2,793.5L1004.1,791.9L1005.1,790.4L1006.0,788.8L1006.9,787.2L1007.8,785.6L1008.7,784.0L1009.7,782.5L1010.6,780.9L1011.5,779.3L1012.4,777.7L1013.3,776.1L1014.3,774.5L1015.2,773.0L1016.1,771.4L1017.0,769.8L1017.9,768.2L1018.8,766.6L1019.7,765.0L1020.6,763.4L1021.5,761.9L1022.4,760.3L1023.3,758.7L1024.2,757.1L1025.2,755.5L1026.1,753.9L1027.0,752.3L1027.9,750.7L1028.7,749.1L1029.6,747.5L1030.5,745.9L1031.4,744.3L1032.3,742.7L1033.2,741.1L1034.1,739.5L1035.0,737.9L1035.9,736.3L1036.8,734.7L1037.7,733.1L1038.6,731.5L1039.4,729.9L1040.3,728.3L1041.2,726.7L1042.1,725.1L1043.0,723.5L1043.8,721.9L1044.7,720.3L1045.6,718.7L1046.5,717.1L1047.3,715.5L1048.2,713.9L1049.1,712.2L1050.0,710.6L1050.8,709.0L1051.7,707.4L1052.6,705.8L1053.4,704.2L1054.3,702.6L1055.2,700.9L1056.0,699.3L1056.9,697.7L1057.8,696.1L1058.6,694.5L1059.5,692.9L1060.3,691.2L1061.2,689.6L1062.0,688.0L1062.9,686.4L1063.7,684.8L1064.6,683.1L1065.4,681.5L1066.3,679.9L1067.1,678.3L1068.0,676.6L1068.8,675.0L1069.7,673.4L1070.5,671.8L1071.4,670.1L1072.2,668.5L1073.0,666.9L1073.9,665.2L1074.7,663.6L1075.5,662.0L1076.4,660.3L1077.2,658.7L1078.0,657.1L1078.9,655.4L1079.7,653.8L1080.5,652.2L1081.3,650.5L1082.2,648.9L1083.0,647.2L1083.8,645.6L1084.6,644.0L1085.5,642.3L1086.3,640.7L1087.1,639.0L1087.9,637.4L1088.7,635.8L1089.5,634.1L1090.3,632.5L1091.2,630.8L1092.0,629.2L1092.8,627.5L1093.6,625.9L1094.4,624.2L1095.2,622.6L1096.0,620.9L1096.8,619.3L1097.6,617.6L1098.4,616.0L1099.2,614.3L1100.0,612.7L1100.8,611.0L1101.6,609.3L1102.4,607.7L1103.1,606.0L1103.9,604.4L1104.7,602.7L1105.5,601.1L1106.3,599.4L1107.1,597.7L1107.8,596.1L1108.6,594.4L1109.4,592.7L1110.2,591.1L1111.0,589.4L1111.7,587.7L1112.5,586.1L1113.3,584.4L1114.0,582.7L1114.8,581.1L1115.6,579.4L1116.3,577.7L1117.1,576.0L1117.9,574.4L1118.6,572.7L1119.4,571.0L1120.1,569.3L1120.9,567.7L1121.7,566.0L1122.4,564.3L1123.2,562.6L1123.9,561.0L1124.7,559.3L1125.4,557.6L1126.1,555.9L1126.9,554.2L1127.6,552.5L1128.4,550.9L1129.1,549.2L1129.8,547.5L1130.6,545.8L1131.3,544.1L1132.0,542.4L1132.8,540.7L1133.5,539.0L1134.2,537.3L1134.9,535.7L1135.7,534.0L1136.4,532.3L1137.1,530.6L1137.8,528.9L1138.5,527.2L1139.3,525.5L1140.0,523.8L1140.7,522.1L1141.4,520.4L1142.1,518.7L1142.8,517.0L1143.5,515.3L1144.2,513.6L1144.9,511.9L1145.6,510.1L1146.3,508.4L1147.0,506.7L1147.7,505.0L1148.4,503.3L1149.1,501.6L1149.8,499.9L1150.4,498.2L1151.1,496.5L1151.8,494.7L1152.5,493.0L1153.2,491.3L1153.9,489.6L1154.5,487.9L1155.2,486.2L1155.9,484.4L1156.5,482.7L1157.2,481.0L1157.9,479.3L1158.5,477.5L1159.2,475.8L1159.9,474.1L1160.5,472.4L1161.2,470.6L1161.8,468.9L1162.5,467.2L1163.1,465.4L1163.8,463.7L1164.4,462.0L1165.0,460.2L1165.7,458.5L1166.3,456.8L1167.0,455.0L1167.6,453.3L1168.2,451.5L1168.9,449.8L1169.5,448.0L1170.1,446.3L1170.7,444.6L1171.4,442.8L1172.0,441.1L1172.6,439.3L1173.2,437.6L1173.8,435.8L1174.4,434.1L1175.0,432.3L1175.6,430.6L1176.2,428.8L1176.8,427.0L1177.4,425.3L1178.0,423.5L1178.6,421.8L1179.2,420.0L1179.8,418.2L1180.4,416.5L1181.0,414.7L1181.6,413.0L1182.1,411.2L1182.7,409.4L1183.3,407.6L1183.9,405.9L1184.4,404.1L1185.0,402.3L1185.6,400.6L1186.1,398.8L1186.7,397.0L1187.2,395.2L1187.8,393.5L1188.3,391.7L1188.9,389.9L1189.4,388.1L1190.0,386.3L1190.5,384.5L1191.1,382.8L1191.6,381.0L1192.1,379.2L1192.6,377.4L1193.2,375.6L1193.7,373.8L1194.2,372.0L1194.7,370.2L1195.2,368.4L1195.8,366.6L1196.3,364.8L1196.8,363.0L1197.3,361.2L1197.8,359.4L1198.3,357.6L1198.8,355.8L1199.3,354.0L1199.8,352.2L1200.2,350.4L1200.7,348.6L1201.2,346.8L1201.7,344.9L1202.1,343.1L1202.6,341.3L1203.1,339.5L1203.5,337.7L1204.0,335.8L1204.5,334.0L1204.9,332.2L1205.4,330.4L1205.8,328.5L1206.3,326.7L1206.7,324.9L1207.1,323.1L1207.6,321.2L1208.0,319.4L1208.4,317.5L1208.8,315.7L1209.3,313.9L1209.7,312.0L1210.1,310.2L1210.5,308.3L1210.9,306.5L1211.3,304.7L1211.7,302.8L1212.1,301.0L1212.5,299.1L1212.9,297.2L1213.3,295.4L1213.6,293.5L1214.0,291.7L1214.4,289.8L1214.7,288.0L1215.1,286.1L1215.5,284.2L1215.8,282.4L1216.2,280.5L1216.5,278.6L1216.9,276.7L1217.2,274.9L1217.5,273.0L1217.9,271.1L1218.2,269.2L1218.5,267.4L1218.8,265.5L1219.1,263.6L1219.4,261.7L1219.7,259.8L1220.0,257.9L1220.3,256.0L1220.6,254.1L1220.9,252.2L1221.2,250.3L1221.5,248.4L1221.7,246.5L1222.0,244.6L1222.3,242.7L1222.5,240.8L1222.8,238.9L1223.0,237.0L1223.2,235.1L1223.5,233.2L1223.7,231.3L1223.9,229.3L1224.2,227.4L1224.4,225.5L1224.6,223.6L1224.8,221.7L1225.0,219.7L1225.2,217.8L1225.4,215.9L1225.5,213.9L1225.7,212.0L1225.9,210.0L1226.1,208.1L1226.2,206.2L1226.4,204.2L1226.5,202.3L1226.7,200.3L1226.8,198.4L1226.9,196.4L1227.1,194.4L1227.2,192.5L1227.3,190.5L1227.4,188.6L1227.5,186.6L1227.6,184.6L1227.7,182.7L1227.7,180.7L1227.8,178.7L1227.9,176.7L1227.9,174.8L1228.0,172.8L1228.0,170.8L1228.1,168.8L1228.1,166.8L1228.1,164.8L1228.1,162.8L1228.1,160.8L1228.1,158.8L1228.1,156.8L1228.1,154.8L1228.1,152.8L1228.1,150.8L1228.0,148.8L1228.0,146.8L1227.9,144.7L1227.9,142.7L1227.8,140.7L1227.7,138.7L1227.6,136.6L1227.6,134.6L1227.5,132.6L1227.3,130.5L1227.2,128.5L1227.1,126.5L1227.0,124.4L1226.8,122.4L1226.7,120.3L1226.5,118.3L1226.3,116.2L1226.1,114.1L1225.9,112.1L1225.7,110.0L1225.5,107.9L1225.3,105.9L1225.1,103.8L1224.8,101.7L1224.6,99.6L1224.3,97.5L1224.0,95.5L1223.7,93.4L1223.5,91.3L1223.1,89.2L1222.8,87.1L1222.5,85.0L1222.2,82.9L1221.8,80.7L1221.4,78.6L1221.1,76.5L1220.7,74.4L1220.3,72.3L1219.9,70.1L1219.5,68.0L1219.0,65.9L1218.6,63.7L1218.1,61.6L1217.6,59.5L1217.1,57.3L1216.6,55.2L1216.1,53.0L1215.6,50.8L1215.1,48.7L1214.5,46.5L1213.9,44.3L1213.3,42.2L1212.7,40.0L1212.1,37.8L1211.5,35.6L1210.8,33.4L1210.2,31.3L1209.5,29.1L1208.8,26.9L1208.1,24.7L1207.4,22.5L1206.6,20.2L1205.9,18.0L1205.1,15.8L1204.3,13.6L1203.5,11.4L1202.7,9.1L1201.8,6.9L1200.9,4.7L1200.1,2.4L1199.2,0.2L1198.2,-2.1L1197.3,-4.3L1196.3,-6.6L1195.3,-8.8L1194.3,-11.1L1193.3,-13.4L1192.3,-15.7L1191.2,-17.9L1190.1,-20.2L1189.0,-22.5L1187.9,-24.8L1186.7,-27.1L1185.5,-29.4L1184.3,-31.7L1183.1,-34.0L1181.8,-36.3L1180.5,-38.6L1179.2,-40.9L1177.9,-43.3L1176.6,-45.6L1175.2,-47.9L1173.8,-50.3L1172.3,-52.6L1170.9,-55.0L1169.4,-57.3L1167.8,-59.7L1166.3,-62.0L1164.7,-64.4L1163.1,-66.7L1161.4,-69.1L1159.8,-71.5L1158.1,-73.9L1156.3,-76.2L1154.6,-78.6L1152.7,-81.0L1150.9,-83.4L1149.0,-85.8L1147.1,-88.2L1145.2,-90.6L1143.2,-93.0L1141.2,-95.4L1139.1,-97.8L1137.0,-100.2L1134.9,-102.7L1132.7,-105.1L1130.4,-107.5L1128.2,-109.9L1125.9,-112.4L1123.5,-114.8L1121.1,-117.2L1118.7,-119.7L1116.2,-122.1L1113.7,-124.6L1111.1,-127.0L1108.4,-129.5L1105.8,-131.9L1103.0,-134.4L1100.2,-136.8L1097.4,-139.3L1094.5,-141.7L1091.6,-144.2L1088.5,-146.6L1085.5,-149.1"/>
<path d="M870.1,999.1L871.8,998.4L873.5,997.6L875.1,996.8L876.8,996.0L878.5,995.2L880.1,994.5L881.8,993.7L883.4,992.9L885.1,992.1L886.8,991.3L888.4,990.5L890.1,989.8L891.7,989.0L893.4,988.2L895.0,987.4L896.7,986.6L898.3,985.8L900.0,985.0L901.6,984.2L903.3,983.4L905.0,982.6L906.6,981.8L908.3,981.0L909.9,980.2L911.6,979.4L913.2,978.6L914.8,977.8L916.5,977.0L918.1,976.2L919.8,975.4L921.4,974.5L923.1,973.7L924.7,972.9L926.4,972.1L928.0,971.3L929.6,970.5L931.3,969.6L932.9,968.8L934.6,968.0L936.2,967.2L937.9,966.4L939.5,965.5L941.1,964.7L942.8,963.9L944.4,963.0L946.0,962.2L947.7,961.4L949.3,960.5L950.9,959.7L952.6,958.9L954.2,958.0L955.8,957.2L957.5,956.4L959.1,955.5L960.7,954.7L962.4,953.8L964.0,953.0L965.6,952.1L967.3,951.3L968.9,950.4L970.5,949.6L972.1,948.7L973.8,947.9L975.4,947.0L977.0,946.2L978.6,945.3L980.3,944.5L981.9,943.6L983.5,942.8L985.1,941.9L986.7,941.0L988.4,940.2L990.0,939.3L991.6,938.4L993.2,937.6L994.8,936.7L996.4,935.8L998.1,935.0L999.7,934.1L1001.3,933.2L1002.9,932.3L1004.5,931.5L1006.1,930.6L1007.7,929.7L1009.4,928.8L1011.0,927.9L1012.6,927.1L1014.2,926.2L1015.8,925.3L1017.4,924.4L1019.0,923.5L1020.6,922.6L1022.2,921.7L1023.8,920.8L1025.4,919.9L1027.0,919.0L1028.6,918.2L1030.2,917.3L1031.8,916.4L1033.4,915.5L1035.0,914.6L1036.6,913.7L1038.2,912.7L1039.8,911.8L1041.4,910.9L1043.0,910.0L1044.6,909.1L1046.2,908.2L1047.8,907.3L1049.4,906.4L1051.0,905.5L1052.6,904.6L1054.2,903.6L1055.8,902.7L1057.4,901.8L1059.0,900.9L1060.5,900.0L1062.1,899.0L1063.7,898.1L1065.3,897.2L1066.9,896.2L1068.5,895.3L1070.1,894.4L1071.7,893.5L1073.2,892.5L1074.8,891.6L1076.4,890.6L1078.0,889.7L1079.6,888.8L1081.1,887.8L1082.7,886.9L1084.3,885.9L1085.9,885.0L1087.5,884.1L1089.0,883.1L1090.6,882.2L1092.2,881.2L1093.7,880.3L1095.3,879.3L1096.9,878.4L1098.5,877.4L1100.0,876.4L1101.6,875.5L1103.2,874.5L1104.7,873.6L1106.3,872.6L1107.9,871.6L1109.4,870.7L1111.0,869.7L1112.6,868.7L1114.1,867.8L1115.7,866.8L1117.3,865.8L1118.8,864.8L1120.4,863.9L1121.9,862.9L1123.5,861.9L1125.1,860.9L1126.6,860.0L1128.2,859.0L1129.7,858.0L1131.3,857.0L1132.8,856.0L1134.4,855.0L1135.9,854.0L1137.5,853.1L1139.0,852.1L1140.6,851.1L1142.1,850.1L1143.7,849.1L1145.2,848.1L1146.8,847.1L1148.3,846.1L1149.9,845.1L1151.4,844.1L1153.0,843.1L1154.5,842.0L1156.0,841.0L1157.6,840.0L1159.1,839.0L1160.7,838.0L1162.2,837.0L1163.7,836.0L1165.3,835.0L1166.8,833.9L1168.3,832.9L1169.9,831.9L1171.4,830.9L1172.9,829.8L1174.5,828.8L1176.0,827.8L1177.5,826.8L1179.0,825.7L1180.6,824.7L1182.1,823.7L1183.6,822.6L1185.1,821.6L1186.7,820.5L1188.2,819.5L1189.7,818.5L1191.2,817.4L1192.8,816.4L1194.3,815.3L1195.8,814.3L1197.3,813.2L1198.8,812.2L1200.3,811.1L1201.8,810.1L1203.4,809.0L1204.9,807.9L1206.4,806.9L1207.9,805.8L1209.4,804.7L1210.9,803.7L1212.4,802.6L1213.9,801.5L1215.4,800.5L1216.9,799.4L1218.4,798.3L1219.9,797.3L1221.4,796.2L1222.9,795.1L1224.4,794.0L1225.9,792.9L1227.4,791.8L1228.9,790.8L1230.4,789.7L1231.9,788.6L1233.4,787.5L1234.9,786.4L1236.4,785.3L1237.9,784.2L1239.4,783.1L1240.8,782.0L1242.3,780.9L1243.8,779.8L1245.3,778.7L1246.8,777.6L1248.3,776.5L1249.7,775.4L1251.2,774.3L1252.7,773.1L1254.2,772.0L1255.7,770.9L1257.1,769.8L1258.6,768.7L1260.1,767.5L1261.5,766.4L1263.0,765.3L1264.5,764.2L1265.9,763.0L1267.4,761.9L1268.9,760.8L1270.3,759.6L1271.8,758.5L1273.3,757.3L1274.7,756.2L1276.2,755.1L1277.6,753.9L1279.1,752.8L1280.6,751.6L1282.0,750.5L1283.5,749.3L1284.9,748.2L1286.4,747.0L1287.8,745.8L1289.3,744.7L1290.7,743.5L1292.2,742.3L1293.6,741.2L1295.0,740.0L1296.5,738.8L1297.9,737.7L1299.4,736.5L1300.8,735.3L1302.2,734.1L1303.7,732.9L1305.1,731.8L1306.5,730.6L1308.0,729.4L1309.4,728.2L1310.8,727.0L1312.2,725.8L1313.7,724.6L1315.1,723.4L1316.5,722.2L1317.9,721.0L1319.4,719.8L1320.8,718.6L1322.2,717.4L1323.6,716.2L1325.0,715.0L1326.4,713.7L1327.8,712.5L1329.2,711.3L1330.7,710.1L1332.1,708.9L1333.5,707.6L1334.9,706.4L1336.3,705.2L1337.7,703.9L1339.1,702.7L1340.5,701.5L1341.9,700.2L1343.3,699.0L1344.6,697.7L1346.0,696.5L1347.4,695.2L1348.8,694.0L1350.2,692.7L1351.6,691.5L1353.0,690.2L1354.3,688.9L1355.7,687.7L1357.1,686.4L1358.5,685.1L1359.8,683.9L1361.2,682.6L1362.6,681.3L1364.0,680.0L1365.3,678.8L1366.7,677.5L1368.1,676.2L1369.4,674.9L1370.8,673.6L1372.1,672.3L1373.5,671.0L1374.8,669.7L1376.2,668.4L1377.5,667.1L1378.9,665.8L1380.2,664.5L1381.6,663.2L1382.9,661.8L1384.3,660.5L1385.6,659.2L1386.9,657.9L1388.3,656.6L1389.6,655.2L1390.9,653.9L1392.3,652.6L1393.6,651.2L1394.9,649.9L1396.2,648.5L1397.6,647.2L1398.9,645.8L1400.2,644.5L1401.5,643.1L1402.8,641.8L1404.1,640.4L1405.4,639.0L1406.8,637.7L1408.1,636.3L1409.4,634.9L1410.7,633.6L1412.0,632.2L1413.3,630.8L1414.5,629.4L1415.8,628.0L1417.1,626.6L1418.4,625.2L1419.7,623.8L1421.0,622.4L1422.3,621.0L1423.5,619.6L1424.8,618.2L1426.1,616.8L1427.3,615.4L1428.6,614.0L1429.9,612.5L1431.1,611.1L1432.4,609.7L1433.6,608.3L1434.9,606.8L1436.2,605.4L1437.4,603.9L1438.6,602.5L1439.9,601.0L1441.1,599.6L1442.4,598.1L1443.6,596.7L1444.8,595.2L1446.1,593.7L1447.3,592.3L1448.5,590.8L1449.7,589.3L1451.0,587.8L1452.2,586.3L1453.4,584.9L1454.6,583.4L1455.8,581.9L1457.0,580.4L1458.2,578.9L1459.4,577.3L1460.6,575.8L1461.8,574.3L1463.0,572.8L1464.2,571.3L1465.3,569.7L1466.5,568.2L1467.7,566.7L1468.9,565.1L1470.0,563.6L1471.2,562.0L1472.4,560.5L1473.5,558.9L1474.7,557.4L1475.8,555.8L1477.0,554.2L1478.1,552.7L1479.3,551.1L1480.4,549.5L1481.5,547.9L1482.7,546.3L1483.8,544.7L1484.9,543.1L1486.1,541.5L1487.2,539.9L1488.3,538.3L1489.4,536.7L1490.5,535.1L1491.6,533.5L1492.7,531.8L1493.8,530.2L1494.9,528.5L1496.0,526.9L1497.0,525.2L1498.1,523.6L1499.2,521.9L1500.3,520.3L1501.3,518.6L1502.4,516.9L1503.4,515.2L1504.5,513.6L1505.5,511.9L1506.6,510.2L1507.6,508.5L1508.6,506.8L1509.7,505.1L1510.7,503.3L1511.7,501.6L1512.7,499.9L1513.7,498.2L1514.7,496.4L1515.7,494.7L1516.7,492.9L1517.7,491.2L1518.7,489.4L1519.7,487.7L1520.7,485.9L1521.6,484.1L1522.6,482.3L1523.6,480.5L1524.5,478.7L1525.5,476.9L1526.4,475.1L1527.3,473.3L1528.3,471.5L1529.2,469.7L1530.1,467.8L1531.0,466.0L1531.9,464.2L1532.8,462.3L1533.7,460.5L1534.6,458.6L1535.5,456.7L1536.4,454.8L1537.2,453.0L1538.1,451.1L1539.0,449.2L1539.8,447.3L1540.7,445.4L1541.5,443.4L1542.3,441.5L1543.2,439.6L1544.0,437.6L1544.8,435.7L1545.6,433.8L1546.4,431.8L1547.2,429.8L1548.0,427.8L1548.7,425.9L1549.5,423.9L1550.2,421.9L1551.0,419.9L1551.7,417.9L1552.5,415.8L1553.2,413.8L1553.9,411.8L1554.6,409.7L1555.3,407.7L1556.0,405.6L1556.7,403.5L1557.4,401.5L1558.1,399.4L1558.7,397.3L1559.4,395.2L1560.0,393.1L1560.6,390.9L1561.3,388.8L1561.9,386.7L1562.5,384.5L1563.1,382.4L1563.7,380.2L1564.2,378.0L1564.8,375.8L1565.3,373.6L1565.9,371.4L1566.4,369.2L1566.9,367.0L1567.4,364.8L1567.9,362.5L1568.4,360.3L1568.9,358.0L1569.4,355.7L1569.8,353.4L1570.3,351.2L1570.7,348.8L1571.1,346.5L1571.5,344.2L1571.9,341.9L1572.3,339.5L1572.7,337.2L1573.0,334.8L1573.4,332.4L1573.7,330.0L1574.0,327.6L1574.3,325.2L1574.6,322.8L1574.9,320.3L1575.1,317.9L1575.4,315.4L1575.6,312.9L1575.8,310.4L1576.0,307.9L1576.2,305.4L1576.3,302.9L1576.5,300.3L1576.6,297.8L1576.7,295.2L1576.8,292.6L1576.9,290.0L1577.0,287.4L1577.0,284.8L1577.1,282.2L1577.1,279.5L1577.1,276.9L1577.0,274.2L1577.0,271.5L1576.9,268.8L1576.8,266.1L1576.7,263.3L1576.6,260.6L1576.4,257.8L1576.3,255.0L1576.1,252.2L1575.9,249.4L1575.6,246.6L1575.4,243.7L1575.1,240.9L1574.8,238.0L1574.5,235.1L1574.1,232.2L1573.7,229.3L1573.3,226.3L1572.9,223.3L1572.5,220.4L1572.0,217.4L1571.5,214.3L1570.9,211.3L1570.4,208.3L1569.8,205.2L1569.2,202.1L1568.5,199.0L1567.8,195.9L1567.1,192.7L1566.4,189.5L1565.6,186.4L1564.8,183.1L1564.0,179.9L1563.1,176.7L1562.2,173.4L1561.2,170.1L1560.2,166.8L1559.2,163.5L1558.2,160.1L1557.1,156.8L1556.0,153.4L1554.8,149.9L1553.6,146.5L1552.3,143.0L1551.0,139.6L1549.7,136.1L1548.3,132.5L1546.9,129.0L1545.5,125.4L1543.9,121.8L1542.4,118.2L1540.8,114.5L1539.1,110.9L1537.4,107.2L1535.7,103.5L1533.8,99.7L1532.0,96.0L1530.1,92.2L1528.1,88.3L1526.1,84.5L1524.0,80.6L1521.8,76.7L1519.6,72.8L1517.4,68.9L1515.0,64.9L1512.6,60.9L1510.2,56.9L1507.7,52.8L1505.1,48.8L1502.4,44.7L1499.7,40.5L1496.8,36.4L1494.0,32.2L1491.0,28.0L1488.0,23.8L1484.8,19.5L1481.6,15.2L1478.4,10.9L1475.0,6.6L1471.5,2.2L1468.0,-2.2L1464.3,-6.6L1460.6,-11.0L1456.8,-15.5L1452.9,-20.0L1448.8,-24.5L1444.7,-29.1L1440.5,-33.6L1436.2,-38.2L1431.7,-42.8L1427.2,-47.5L1422.5,-52.1L1417.7,-56.8L1412.8,-61.5L1407.8,-66.2L1402.6,-71.0L1397.3,-75.7L1391.9,-80.5L1386.4,-85.3L1380.7,-90.1L1374.9,-94.9L1368.9,-99.8L1362.8,-104.6L1356.6,-109.5L1350.1,-114.3L1343.6,-119.2L1336.9,-124.1L1330.0,-129.0L1322.9,-133.9L1315.7,-138.8L1308.3,-143.7L1300.8,-148.5"/>
<path d="M870.1,999.1L872.0,999.3L873.8,999.4L875.6,999.6L877.4,999.7L879.3,999.9L881.1,1000.0L882.9,1000.2L884.7,1000.3L886.6,1000.4L888.4,1000.6L890.2,1000.7L892.1,1000.9L893.9,1001.0L895.7,1001.1L897.5,1001.3L899.4,1001.4L901.2,1001.5L903.0,1001.7L904.8,1001.8L906.7,1001.9L908.5,1002.0L910.3,1002.2L912.1,1002.3L914.0,1002.4L915.8,1002.5L917.6,1002.6L919.5,1002.8L921.3,1002.9L923.1,1003.0L924.9,1003.1L926.8,1003.2L928.6,1003.3L930.4,1003.4L932.3,1003.6L934.1,1003.7L935.9,1003.8L937.7,1003.9L939.6,1004.0L941.4,1004.1L943.2,1004.2L945.1,1004.3L946.9,1004.4L948.7,1004.5L950.5,1004.6L952.4,1004.7L954.2,1004.8L956.0,1004.9L957.9,1004.9L959.7,1005.0L961.5,1005.1L963.4,1005.2L965.2,1005.3L967.0,1005.4L968.8,1005.5L970.7,1005.5L972.5,1005.6L974.3,1005.7L976.2,1005.8L978.0,1005.9L979.8,1005.9L981.7,1006.0L983.5,1006.1L985.3,1006.2L987.2,1006.2L989.0,1006.3L990.8,1006.4L992.6,1006.4L994.5,1006.5L996.3,1006.5L998.1,1006.6L1000.0,1006.7L1001.8,1006.7L1003.6,1006.8L1005.5,1006.8L1007.3,1006.9L1009.1,1007.0L1011.0,1007.0L1012.8,1007.1L1014.6,1007.1L1016.5,1007.2L1018.3,1007.2L1020.1,1007.2L1022.0,1007.3L1023.8,1007.3L1025.6,1007.4L1027.5,1007.4L1029.3,1007.5L1031.1,1007.5L1033.0,1007.5L1034.8,1007.6L1036.6,1007.6L1038.5,1007.6L1040.3,1007.7L1042.1,1007.7L1044.0,1007.7L1045.8,1007.7L1047.6,1007.8L1049.5,1007.8L1051.3,1007.8L1053.1,1007.8L1055.0,1007.8L1056.8,1007.9L1058.6,1007.9L1060.5,1007.9L1062.3,1007.9L1064.1,1007.9L1066.0,1007.9L1067.8,1007.9L1069.6,1007.9L1071.5,1008.0L1073.3,1008.0L1075.1,1008.0L1077.0,1008.0L1078.8,1008.0L1080.6,1008.0L1082.5,1008.0L1084.3,1008.0L1086.1,1007.9L1088.0,1007.9L1089.8,1007.9L1091.6,1007.9L1093.5,1007.9L1095.3,1007.9L1097.2,1007.9L1099.0,1007.9L1100.8,1007.9L1102.7,1007.8L1104.5,1007.8L1106.3,1007.8L1108.2,1007.8L1110.0,1007.7L1111.8,1007.7L1113.7,1007.7L1115.5,1007.7L1117.3,1007.6L1119.2,1007.6L1121.0,1007.6L1122.9,1007.5L1124.7,1007.5L1126.5,1007.4L1128.4,1007.4L1130.2,1007.4L1132.0,1007.3L1133.9,1007.3L1135.7,1007.2L1137.5,1007.2L1139.4,1007.1L1141.2,1007.1L1143.1,1007.0L1144.9,1007.0L1146.7,1006.9L1148.6,1006.9L1150.4,1006.8L1152.2,1006.7L1154.1,1006.7L1155.9,1006.6L1157.7,1006.5L1159.6,1006.5L1161.4,1006.4L1163.3,1006.3L1165.1,1006.3L1166.9,1006.2L1168.8,1006.1L1170.6,1006.0L1172.4,1006.0L1174.3,1005.9L1176.1,1005.8L1178.0,1005.7L1179.8,1005.6L1181.6,1005.5L1183.5,1005.5L1185.3,1005.4L1187.1,1005.3L1189.0,1005.2L1190.8,1005.1L1192.7,1005.0L1194.5,1004.9L1196.3,1004.8L1198.2,1004.7L1200.0,1004.6L1201.8,1004.5L1203.7,1004.4L1205.5,1004.3L1207.4,1004.1L1209.2,1004.0L1211.0,1003.9L1212.9,1003.8L1214.7,1003.7L1216.5,1003.6L1218.4,1003.4L1220.2,1003.3L1222.1,1003.2L1223.9,1003.1L1225.7,1002.9L1227.6,1002.8L1229.4,1002.7L1231.2,1002.5L1233.1,1002.4L1234.9,1002.3L1236.8,1002.1L1238.6,1002.0L1240.4,1001.8L1242.3,1001.7L1244.1,1001.5L1245.9,1001.4L1247.8,1001.2L1249.6,1001.1L1251.5,1000.9L1253.3,1000.8L1255.1,1000.6L1257.0,1000.5L1258.8,1000.3L1260.6,1000.1L1262.5,1000.0L1264.3,999.8L1266.1,999.6L1268.0,999.4L1269.8,999.3L1271.7,999.1L1273.5,998.9L1275.3,998.7L1277.2,998.5L1279.0,998.4L1280.8,998.2L1282.7,998.0L1284.5,997.8L1286.4,997.6L1288.2,997.4L1290.0,997.2L1291.9,997.0L1293.7,996.8L1295.5,996.6L1297.4,996.4L1299.2,996.2L1301.1,996.0L1302.9,995.8L1304.7,995.6L1306.6,995.3L1308.4,995.1L1310.2,994.9L1312.1,994.7L1313.9,994.4L1315.7,994.2L1317.6,994.0L1319.4,993.8L1321.3,993.5L1323.1,993.3L1324.9,993.0L1326.8,992.8L1328.6,992.6L1330.4,992.3L1332.3,992.1L1334.1,991.8L1335.9,991.6L1337.8,991.3L1339.6,991.1L1341.4,990.8L1343.3,990.5L1345.1,990.3L1347.0,990.0L1348.8,989.7L1350.6,989.5L1352.5,989.2L1354.3,988.9L1356.1,988.6L1358.0,988.4L1359.8,988.1L1361.6,987.8L1363.5,987.5L1365.3,987.2L1367.1,986.9L1369.0,986.6L1370.8,986.3L1372.6,986.0L1374.5,985.7L1376.3,985.4L1378.1,985.1L1380.0,984.8L1381.8,984.5L1383.6,984.1L1385.5,983.8L1387.3,983.5L1389.1,983.2L1391.0,982.8L1392.8,982.5L1394.6,982.2L1396.5,981.8L1398.3,981.5L1400.1,981.2L1402.0,980.8L1403.8,980.5L1405.6,980.1L1407.5,979.8L1409.3,979.4L1411.1,979.1L1413.0,978.7L1414.8,978.3L1416.6,978.0L1418.4,977.6L1420.3,977.2L1422.1,976.8L1423.9,976.5L1425.8,976.1L1427.6,975.7L1429.4,975.3L1431.2,974.9L1433.1,974.5L1434.9,974.1L1436.7,973.7L1438.6,973.3L1440.4,972.9L1442.2,972.5L1444.0,972.1L1445.9,971.7L1447.7,971.3L1449.5,970.8L1451.4,970.4L1453.2,970.0L1455.0,969.5L1456.8,969.1L1458.7,968.7L1460.5,968.2L1462.3,967.8L1464.1,967.3L1466.0,966.9L1467.8,966.4L1469.6,966.0L1471.4,965.5L1473.3,965.0L1475.1,964.6L1476.9,964.1L1478.7,963.6L1480.5,963.1L1482.4,962.6L1484.2,962.2L1486.0,961.7L1487.8,961.2L1489.6,960.7L1491.5,960.2L1493.3,959.7L1495.1,959.2L1496.9,958.6L1498.7,958.1L1500.6,957.6L1502.4,957.1L1504.2,956.5L1506.0,956.0L1507.8,955.5L1509.7,954.9L1511.5,954.4L1513.3,953.8L1515.1,953.3L1516.9,952.7L1518.7,952.2L1520.5,951.6L1522.4,951.0L1524.2,950.4L1526.0,949.9L1527.8,949.3L1529.6,948.7L1531.4,948.1L1533.2,947.5L1535.0,946.9L1536.9,946.3L1538.7,945.7L1540.5,945.1L1542.3,944.5L1544.1,943.8L1545.9,943.2L1547.7,942.6L1549.5,941.9L1551.3,941.3L1553.1,940.6L1554.9,940.0L1556.7,939.3L1558.5,938.7L1560.3,938.0L1562.1,937.3L1563.9,936.7L1565.7,936.0L1567.5,935.3L1569.3,934.6L1571.1,933.9L1572.9,933.2L1574.7,932.5L1576.5,931.8L1578.3,931.1L1580.1,930.3L1581.9,929.6L1583.7,928.9L1585.5,928.1L1587.3,927.4L1589.1,926.6L1590.9,925.9L1592.7,925.1L1594.5,924.3L1596.2,923.6L1598.0,922.8L1599.8,922.0L1601.6,921.2L1603.4,920.4L1605.2,919.6L1607.0,918.8L1608.7,918.0L1610.5,917.2L1612.3,916.3L1614.1,915.5L1615.9,914.7L1617.6,913.8L1619.4,913.0L1621.2,912.1L1623.0,911.2L1624.7,910.4L1626.5,909.5L1628.3,908.6L1630.0,907.7L1631.8,906.8L1633.6,905.9L1635.3,905.0L1637.1,904.0L1638.9,903.1L1640.6,902.2L1642.4,901.2L1644.2,900.3L1645.9,899.3L1647.7,898.4L1649.4,897.4L1651.2,896.4L1652.9,895.4L1654.7,894.4L1656.4,893.4L1658.2,892.4L1659.9,891.4L1661.7,890.4L1663.4,889.3L1665.2,888.3L1666.9,887.2L1668.6,886.2L1670.4,885.1L1672.1,884.0L1673.9,882.9L1675.6,881.8L1677.3,880.7L1679.0,879.6L1680.8,878.5L1682.5,877.4L1684.2,876.2L1685.9,875.1L1687.7,873.9L1689.4,872.8L1691.1,871.6L1692.8,870.4L1694.5,869.2L1696.2,868.0L1697.9,866.8L1699.6,865.5L1701.3,864.3L1703.0,863.1L1704.7,861.8L1706.4,860.5L1708.1,859.2L1709.8,858.0L1711.5,856.7L1713.2,855.3L1714.9,854.0L1716.6,852.7L1718.2,851.3L1719.9,850.0L1721.6,848.6L1723.3,847.2L1724.9,845.8L1726.6,844.4L1728.2,843.0L1729.9,841.6L1731.6,840.1L1733.2,838.7L1734.8,837.2L1736.5,835.7L1738.1,834.3L1739.8,832.7L1741.4,831.2L1743.0,829.7L1744.7,828.1L1746.3,826.6L1747.9,825.0L1749.5,823.4L1751.1,821.8L1752.7,820.2L1754.3,818.6L1755.9,816.9L1757.5,815.3L1759.1,813.6L1760.7,811.9L1762.3,810.2L1763.9,808.5L1765.4,806.7L1767.0,805.0L1768.6,803.2L1770.1,801.4L1771.7,799.6L1773.2,797.8L1774.7,795.9L1776.3,794.1L1777.8,792.2L1779.3,790.3L1780.9,788.4L1782.4,786.5L1783.9,784.5L1785.4,782.6L1786.9,780.6L1788.3,778.6L1789.8,776.5L1791.3,774.5L1792.8,772.4L1794.2,770.3L1795.7,768.2L1797.1,766.1L1798.6,764.0L1800.0,761.8L1801.4,759.6L1802.8,757.4L1804.2,755.1L1805.6,752.9L1807.0,750.6L1808.4,748.3L1809.8,746.0L1811.1,743.6L1812.5,741.2L1813.8,738.8L1815.1,736.4L1816.5,733.9L1817.8,731.5L1819.1,729.0L1820.4,726.4L1821.6,723.9L1822.9,721.3L1824.2,718.7L1825.4,716.0L1826.6,713.3L1827.9,710.6L1829.1,707.9L1830.3,705.1L1831.4,702.4L1832.6,699.5L1833.8,696.7L1834.9,693.8L1836.0,690.9L1837.1,687.9L1838.2,684.9L1839.3,681.9L1840.4,678.9L1841.4,675.8L1842.4,672.6L1843.4,669.5L1844.4,666.3L1845.4,663.1L1846.4,659.8L1847.3,656.5L1848.2,653.1L1849.1,649.7L1850.0,646.3L1850.8,642.8L1851.6,639.3L1852.5,635.8L1853.2,632.2L1854.0,628.5L1854.7,624.9L1855.4,621.1L1856.1,617.3L1856.8,613.5L1857.4,609.7L1858.0,605.7L1858.6,601.8L1859.1,597.8L1859.6,593.7L1860.1,589.6L1860.5,585.4L1861.0,581.2L1861.3,576.9L1861.7,572.6L1862.0,568.2L1862.3,563.7L1862.5,559.2L1862.7,554.7L1862.8,550.1L1862.9,545.4L1863.0,540.7L1863.0,535.9L1863.0,531.0L1862.9,526.1L1862.8,521.1L1862.6,516.0L1862.4,510.9L1862.1,505.7L1861.8,500.4L1861.4,495.1L1861.0,489.7L1860.5,484.2L1859.9,478.6L1859.3,473.0L1858.6,467.3L1857.8,461.5L1857.0,455.6L1856.1,449.7L1855.1,443.6L1854.1,437.5L1852.9,431.3L1851.7,425.1L1850.4,418.7L1849.0,412.2L1847.6,405.7L1846.0,399.1L1844.3,392.4L1842.6,385.5L1840.7,378.6L1838.8,371.6L1836.7,364.5L1834.5,357.3L1832.2,350.1L1829.8,342.7L1827.2,335.2L1824.6,327.6L1821.8,319.9L1818.8,312.1L1815.8,304.2L1812.6,296.2L1809.2,288.1L1805.7,279.9L1802.0,271.6L1798.2,263.2L1794.2,254.7L1790.0,246.0L1785.6,237.3L1781.1,228.5L1776.3,219.5L1771.4,210.5L1766.3,201.3L1760.9,192.1L1755.4,182.7L1749.6,173.2L1743.6,163.7L1737.4,154.0L1730.9,144.3L1724.1,134.4L1717.2,124.5L1709.9,114.5L1702.4,104.4L1694.6,94.2L1686.5,83.9L1678.1,73.6L1669.5,63.2L1660.5,52.7L1651.2,42.2L1641.6,31.6L1631.6,21.0L1621.4,10.3L1610.7,-0.4L1599.8,-11.1L1588.5,-21.8L1576.8,-32.5L1564.7,-43.2L1552.3,-53.9L1539.5,-64.6L1526.4,-75.2L1512.8,-85.8L1498.9,-96.3L1484.5,-106.8L1469.8,-117.1L1454.7,-127.4L1439.2,-137.5L1423.3,-147.5"/>
<path d="M870.1,999.1L871.6,1000.2L873.1,1001.2L874.6,1002.2L876.1,1003.3L877.6,1004.3L879.1,1005.3L880.6,1006.4L882.1,1007.4L883.6,1008.4L885.1,1009.5L886.6,1010.5L888.1,1011.5L889.6,1012.5L891.2,1013.6L892.7,1014.6L894.2,1015.6L895.7,1016.7L897.2,1017.7L898.7,1018.7L900.2,1019.7L901.7,1020.8L903.2,1021.8L904.7,1022.8L906.2,1023.8L907.7,1024.8L909.2,1025.9L910.7,1026.9L912.2,1027.9L913.8,1028.9L915.3,1029.9L916.8,1030.9L918.3,1032.0L919.8,1033.0L921.3,1034.0L922.8,1035.0L924.3,1036.0L925.9,1037.0L927.4,1038.0L928.9,1039.0L930.4,1040.1L931.9,1041.1L933.4,1042.1L935.0,1043.1L936.5,1044.1L938.0,1045.1L939.5,1046.1L941.0,1047.1L942.5,1048.1L944.1,1049.1L945.6,1050.1L947.1,1051.1L948.6,1052.1L950.2,1053.1L951.7,1054.1L953.2,1055.1L954.7,1056.1L956.2,1057.1L957.8,1058.1L959.3,1059.1L960.8,1060.1L962.3,1061.1L963.9,1062.1L965.4,1063.1L966.9,1064.1L968.5,1065.1L970.0,1066.1L971.5,1067.1L973.0,1068.0L974.6,1069.0L976.1,1070.0L977.6,1071.0L979.2,1072.0L980.7,1073.0L982.2,1074.0L983.8,1075.0L985.3,1075.9L986.8,1076.9L988.4,1077.9L989.9,1078.9L991.4,1079.9L993.0,1080.9L994.5,1081.8L996.0,1082.8L997.6,1083.8L999.1,1084.8L1000.7,1085.7L1002.2,1086.7L1003.7,1087.7L1005.3,1088.7L1006.8,1089.6L1008.3,1090.6L1009.9,1091.6L1011.4,1092.6L1013.0,1093.5L1014.5,1094.5L1016.1,1095.5L1017.6,1096.4L1019.1,1097.4L1020.7,1098.4L1022.2,1099.3L1023.8,1100.3L1025.3,1101.3L1026.9,1102.2L1028.4,1103.2L1030.0,1104.2L1031.5,1105.1L1033.1,1106.1L1034.6,1107.0L1036.2,1108.0L1037.7,1109.0L1039.3,1109.9L1040.8,1110.9L1042.4,1111.8L1043.9,1112.8L1045.5,1113.7L1047.0,1114.7L1048.6,1115.6L1050.1,1116.6L1051.7,1117.5L1053.3,1118.5L1054.8,1119.4L1056.4,1120.4L1057.9,1121.3L1059.5,1122.3L1061.0,1123.2L1062.6,1124.2L1064.2,1125.1L1065.7,1126.1L1067.3,1127.0L1068.8,1127.9L1070.4,1128.9L1072.0,1129.8L1073.5,1130.8L1075.1,1131.7L1076.7,1132.6L1078.2,1133.6L1079.8,1134.5L1081.4,1135.5L1082.9,1136.4L1084.5,1137.3L1086.1,1138.3L1087.6,1139.2L1089.2,1140.1L1090.8,1141.0L1092.3,1142.0L1093.9,1142.9L1095.5,1143.8L1097.0,1144.8L1098.6,1145.7L1100.2,1146.6L1101.8,1147.5L1103.3,1148.4L1104.9,1149.4L1106.5,1150.3L1108.1,1151.2L1109.6,1152.1L1111.2,1153.0L1112.8,1154.0L1114.4,1154.9L1115.9,1155.8L1117.5,1156.7L1119.1,1157.6L1120.7,1158.5L1122.3,1159.4L1123.8,1160.4L1125.4,1161.3L1127.0,1162.2L1128.6,1163.1L1130.2,1164.0L1131.8,1164.9L1133.3,1165.8L1134.9,1166.7L1136.5,1167.6L1138.1,1168.5L1139.7,1169.4L1141.3,1170.3L1142.9,1171.2L1144.5,1172.1L1146.1,1173.0L1147.6,1173.9L1149.2,1174.8L1150.8,1175.7L1152.4,1176.6L1154.0,1177.5L1155.6,1178.4L1157.2,1179.3L1158.8,1180.1L1160.4,1181.0L1162.0,1181.9L1163.6,1182.8L1165.2,1183.7L1166.8,1184.6L1168.4,1185.4L1170.0,1186.3L1171.6,1187.2L1173.2,1188.1L1174.8,1189.0L1176.4,1189.8L1178.0,1190.7L1179.6,1191.6L1181.2,1192.5L1182.8,1193.3L1184.4,1194.2L1186.0,1195.1L1187.6,1196.0L1189.2,1196.8L1190.8,1197.7L1192.5,1198.6L1194.1,1199.4L1195.7,1200.3L1197.3,1201.1L1198.9,1202.0L1200.5,1202.9L1202.1,1203.7L1203.7,1204.6L1205.4,1205.4L1207.0,1206.3L1208.6,1207.1L1210.2,1208.0L1211.8,1208.9L1213.4,1209.7L1215.1,1210.6L1216.7,1211.4L1218.3,1212.2L1219.9,1213.1L1221.5,1213.9L1223.2,1214.8L1224.8,1215.6L1226.4,1216.5L1228.0,1217.3L1229.7,1218.1L1231.3,1219.0L1232.9,1219.8L1234.6,1220.7L1236.2,1221.5L1237.8,1222.3L1239.4,1223.1L1241.1,1224.0L1242.7,1224.8L1244.3,1225.6L1246.0,1226.5L1247.6,1227.3L1249.2,1228.1L1250.9,1228.9L1252.5,1229.7L1254.2,1230.6L1255.8,1231.4L1257.4,1232.2L1259.1,1233.0L1260.7,1233.8L1262.4,1234.6L1264.0,1235.4L1265.6,1236.3L1267.3,1237.1L1268.9,1237.9L1270.6,1238.7L1272.2,1239.5L1273.9,1240.3L1275.5,1241.1L1277.2,1241.9L1278.8,1242.7L1280.5,1243.5L1282.1,1244.3L1283.8,1245.1L1285.4,1245.8L1287.1,1246.6L1288.8,1247.4L1290.4,1248.2L1292.1,1249.0L1293.7,1249.8L1295.4,1250.6L1297.0,1251.3L1298.7,1252.1L1300.4,1252.9L1302.0,1253.7L1303.7,1254.4L1305.4,1255.2L1307.0,1256.0L1308.7,1256.8L1310.4,1257.5L1312.0,1258.3L1313.7,1259.1L1315.4,1259.8L1317.0,1260.6L1318.7,1261.3L1320.4,1262.1L1322.1,1262.9L1323.7,1263.6L1325.4,1264.4L1327.1,1265.1L1328.8,1265.9L1330.5,1266.6L1332.1,1267.3L1333.8,1268.1L1335.5,1268.8L1337.2,1269.6L1338.9,1270.3L1340.6,1271.0L1342.3,1271.8L1343.9,1272.5L1345.6,1273.2L1347.3,1274.0L1349.0,1274.7L1350.7,1275.4L1352.4,1276.1L1354.1,1276.9L1355.8,1277.6L1357.5,1278.3L1359.2,1279.0L1360.9,1279.7L1362.6,1280.4L1364.3,1281.1L1366.0,1281.9L1367.7,1282.6L1369.4,1283.3L1371.1,1284.0L1372.8,1284.7L1374.5,1285.4L1376.2,1286.0L1377.9,1286.7L1379.7,1287.4L1381.4,1288.1L1383.1,1288.8L1384.8,1289.5L1386.5,1290.2L1388.2,1290.8L1390.0,1291.5L1391.7,1292.2L1393.4,1292.9L1395.1,1293.5L1396.8,1294.2L1398.6,1294.9L1400.3,1295.5L1402.0,1296.2L1403.8,1296.8L1405.5,1297.5L1407.2,1298.1L1409.0,1298.8L1410.7,1299.4L1412.4,1300.1L1414.2,1300.7L1415.9,1301.4L1417.6,1302.0L1419.4,1302.6L1421.1,1303.3L1422.9,1303.9L1424.6,1304.5L1426.4,1305.1L1428.1,1305.8L1429.9,1306.4L1431.6,1307.0L1433.4,1307.6L1435.1,1308.2L1436.9,1308.8L1438.7,1309.4L1440.4,1310.0L1442.2,1310.6L1443.9,1311.2L1445.7,1311.8L1447.5,1312.4L1449.2,1313.0L1451.0,1313.6L1452.8,1314.2L1454.5,1314.7L1456.3,1315.3L1458.1,1315.9L1459.9,1316.5L1461.7,1317.0L1463.4,1317.6L1465.2,1318.1L1467.0,1318.7L1468.8,1319.2L1470.6,1319.8L1472.4,1320.3L1474.2,1320.9L1475.9,1321.4L1477.7,1321.9L1479.5,1322.5L1481.3,1323.0L1483.1,1323.5L1484.9,1324.1L1486.7,1324.6L1488.5,1325.1L1490.4,1325.6L1492.2,1326.1L1494.0,1326.6L1495.8,1327.1L1497.6,1327.6L1499.4,1328.1L1501.2,1328.6L1503.1,1329.1L1504.9,1329.5L1506.7,1330.0L1508.5,1330.5L1510.4,1330.9L1512.2,1331.4L1514.0,1331.9L1515.9,1332.3L1517.7,1332.8L1519.5,1333.2L1521.4,1333.7L1523.2,1334.1L1525.1,1334.5L1526.9,1334.9L1528.8,1335.4L1530.6,1335.8L1532.5,1336.2L1534.3,1336.6L1536.2,1337.0L1538.0,1337.4L1539.9,1337.8L1541.8,1338.2L1543.6,1338.6L1545.5,1339.0L1547.4,1339.3L1549.3,1339.7L1551.1,1340.1L1553.0,1340.4L1554.9,1340.8L1556.8,1341.1L1558.7,1341.5L1560.6,1341.8L1562.5,1342.1L1564.4,1342.5L1566.3,1342.8L1568.2,1343.1L1570.1,1343.4L1572.0,1343.7L1573.9,1344.0L1575.8,1344.3L1577.7,1344.6L1579.6,1344.9L1581.5,1345.1L1583.5,1345.4L1585.4,1345.7L1587.3,1345.9L1589.2,1346.2L1591.2,1346.4L1593.1,1346.6L1595.1,1346.9L1597.0,1347.1L1598.9,1347.3L1600.9,1347.5L1602.9,1347.7L1604.8,1347.9L1606.8,1348.1L1608.7,1348.3L1610.7,1348.4L1612.7,1348.6L1614.6,1348.7L1616.6,1348.9L1618.6,1349.0L1620.6,1349.2L1622.6,1349.3L1624.6,1349.4L1626.5,1349.5L1628.5,1349.6L1630.5,1349.7L1632.5,1349.8L1634.6,1349.8L1636.6,1349.9L1638.6,1349.9L1640.6,1350.0L1642.6,1350.0L1644.7,1350.1L1646.7,1350.1L1648.7,1350.1L1650.8,1350.1L1652.8,1350.1L1654.8,1350.0L1656.9,1350.0L1659.0,1350.0L1661.0,1349.9L1663.1,1349.8L1665.1,1349.8L1667.2,1349.7L1669.3,1349.6L1671.4,1349.5L1673.5,1349.3L1675.5,1349.2L1677.6,1349.1L1679.7,1348.9L1681.8,1348.7L1684.0,1348.6L1686.1,1348.4L1688.2,1348.2L1690.3,1347.9L1692.4,1347.7L1694.6,1347.5L1696.7,1347.2L1698.8,1346.9L1701.0,1346.6L1703.2,1346.3L1705.3,1346.0L1707.5,1345.7L1709.6,1345.3L1711.8,1345.0L1714.0,1344.6L1716.2,1344.2L1718.4,1343.8L1720.6,1343.4L1722.8,1342.9L1725.0,1342.5L1727.2,1342.0L1729.4,1341.5L1731.7,1341.0L1733.9,1340.5L1736.1,1339.9L1738.4,1339.3L1740.6,1338.8L1742.9,1338.2L1745.1,1337.5L1747.4,1336.9L1749.7,1336.2L1752.0,1335.5L1754.3,1334.8L1756.6,1334.1L1758.9,1333.3L1761.2,1332.6L1763.5,1331.8L1765.8,1331.0L1768.2,1330.1L1770.5,1329.2L1772.8,1328.4L1775.2,1327.4L1777.6,1326.5L1779.9,1325.5L1782.3,1324.5L1784.7,1323.5L1787.1,1322.4L1789.5,1321.4L1791.9,1320.3L1794.3,1319.1L1796.7,1318.0L1799.2,1316.8L1801.6,1315.5L1804.1,1314.3L1806.5,1313.0L1809.0,1311.6L1811.5,1310.3L1814.0,1308.9L1816.5,1307.4L1819.0,1306.0L1821.5,1304.5L1824.0,1302.9L1826.5,1301.3L1829.1,1299.7L1831.6,1298.0L1834.2,1296.3L1836.7,1294.6L1839.3,1292.8L1841.9,1291.0L1844.5,1289.1L1847.1,1287.1L1849.7,1285.2L1852.3,1283.1L1855.0,1281.1L1857.6,1278.9L1860.3,1276.7L1862.9,1274.5L1865.6,1272.2M1851.4,187.4L1832.7,160.3L1812.9,133.4L1792.1,106.5L1770.1,79.9L1747.1,53.7L1723.0,27.8L1697.9,2.5L1671.8,-22.3L1644.8,-46.5L1617.0,-69.9L1588.4,-92.5L1559.0,-114.3L1529.0,-135.2"/>
<path d="M870.1,999.1L870.9,1000.8L871.7,1002.4L872.5,1004.1L873.2,1005.7L874.0,1007.3L874.8,1009.0L875.5,1010.6L876.3,1012.3L877.1,1013.9L877.8,1015.6L878.6,1017.2L879.4,1018.8L880.1,1020.5L880.9,1022.1L881.7,1023.8L882.5,1025.4L883.2,1027.1L884.0,1028.7L884.8,1030.3L885.5,1032.0L886.3,1033.6L887.1,1035.3L887.8,1036.9L888.6,1038.6L889.4,1040.2L890.2,1041.8L890.9,1043.5L891.7,1045.1L892.5,1046.8L893.2,1048.4L894.0,1050.1L894.8,1051.7L895.6,1053.3L896.3,1055.0L897.1,1056.6L897.9,1058.3L898.7,1059.9L899.4,1061.5L900.2,1063.2L901.0,1064.8L901.7,1066.5L902.5,1068.1L903.3,1069.8L904.1,1071.4L904.8,1073.0L905.6,1074.7L906.4,1076.3L907.2,1078.0L907.9,1079.6L908.7,1081.2L909.5,1082.9L910.3,1084.5L911.0,1086.2L911.8,1087.8L912.6,1089.4L913.4,1091.1L914.1,1092.7L914.9,1094.4L915.7,1096.0L916.5,1097.6L917.2,1099.3L918.0,1100.9L918.8,1102.6L919.6,1104.2L920.3,1105.8L921.1,1107.5L921.9,1109.1L922.7,1110.8L923.4,1112.4L924.2,1114.0L925.0,1115.7L925.8,1117.3L926.5,1119.0L927.3,1120.6L928.1,1122.2L928.9,1123.9L929.6,1125.5L930.4,1127.2L931.2,1128.8L932.0,1130.4L932.8,1132.1L933.5,1133.7L934.3,1135.4L935.1,1137.0L935.9,1138.6L936.6,1140.3L937.4,1141.9L938.2,1143.5L939.0,1145.2L939.8,1146.8L940.5,1148.5L941.3,1150.1L942.1,1151.7L942.9,1153.4L943.7,1155.0L944.4,1156.7L945.2,1158.3L946.0,1159.9L946.8,1161.6L947.6,1163.2L948.3,1164.8L949.1,1166.5L949.9,1168.1L950.7,1169.8L951.5,1171.4L952.2,1173.0L953.0,1174.7L953.8,1176.3L954.6,1177.9L955.4,1179.6L956.1,1181.2L956.9,1182.9L957.7,1184.5L958.5,1186.1L959.3,1187.8L960.1,1189.4L960.8,1191.0L961.6,1192.7L962.4,1194.3L963.2,1195.9L964.0,1197.6L964.8,1199.2L965.5,1200.9L966.3,1202.5L967.1,1204.1L967.9,1205.8L968.7,1207.4L969.5,1209.0L970.2,1210.7L971.0,1212.3L971.8,1213.9L972.6,1215.6L973.4,1217.2L974.2,1218.9L975.0,1220.5L975.7,1222.1L976.5,1223.8L977.3,1225.4L978.1,1227.0L978.9,1228.7L979.7,1230.3L980.4,1231.9L981.2,1233.6L982.0,1235.2L982.8,1236.8L983.6,1238.5L984.4,1240.1L985.2,1241.7L986.0,1243.4L986.7,1245.0L987.5,1246.6L988.3,1248.3L989.1,1249.9L989.9,1251.6L990.7,1253.2L991.5,1254.8L992.3,1256.5L993.0,1258.1L993.8,1259.7L994.6,1261.4L995.4,1263.0L996.2,1264.6L997.0,1266.3L997.8,1267.9L998.6,1269.5L999.4,1271.2L1000.1,1272.8L1000.9,1274.4L1001.7,1276.1L1002.5,1277.7L1003.3,1279.3L1004.1,1281.0L1004.9,1282.6L1005.7,1284.2L1006.5,1285.9L1007.3,1287.5L1008.1,1289.1L1008.8,1290.8L1009.6,1292.4L1010.4,1294.0L1011.2,1295.6L1012.0,1297.3L1012.8,1298.9L1013.6,1300.5L1014.4,1302.2L1015.2,1303.8L1016.0,1305.4L1016.8,1307.1L1017.6,1308.7L1018.4,1310.3L1019.2,1312.0L1020.0,1313.6L1020.7,1315.2L1021.5,1316.9L1022.3,1318.5L1023.1,1320.1L1023.9,1321.8L1024.7,1323.4L1025.5,1325.0L1026.3,1326.6L1027.1,1328.3L1027.9,1329.9L1028.7,1331.5L1029.5,1333.2L1030.3,1334.8L1031.1,1336.4L1031.9,1338.1L1032.7,1339.7L1033.5,1341.3L1034.3,1342.9L1035.1,1344.6L1035.9,1346.2L1036.7,1347.8L1037.5,1349.5L1038.3,1351.1L1039.1,1352.7L1039.9,1354.3L1040.7,1356.0L1041.5,1357.6L1042.3,1359.2L1043.1,1360.9L1043.9,1362.5L1044.7,1364.1L1045.5,1365.8L1046.3,1367.4L1047.1,1369.0L1047.9,1370.6L1048.7,1372.3L1049.5,1373.9L1050.3,1375.5L1051.1,1377.1L1051.9,1378.8L1052.7,1380.4L1053.5,1382.0L1054.3,1383.7L1055.1,1385.3L1055.9,1386.9L1056.7,1388.5L1057.5,1390.2L1058.3,1391.8L1059.1,1393.4L1059.9,1395.0L1060.7,1396.7L1061.5,1398.3L1062.3,1399.9L1063.1,1401.5L1063.9,1403.2L1064.7,1404.8L1065.5,1406.4L1066.3,1408.1L1067.1,1409.7L1068.0,1411.3L1068.8,1412.9L1069.6,1414.6L1070.4,1416.2L1071.2,1417.8L1072.0,1419.4L1072.8,1421.1L1073.6,1422.7L1074.4,1424.3L1075.2,1425.9L1076.0,1427.5L1076.8,1429.2L1077.6,1430.8L1078.5,1432.4L1079.3,1434.0L1080.1,1435.7L1080.9,1437.3L1081.7,1438.9L1082.5,1440.5L1083.3,1442.2L1084.1,1443.8L1084.9,1445.4L1085.8,1447.0L1086.6,1448.7L1087.4,1450.3L1088.2,1451.9L1089.0,1453.5L1089.8,1455.1L1090.6,1456.8L1091.4,1458.4L1092.3,1460.0L1093.1,1461.6L1093.9,1463.3L1094.7,1464.9L1095.5,1466.5L1096.3,1468.1L1097.2,1469.7L1098.0,1471.4L1098.8,1473.0L1099.6,1474.6L1100.4,1476.2L1101.2,1477.8L1102.1,1479.5L1102.9,1481.1L1103.7,1482.7L1104.5,1484.3L1105.3,1485.9L1106.1,1487.6L1107.0,1489.2L1107.8,1490.8L1108.6,1492.4L1109.4,1494.0L1110.3,1495.6L1111.1,1497.3L1111.9,1498.9L1112.7,1500.5L1113.5,1502.1L1114.4,1503.7L1115.2,1505.4L1116.0,1507.0L1116.8,1508.6L1117.7,1510.2L1118.5,1511.8L1119.3,1513.4L1120.1,1515.1L1121.0,1516.7L1121.8,1518.3L1122.6,1519.9L1123.4,1521.5L1124.3,1523.1L1125.1,1524.8L1125.9,1526.4L1126.7,1528.0L1127.6,1529.6L1128.4,1531.2L1129.2,1532.8L1130.1,1534.4L1130.9,1536.1L1131.7,1537.7L1132.5,1539.3L1133.4,1540.9L1134.2,1542.5L1135.0,1544.1L1135.9,1545.7L1136.7,1547.3L1137.5,1549.0L1138.4,1550.6L1139.2,1552.2L1140.0,1553.8L1140.9,1555.4L1141.7,1557.0L1142.5,1558.6L1143.4,1560.2L1144.2,1561.8L1145.1,1563.5L1145.9,1565.1L1146.7,1566.7L1147.6,1568.3L1148.4,1569.9L1149.3,1571.5L1150.1,1573.1L1150.9,1574.7L1151.8,1576.3L1152.6,1577.9L1153.5,1579.6L1154.3,1581.2L1155.1,1582.8L1156.0,1584.4L1156.8,1586.0L1157.7,1587.6L1158.5,1589.2L1159.4,1590.8L1160.2,1592.4L1161.1,1594.0L1161.9,1595.6L1162.7,1597.2L1163.6,1598.8L1164.4,1600.4L1165.3,1602.0L1166.1,1603.6L1167.0,1605.3L1167.8,1606.9L1168.7,1608.5L1169.5,1610.1L1170.4,1611.7L1171.3,1613.3L1172.1,1614.9L1173.0,1616.5L1173.8,1618.1L1174.7,1619.7L1175.5,1621.3L1176.4,1622.9L1177.2,1624.5L1178.1,1626.1L1179.0,1627.7L1179.8,1629.3L1180.7,1630.9L1181.5,1632.5L1182.4,1634.1L1183.3,1635.7L1184.1,1637.3L1185.0,1638.9L1185.9,1640.5L1186.7,1642.1L1187.6,1643.7L1188.4,1645.3L1189.3,1646.8L1190.2,1648.4L1191.0,1650.0L1191.9,1651.6L1192.8,1653.2L1193.7,1654.8L1194.5,1656.4L1195.4,1658.0L1196.3,1659.6L1197.1,1661.2L1198.0,1662.8L1198.9,1664.4L1199.8,1666.0L1200.7,1667.6L1201.5,1669.2L1202.4,1670.7L1203.3,1672.3L1204.2,1673.9L1205.1,1675.5L1205.9,1677.1L1206.8,1678.7L1207.7,1680.3L1208.6,1681.9L1209.5,1683.4L1210.4,1685.0L1211.2,1686.6L1212.1,1688.2L1213.0,1689.8L1213.9,1691.4L1214.8,1693.0L1215.7,1694.5L1216.6,1696.1L1217.5,1697.7L1218.4,1699.3L1219.3,1700.9L1220.2,1702.4L1221.1,1704.0L1222.0,1705.6L1222.9,1707.2L1223.8,1708.8L1224.7,1710.3L1225.6,1711.9L1226.5,1713.5L1227.4,1715.1L1228.3,1716.6L1229.2,1718.2L1230.1,1719.8L1231.0,1721.4L1232.0,1722.9L1232.9,1724.5L1233.8,1726.1L1234.7,1727.6L1235.6,1729.2L1236.5,1730.8L1237.5,1732.4L1238.4,1733.9L1239.3,1735.5L1240.2,1737.1L1241.2,1738.6L1242.1,1740.2L1243.0,1741.8L1244.0,1743.3L1244.9,1744.9L1245.8,1746.4L1246.8,1748.0L1247.7,1749.6L1248.6,1751.1L1249.6,1752.7L1250.5,1754.2L1251.5,1755.8L1252.4,1757.3L1253.4,1758.9L1254.3,1760.5L1255.3,1762.0L1256.2,1763.6L1257.2,1765.1L1258.1,1766.7L1259.1,1768.2L1260.1,1769.8L1261.0,1771.3L1262.0,1772.9L1262.9,1774.4L1263.9,1775.9L1264.9,1777.5L1265.9,1779.0L1266.8,1780.6L1267.8,1782.1L1268.8,1783.6L1269.8,1785.2L1270.8,1786.7L1271.7,1788.3L1272.7,1789.8L1273.7,1791.3L1274.7,1792.9L1275.7,1794.4L1276.7,1795.9L1277.7,1797.4L1278.7,1799.0L1279.7,1800.5L1280.7,1802.0L1281.8,1803.5L1282.8,1805.1L1283.8,1806.6L1284.8,1808.1L1285.8,1809.6L1286.9,1811.1L1287.9,1812.6L1288.9,1814.1L1290.0,1815.6L1291.0,1817.2L1292.1,1818.7L1293.1,1820.2L1294.2,1821.7L1295.2,1823.2L1296.3,1824.7L1297.3,1826.2L1298.4,1827.6L1299.5,1829.1L1300.5,1830.6L1301.6,1832.1L1302.7,1833.6L1303.8,1835.1L1304.9,1836.6L1306.0,1838.0L1307.1,1839.5L1308.2,1841.0L1309.3,1842.5L1310.4,1843.9L1311.5,1845.4L1312.6,1846.9L1313.8,1848.3L1314.9,1849.8L1316.0,1851.2L1317.2,1852.7L1318.3,1854.1L1319.5,1855.6L1320.6,1857.0L1321.8,1858.5L1323.0,1859.9L1324.2,1861.3L1325.3,1862.8L1326.5,1864.2L1327.7,1865.6L1328.9,1867.0L1330.2,1868.5L1331.4,1869.9L1332.6,1871.3L1333.8,1872.7L1335.1,1874.1L1336.3,1875.5L1337.6,1876.9L1338.9,1878.2L1340.1,1879.6L1341.4,1881.0L1342.7,1882.4L1344.0,1883.7L1345.3,1885.1L1346.6,1886.5L1348.0,1887.8L1349.3,1889.1L1350.7,1890.5L1352.0,1891.8L1353.4,1893.1L1354.8,1894.5L1356.2,1895.8L1357.6,1897.1L1359.0,1898.4L1360.5,1899.7L1361.9,1901.0L1363.4,1902.2L1364.9,1903.5L1366.4,1904.8L1367.9,1906.0L1369.4,1907.2L1370.9,1908.5L1372.5,1909.7L1374.1,1910.9L1375.7,1912.1L1377.3,1913.3L1378.9,1914.5L1380.5,1915.7L1382.2,1916.8L1383.9,1918.0L1385.6,1919.1L1387.4,1920.2L1389.1,1921.3L1390.9,1922.4L1392.7,1923.5L1394.6,1924.5L1396.4,1925.6L1398.3,1926.6L1400.3,1927.6L1402.2,1928.6L1404.2,1929.5M1538.9,1929.0L1545.7,1926.5L1552.9,1923.7L1560.4,1920.5L1568.5,1916.9L1577.0,1912.9L1586.1,1908.4L1595.8,1903.4L1606.2,1897.7L1617.3,1891.2L1629.3,1883.9L1642.3,1875.5L1656.4,1866.0L1671.6,1855.2L1688.3,1842.7L1706.5,1828.2L1726.5,1811.5L1748.6,1791.8L1772.9,1768.7L1799.9,1741.2L1829.9,1708.2L1863.1,1668.3"/>
<path d="M870.1,999.1L870.0,1000.9L869.8,1002.8L869.6,1004.6L869.5,1006.4L869.3,1008.2L869.1,1010.0L869.0,1011.8L868.8,1013.6L868.6,1015.4L868.5,1017.2L868.3,1019.0L868.1,1020.9L867.9,1022.7L867.8,1024.5L867.6,1026.3L867.4,1028.1L867.2,1029.9L867.1,1031.7L866.9,1033.5L866.7,1035.3L866.5,1037.1L866.3,1038.9L866.2,1040.8L866.0,1042.6L865.8,1044.4L865.6,1046.2L865.4,1048.0L865.3,1049.8L865.1,1051.6L864.9,1053.4L864.7,1055.2L864.5,1057.0L864.3,1058.8L864.1,1060.6L864.0,1062.5L863.8,1064.3L863.6,1066.1L863.4,1067.9L863.2,1069.7L863.0,1071.5L862.8,1073.3L862.6,1075.1L862.4,1076.9L862.2,1078.7L862.1,1080.5L861.9,1082.3L861.7,1084.1L861.5,1086.0L861.3,1087.8L861.1,1089.6L860.9,1091.4L860.7,1093.2L860.5,1095.0L860.3,1096.8L860.1,1098.6L859.9,1100.4L859.7,1102.2L859.5,1104.0L859.3,1105.8L859.1,1107.6L858.9,1109.4L858.7,1111.3L858.5,1113.1L858.3,1114.9L858.1,1116.7L857.8,1118.5L857.6,1120.3L857.4,1122.1L857.2,1123.9L857.0,1125.7L856.8,1127.5L856.6,1129.3L856.4,1131.1L856.2,1132.9L856.0,1134.7L855.7,1136.5L855.5,1138.3L855.3,1140.2L855.1,1142.0L854.9,1143.8L854.7,1145.6L854.5,1147.4L854.2,1149.2L854.0,1151.0L853.8,1152.8L853.6,1154.6L853.4,1156.4L853.1,1158.2L852.9,1160.0L852.7,1161.8L852.5,1163.6L852.2,1165.4L852.0,1167.2L851.8,1169.0L851.6,1170.8L851.3,1172.6L851.1,1174.4L850.9,1176.3L850.7,1178.1L850.4,1179.9L850.2,1181.7L850.0,1183.5L849.7,1185.3L849.5,1187.1L849.3,1188.9L849.0,1190.7L848.8,1192.5L848.6,1194.3L848.3,1196.1L848.1,1197.9L847.9,1199.7L847.6,1201.5L847.4,1203.3L847.2,1205.1L846.9,1206.9L846.7,1208.7L846.4,1210.5L846.2,1212.3L845.9,1214.1L845.7,1215.9L845.5,1217.7L845.2,1219.5L845.0,1221.3L844.7,1223.1L844.5,1224.9L844.2,1226.7L844.0,1228.5L843.7,1230.3L843.5,1232.1L843.2,1234.0L843.0,1235.8L842.7,1237.6L842.5,1239.4L842.2,1241.2L842.0,1243.0L841.7,1244.8L841.5,1246.6L841.2,1248.4L840.9,1250.2L840.7,1252.0L840.4,1253.8L840.2,1255.6L839.9,1257.4L839.6,1259.2L839.4,1261.0L839.1,1262.8L838.8,1264.6L838.6,1266.4L838.3,1268.2L838.1,1270.0L837.8,1271.8L837.5,1273.6L837.2,1275.4L837.0,1277.2L836.7,1279.0L836.4,1280.8L836.2,1282.6L835.9,1284.4L835.6,1286.2L835.3,1288.0L835.1,1289.8L834.8,1291.6L834.5,1293.4L834.2,1295.2L834.0,1297.0L833.7,1298.8L833.4,1300.6L833.1,1302.4L832.8,1304.2L832.6,1305.9L832.3,1307.7L832.0,1309.5L831.7,1311.3L831.4,1313.1L831.1,1314.9L830.8,1316.7L830.6,1318.5L830.3,1320.3L830.0,1322.1L829.7,1323.9L829.4,1325.7L829.1,1327.5L828.8,1329.3L828.5,1331.1L828.2,1332.9L827.9,1334.7L827.6,1336.5L827.3,1338.3L827.0,1340.1L826.7,1341.9L826.4,1343.7L826.1,1345.5L825.8,1347.3L825.5,1349.1L825.2,1350.9L824.9,1352.7L824.6,1354.5L824.3,1356.3L824.0,1358.0L823.7,1359.8L823.4,1361.6L823.0,1363.4L822.7,1365.2L822.4,1367.0L822.1,1368.8L821.8,1370.6L821.5,1372.4L821.2,1374.2L820.8,1376.0L820.5,1377.8L820.2,1379.6L819.9,1381.4L819.5,1383.2L819.2,1385.0L818.9,1386.7L818.6,1388.5L818.2,1390.3L817.9,1392.1L817.6,1393.9L817.3,1395.7L816.9,1397.5L816.6,1399.3L816.3,1401.1L815.9,1402.9L815.6,1404.7L815.3,1406.5L814.9,1408.2L814.6,1410.0L814.2,1411.8L813.9,1413.6L813.6,1415.4L813.2,1417.2L812.9,1419.0L812.5,1420.8L812.2,1422.6L811.8,1424.4L811.5,1426.1L811.1,1427.9L810.8,1429.7L810.4,1431.5L810.1,1433.3L809.7,1435.1L809.4,1436.9L809.0,1438.7L808.7,1440.5L808.3,1442.2L807.9,1444.0L807.6,1445.8L807.2,1447.6L806.9,1449.4L806.5,1451.2L806.1,1453.0L805.8,1454.8L805.4,1456.5L805.0,1458.3L804.6,1460.1L804.3,1461.9L803.9,1463.7L803.5,1465.5L803.1,1467.3L802.8,1469.0L802.4,1470.8L802.0,1472.6L801.6,1474.4L801.2,1476.2L800.9,1478.0L800.5,1479.8L800.1,1481.5L799.7,1483.3L799.3,1485.1L798.9,1486.9L798.5,1488.7L798.1,1490.5L797.7,1492.2L797.3,1494.0L796.9,1495.8L796.5,1497.6L796.1,1499.4L795.7,1501.2L795.3,1502.9L794.9,1504.7L794.5,1506.5L794.1,1508.3L793.7,1510.1L793.3,1511.8L792.9,1513.6L792.5,1515.4L792.1,1517.2L791.6,1519.0L791.2,1520.7L790.8,1522.5L790.4,1524.3L790.0,1526.1L789.5,1527.8L789.1,1529.6L788.7,1531.4L788.3,1533.2L787.8,1535.0L787.4,1536.7L787.0,1538.5L786.5,1540.3L786.1,1542.1L785.6,1543.8L785.2,1545.6L784.8,1547.4L784.3,1549.2L783.9,1550.9L783.4,1552.7L783.0,1554.5L782.5,1556.3L782.1,1558.0L781.6,1559.8L781.2,1561.6L780.7,1563.4L780.2,1565.1L779.8,1566.9L779.3,1568.7L778.8,1570.4L778.4,1572.2L777.9,1574.0L777.4,1575.8L777.0,1577.5L776.5,1579.3L776.0,1581.1L775.5,1582.8L775.1,1584.6L774.6,1586.4L774.1,1588.1L773.6,1589.9L773.1,1591.7L772.6,1593.4L772.1,1595.2L771.6,1597.0L771.1,1598.7L770.6,1600.5L770.1,1602.3L769.6,1604.0L769.1,1605.8L768.6,1607.6L768.1,1609.3L767.6,1611.1L767.1,1612.9L766.6,1614.6L766.0,1616.4L765.5,1618.2L765.0,1619.9L764.5,1621.7L763.9,1623.4L763.4,1625.2L762.9,1627.0L762.4,1628.7L761.8,1630.5L761.3,1632.2L760.7,1634.0L760.2,1635.7L759.6,1637.5L759.1,1639.3L758.5,1641.0L758.0,1642.8L757.4,1644.5L756.9,1646.3L756.3,1648.0L755.7,1649.8L755.2,1651.5L754.6,1653.3L754.0,1655.1L753.5,1656.8L752.9,1658.6L752.3,1660.3L751.7,1662.1L751.1,1663.8L750.5,1665.6L749.9,1667.3L749.4,1669.1L748.8,1670.8L748.2,1672.6L747.5,1674.3L746.9,1676.0L746.3,1677.8L745.7,1679.5L745.1,1681.3L744.5,1683.0L743.9,1684.8L743.2,1686.5L742.6,1688.2L742.0,1690.0L741.3,1691.7L740.7,1693.5L740.1,1695.2L739.4,1696.9L738.8,1698.7L738.1,1700.4L737.5,1702.2L736.8,1703.9L736.1,1705.6L735.5,1707.4L734.8,1709.1L734.1,1710.8L733.5,1712.6L732.8,1714.3L732.1,1716.0L731.4,1717.8L730.7,1719.5L730.0,1721.2L729.3,1722.9L728.6,1724.7L727.9,1726.4L727.2,1728.1L726.5,1729.8L725.8,1731.6L725.0,1733.3L724.3,1735.0L723.6,1736.7L722.8,1738.4L722.1,1740.2L721.4,1741.9L720.6,1743.6L719.8,1745.3L719.1,1747.0L718.3,1748.7L717.6,1750.5L716.8,1752.2L716.0,1753.9L715.2,1755.6L714.4,1757.3L713.7,1759.0L712.9,1760.7L712.1,1762.4L711.2,1764.1L710.4,1765.8L709.6,1767.5L708.8,1769.2L708.0,1770.9L707.1,1772.6L706.3,1774.3L705.5,1776.0L704.6,1777.7L703.8,1779.4L702.9,1781.1L702.0,1782.8L701.2,1784.5L700.3,1786.2L699.4,1787.8L698.5,1789.5L697.6,1791.2L696.7,1792.9L695.8,1794.6L694.9,1796.3L694.0,1797.9L693.0,1799.6L692.1,1801.3L691.2,1803.0L690.2,1804.6L689.3,1806.3L688.3,1808.0L687.3,1809.6L686.4,1811.3L685.4,1813.0L684.4,1814.6L683.4,1816.3L682.4,1817.9L681.4,1819.6L680.4,1821.2L679.3,1822.9L678.3,1824.5L677.3,1826.2L676.2,1827.8L675.1,1829.5L674.1,1831.1L673.0,1832.7L671.9,1834.4L670.8,1836.0L669.7,1837.6L668.6,1839.3L667.5,1840.9L666.3,1842.5L665.2,1844.1L664.1,1845.8L662.9,1847.4L661.7,1849.0L660.6,1850.6L659.4,1852.2L658.2,1853.8L657.0,1855.4L655.7,1857.0L654.5,1858.6L653.3,1860.2L652.0,1861.8L650.7,1863.4L649.5,1864.9L648.2,1866.5L646.9,1868.1L645.6,1869.7L644.3,1871.2L642.9,1872.8L641.6,1874.4L640.2,1875.9L638.8,1877.5L637.4,1879.0L636.0,1880.6L634.6,1882.1L633.2,1883.7L631.8,1885.2L630.3,1886.7L628.8,1888.2L627.4,1889.8L625.9,1891.3L624.3,1892.8L622.8,1894.3L621.3,1895.8L619.7,1897.3L618.1,1898.8L616.5,1900.2L614.9,1901.7L613.3,1903.2L611.6,1904.7L610.0,1906.1L608.3,1907.6L606.6,1909.0L604.8,1910.5L603.1,1911.9L601.3,1913.3L599.5,1914.8L597.7,1916.2L595.9,1917.6L594.1,1919.0L592.2,1920.4L590.3,1921.7L588.4,1923.1L586.5,1924.5L584.5,1925.8L582.5,1927.2L580.5,1928.5L578.5,1929.9M199.3,1926.5L189.2,1922.1L178.9,1917.5L168.4,1912.5L157.5,1907.2L146.3,1901.6L134.9,1895.5L123.1,1889.1L111.0,1882.2L98.6,1874.9L85.8,1867.1L72.7,1858.8L59.2,1849.9L45.4,1840.5L31.3,1830.4L16.8,1819.7L1.9,1808.2L-13.4,1796.0L-29.0,1783.0L-44.9,1769.1L-61.2,1754.4L-77.9,1738.7L-94.8,1721.9L-112.1,1704.1L-129.6,1685.1L-147.4,1664.9L-165.3,1643.4L-183.4,1620.6M-187.0,168.0L-164.9,139.6L-142.7,112.9L-120.6,87.8L-98.7,64.2L-77.0,42.2L-55.5,21.5L-34.4,2.2L-13.7,-15.8L6.7,-32.6L26.6,-48.3L46.1,-62.9L65.1,-76.5L83.7,-89.2L101.8,-101.0L119.4,-111.9L136.5,-122.1L153.2,-131.6L169.4,-140.5L185.1,-148.7"/>
<path d="M870.1,999.1L869.1,1000.6L868.0,1002.1L867.0,1003.6L865.9,1005.1L864.9,1006.6L863.8,1008.1L862.7,1009.6L861.7,1011.0L860.6,1012.5L859.5,1014.0L858.5,1015.5L857.4,1017.0L856.3,1018.5L855.3,1020.0L854.2,1021.4L853.1,1022.9L852.0,1024.4L851.0,1025.9L849.9,1027.4L848.8,1028.8L847.8,1030.3L846.7,1031.8L845.6,1033.3L844.5,1034.7L843.4,1036.2L842.4,1037.7L841.3,1039.2L840.2,1040.6L839.1,1042.1L838.0,1043.6L836.9,1045.1L835.9,1046.5L834.8,1048.0L833.7,1049.5L832.6,1050.9L831.5,1052.4L830.4,1053.9L829.3,1055.3L828.2,1056.8L827.1,1058.3L826.0,1059.7L824.9,1061.2L823.8,1062.7L822.7,1064.1L821.6,1065.6L820.5,1067.1L819.4,1068.5L818.3,1070.0L817.2,1071.4L816.1,1072.9L815.0,1074.3L813.9,1075.8L812.8,1077.3L811.7,1078.7L810.6,1080.2L809.5,1081.6L808.4,1083.1L807.3,1084.5L806.2,1086.0L805.0,1087.4L803.9,1088.9L802.8,1090.3L801.7,1091.8L800.6,1093.2L799.5,1094.7L798.3,1096.1L797.2,1097.6L796.1,1099.0L795.0,1100.5L793.9,1101.9L792.7,1103.3L791.6,1104.8L790.5,1106.2L789.4,1107.7L788.2,1109.1L787.1,1110.6L786.0,1112.0L784.8,1113.4L783.7,1114.9L782.6,1116.3L781.4,1117.7L780.3,1119.2L779.2,1120.6L778.0,1122.0L776.9,1123.5L775.8,1124.9L774.6,1126.3L773.5,1127.8L772.3,1129.2L771.2,1130.6L770.0,1132.1L768.9,1133.5L767.7,1134.9L766.6,1136.3L765.5,1137.8L764.3,1139.2L763.2,1140.6L762.0,1142.0L760.8,1143.5L759.7,1144.9L758.5,1146.3L757.4,1147.7L756.2,1149.1L755.1,1150.6L753.9,1152.0L752.8,1153.4L751.6,1154.8L750.4,1156.2L749.3,1157.6L748.1,1159.1L746.9,1160.5L745.8,1161.9L744.6,1163.3L743.4,1164.7L742.3,1166.1L741.1,1167.5L739.9,1168.9L738.7,1170.3L737.6,1171.7L736.4,1173.1L735.2,1174.5L734.0,1176.0L732.9,1177.4L731.7,1178.8L730.5,1180.2L729.3,1181.6L728.1,1183.0L727.0,1184.4L725.8,1185.8L724.6,1187.1L723.4,1188.5L722.2,1189.9L721.0,1191.3L719.8,1192.7L718.6,1194.1L717.5,1195.5L716.3,1196.9L715.1,1198.3L713.9,1199.7L712.7,1201.1L711.5,1202.5L710.3,1203.8L709.1,1205.2L707.9,1206.6L706.7,1208.0L705.5,1209.4L704.3,1210.8L703.1,1212.1L701.9,1213.5L700.6,1214.9L699.4,1216.3L698.2,1217.7L697.0,1219.0L695.8,1220.4L694.6,1221.8L693.4,1223.2L692.2,1224.5L690.9,1225.9L689.7,1227.3L688.5,1228.6L687.3,1230.0L686.1,1231.4L684.8,1232.8L683.6,1234.1L682.4,1235.5L681.2,1236.8L679.9,1238.2L678.7,1239.6L677.5,1240.9L676.2,1242.3L675.0,1243.7L673.8,1245.0L672.5,1246.4L671.3,1247.7L670.1,1249.1L668.8,1250.4L667.6,1251.8L666.3,1253.1L665.1,1254.5L663.8,1255.8L662.6,1257.2L661.4,1258.5L660.1,1259.9L658.9,1261.2L657.6,1262.6L656.4,1263.9L655.1,1265.3L653.8,1266.6L652.6,1268.0L651.3,1269.3L650.1,1270.6L648.8,1272.0L647.6,1273.3L646.3,1274.6L645.0,1276.0L643.8,1277.3L642.5,1278.6L641.2,1280.0L640.0,1281.3L638.7,1282.6L637.4,1284.0L636.1,1285.3L634.9,1286.6L633.6,1287.9L632.3,1289.3L631.0,1290.6L629.8,1291.9L628.5,1293.2L627.2,1294.5L625.9,1295.9L624.6,1297.2L623.3,1298.5L622.0,1299.8L620.8,1301.1L619.5,1302.4L618.2,1303.7L616.9,1305.1L615.6,1306.4L614.3,1307.7L613.0,1309.0L611.7,1310.3L610.4,1311.6L609.1,1312.9L607.8,1314.2L606.5,1315.5L605.2,1316.8L603.9,1318.1L602.6,1319.4L601.2,1320.7L599.9,1322.0L598.6,1323.3L597.3,1324.6L596.0,1325.8L594.7,1327.1L593.3,1328.4L592.0,1329.7L590.7,1331.0L589.4,1332.3L588.0,1333.6L586.7,1334.8L585.4,1336.1L584.1,1337.4L582.7,1338.7L581.4,1339.9L580.1,1341.2L578.7,1342.5L577.4,1343.8L576.0,1345.0L574.7,1346.3L573.3,1347.6L572.0,1348.8L570.7,1350.1L569.3,1351.4L568.0,1352.6L566.6,1353.9L565.2,1355.1L563.9,1356.4L562.5,1357.6L561.2,1358.9L559.8,1360.1L558.5,1361.4L557.1,1362.6L555.7,1363.9L554.4,1365.1L553.0,1366.4L551.6,1367.6L550.2,1368.9L548.9,1370.1L547.5,1371.3L546.1,1372.6L544.7,1373.8L543.4,1375.1L542.0,1376.3L540.6,1377.5L539.2,1378.7L537.8,1380.0L536.4,1381.2L535.0,1382.4L533.6,1383.6L532.2,1384.9L530.8,1386.1L529.4,1387.3L528.0,1388.5L526.6,1389.7L525.2,1390.9L523.8,1392.1L522.4,1393.4L521.0,1394.6L519.6,1395.8L518.2,1397.0L516.7,1398.2L515.3,1399.4L513.9,1400.6L512.5,1401.8L511.1,1403.0L509.6,1404.1L508.2,1405.3L506.8,1406.5L505.3,1407.7L503.9,1408.9L502.5,1410.1L501.0,1411.3L499.6,1412.4L498.1,1413.6L496.7,1414.8L495.2,1416.0L493.8,1417.1L492.3,1418.3L490.9,1419.5L489.4,1420.6L488.0,1421.8L486.5,1423.0L485.0,1424.1L483.6,1425.3L482.1,1426.4L480.6,1427.6L479.2,1428.7L477.7,1429.9L476.2,1431.0L474.7,1432.2L473.2,1433.3L471.8,1434.4L470.3,1435.6L468.8,1436.7L467.3,1437.8L465.8,1439.0L464.3,1440.1L462.8,1441.2L461.3,1442.3L459.8,1443.5L458.3,1444.6L456.8,1445.7L455.3,1446.8L453.8,1447.9L452.2,1449.0L450.7,1450.1L449.2,1451.2L447.7,1452.3L446.1,1453.4L444.6,1454.5L443.1,1455.6L441.6,1456.7L440.0,1457.8L438.5,1458.9L436.9,1460.0L435.4,1461.1L433.8,1462.1L432.3,1463.2L430.7,1464.3L429.2,1465.3L427.6,1466.4L426.1,1467.5L424.5,1468.5L422.9,1469.6L421.4,1470.6L419.8,1471.7L418.2,1472.7L416.6,1473.8L415.0,1474.8L413.5,1475.9L411.9,1476.9L410.3,1477.9L408.7,1479.0L407.1,1480.0L405.5,1481.0L403.9,1482.1L402.3,1483.1L400.7,1484.1L399.1,1485.1L397.4,1486.1L395.8,1487.1L394.2,1488.1L392.6,1489.1L390.9,1490.1L389.3,1491.1L387.7,1492.1L386.0,1493.1L384.4,1494.1L382.7,1495.0L381.1,1496.0L379.4,1497.0L377.8,1497.9L376.1,1498.9L374.5,1499.9L372.8,1500.8L371.1,1501.8L369.5,1502.7L367.8,1503.7L366.1,1504.6L364.4,1505.5L362.7,1506.5L361.0,1507.4L359.3,1508.3L357.6,1509.2L355.9,1510.2L354.2,1511.1L352.5,1512.0L350.8,1512.9L349.1,1513.8L347.3,1514.7L345.6,1515.6L343.9,1516.5L342.1,1517.3L340.4,1518.2L338.7,1519.1L336.9,1520.0L335.2,1520.8L333.4,1521.7L331.6,1522.5L329.9,1523.4L328.1,1524.2L326.3,1525.1L324.6,1525.9L322.8,1526.7L321.0,1527.5L319.2,1528.4L317.4,1529.2L315.6,1530.0L313.8,1530.8L312.0,1531.6L310.2,1532.4L308.3,1533.2L306.5,1534.0L304.7,1534.7L302.8,1535.5L301.0,1536.3L299.2,1537.0L297.3,1537.8L295.5,1538.5L293.6,1539.3L291.7,1540.0L289.9,1540.7L288.0,1541.4L286.1,1542.2L284.2,1542.9L282.3,1543.6L280.4,1544.3L278.5,1545.0L276.6,1545.7L274.7,1546.3L272.8,1547.0L270.8,1547.7L268.9,1548.3L267.0,1549.0L265.0,1549.6L263.1,1550.2L261.1,1550.9L259.2,1551.5L257.2,1552.1L255.2,1552.7L253.2,1553.3L251.3,1553.9L249.3,1554.5L247.3,1555.1L245.3,1555.6L243.2,1556.2L241.2,1556.7L239.2,1557.3L237.2,1557.8L235.1,1558.3L233.1,1558.8L231.0,1559.4L229.0,1559.9L226.9,1560.3L224.8,1560.8L222.7,1561.3L220.7,1561.8L218.6,1562.2L216.5,1562.6L214.3,1563.1L212.2,1563.5L210.1,1563.9L208.0,1564.3L205.8,1564.7L203.7,1565.1L201.5,1565.5L199.4,1565.8L197.2,1566.2L195.0,1566.5L192.8,1566.8L190.6,1567.1L188.4,1567.4L186.2,1567.7L184.0,1568.0L181.7,1568.3L179.5,1568.5L177.2,1568.8L175.0,1569.0L172.7,1569.2L170.4,1569.4L168.1,1569.6L165.8,1569.8L163.5,1570.0L161.2,1570.1L158.9,1570.2L156.5,1570.4L154.2,1570.5L151.8,1570.6L149.5,1570.6L147.1,1570.7L144.7,1570.7L142.3,1570.8L139.9,1570.8L137.5,1570.8L135.0,1570.8L132.6,1570.7L130.1,1570.7L127.7,1570.6L125.2,1570.5L122.7,1570.4L120.2,1570.3L117.7,1570.2L115.2,1570.0L112.6,1569.8L110.1,1569.6L107.5,1569.4L105.0,1569.2L102.4,1568.9L99.8,1568.6L97.2,1568.3L94.5,1568.0L91.9,1567.6L89.3,1567.3L86.6,1566.9L83.9,1566.5L81.2,1566.0L78.5,1565.6L75.8,1565.1L73.1,1564.6L70.3,1564.0L67.5,1563.5L64.8,1562.9L62.0,1562.3L59.2,1561.6L56.3,1561.0L53.5,1560.3L50.6,1559.6L47.8,1558.8L44.9,1558.0L42.0,1557.2L39.0,1556.4L36.1,1555.5L33.1,1554.6L30.2,1553.6L27.2,1552.6L24.2,1551.6L21.2,1550.6L18.1,1549.5L15.1,1548.4L12.0,1547.2L8.9,1546.0L5.8,1544.8L2.6,1543.5L-0.5,1542.2L-3.7,1540.9L-6.9,1539.5L-10.1,1538.0L-13.3,1536.5L-16.6,1535.0L-19.9,1533.4L-23.1,1531.8L-26.5,1530.1L-29.8,1528.4L-33.2,1526.7L-36.5,1524.8L-39.9,1523.0L-43.3,1521.0L-46.8,1519.1L-50.2,1517.0L-53.7,1514.9L-57.2,1512.8L-60.8,1510.6L-64.3,1508.3L-67.9,1506.0L-71.5,1503.6L-75.1,1501.1L-78.8,1498.6L-82.4,1496.0L-86.1,1493.3L-89.8,1490.5L-93.6,1487.7L-97.3,1484.8L-101.1,1481.9L-104.9,1478.8L-108.8,1475.7L-112.6,1472.5L-116.5,1469.2L-120.4,1465.8L-124.3,1462.3L-128.3,1458.7L-132.3,1455.1L-136.3,1451.3L-140.3,1447.5L-144.3,1443.5L-148.4,1439.5L-152.5,1435.3L-156.6,1431.0L-160.7,1426.6L-164.9,1422.1L-169.1,1417.5L-173.3,1412.7L-177.5,1407.9L-181.7,1402.9L-186.0,1397.7L-190.3,1392.5L-194.6,1387.1L-198.9,1381.5M-195.7,244.7L-182.1,223.6L-168.0,202.9L-153.5,182.5L-138.6,162.4L-123.3,142.8L-107.5,123.5L-91.5,104.6L-75.0,86.2L-58.3,68.2L-41.3,50.7L-24.1,33.7L-6.6,17.2L11.0,1.2L28.9,-14.2L46.8,-29.2L64.9,-43.6L83.1,-57.5L101.4,-70.9L119.6,-83.7L137.9,-96.0L156.2,-107.8L174.5,-119.0L192.7,-129.7L210.8,-140.0L228.8,-149.7"/>
<path d="M870.1,999.1L868.5,999.9L866.8,1000.7L865.2,1001.4L863.5,1002.2L861.8,1003.0L860.2,1003.8L858.5,1004.5L856.8,1005.3L855.1,1006.0L853.5,1006.8L851.8,1007.6L850.1,1008.3L848.5,1009.1L846.8,1009.8L845.1,1010.6L843.5,1011.4L841.8,1012.1L840.1,1012.9L838.4,1013.6L836.8,1014.4L835.1,1015.1L833.4,1015.8L831.7,1016.6L830.1,1017.3L828.4,1018.1L826.7,1018.8L825.0,1019.6L823.3,1020.3L821.7,1021.0L820.0,1021.8L818.3,1022.5L816.6,1023.2L814.9,1024.0L813.2,1024.7L811.6,1025.4L809.9,1026.2L808.2,1026.9L806.5,1027.6L804.8,1028.3L803.1,1029.1L801.5,1029.8L799.8,1030.5L798.1,1031.2L796.4,1032.0L794.7,1032.7L793.0,1033.4L791.3,1034.1L789.6,1034.8L787.9,1035.5L786.2,1036.2L784.5,1036.9L782.9,1037.7L781.2,1038.4L779.5,1039.1L777.8,1039.8L776.1,1040.5L774.4,1041.2L772.7,1041.9L771.0,1042.6L769.3,1043.3L767.6,1044.0L765.9,1044.7L764.2,1045.4L762.5,1046.0L760.8,1046.7L759.1,1047.4L757.4,1048.1L755.7,1048.8L754.0,1049.5L752.3,1050.2L750.6,1050.9L748.9,1051.5L747.2,1052.2L745.5,1052.9L743.8,1053.6L742.0,1054.3L740.3,1054.9L738.6,1055.6L736.9,1056.3L735.2,1056.9L733.5,1057.6L731.8,1058.3L730.1,1058.9L728.4,1059.6L726.7,1060.3L724.9,1060.9L723.2,1061.6L721.5,1062.3L719.8,1062.9L718.1,1063.6L716.4,1064.2L714.7,1064.9L712.9,1065.5L711.2,1066.2L709.5,1066.8L707.8,1067.5L706.1,1068.1L704.3,1068.8L702.6,1069.4L700.9,1070.1L699.2,1070.7L697.5,1071.4L695.7,1072.0L694.0,1072.6L692.3,1073.3L690.6,1073.9L688.8,1074.5L687.1,1075.2L685.4,1075.8L683.7,1076.4L681.9,1077.1L680.2,1077.7L678.5,1078.3L676.8,1078.9L675.0,1079.6L673.3,1080.2L671.6,1080.8L669.8,1081.4L668.1,1082.0L666.4,1082.7L664.6,1083.3L662.9,1083.9L661.2,1084.5L659.4,1085.1L657.7,1085.7L656.0,1086.3L654.2,1086.9L652.5,1087.5L650.8,1088.1L649.0,1088.7L647.3,1089.3L645.5,1089.9L643.8,1090.5L642.1,1091.1L640.3,1091.7L638.6,1092.3L636.8,1092.9L635.1,1093.5L633.3,1094.1L631.6,1094.6L629.9,1095.2L628.1,1095.8L626.4,1096.4L624.6,1097.0L622.9,1097.5L621.1,1098.1L619.4,1098.7L617.6,1099.3L615.9,1099.8L614.1,1100.4L612.4,1101.0L610.6,1101.6L608.9,1102.1L607.1,1102.7L605.4,1103.2L603.6,1103.8L601.9,1104.4L600.1,1104.9L598.4,1105.5L596.6,1106.0L594.8,1106.6L593.1,1107.1L591.3,1107.7L589.6,1108.2L587.8,1108.8L586.1,1109.3L584.3,1109.9L582.5,1110.4L580.8,1110.9L579.0,1111.5L577.2,1112.0L575.5,1112.6L573.7,1113.1L572.0,1113.6L570.2,1114.2L568.4,1114.7L566.7,1115.2L564.9,1115.7L563.1,1116.3L561.4,1116.8L559.6,1117.3L557.8,1117.8L556.0,1118.3L554.3,1118.8L552.5,1119.4L550.7,1119.9L549.0,1120.4L547.2,1120.9L545.4,1121.4L543.6,1121.9L541.9,1122.4L540.1,1122.9L538.3,1123.4L536.5,1123.9L534.8,1124.4L533.0,1124.9L531.2,1125.4L529.4,1125.9L527.6,1126.4L525.9,1126.8L524.1,1127.3L522.3,1127.8L520.5,1128.3L518.7,1128.8L517.0,1129.3L515.2,1129.7L513.4,1130.2L511.6,1130.7L509.8,1131.1L508.0,1131.6L506.2,1132.1L504.4,1132.5L502.7,1133.0L500.9,1133.5L499.1,1133.9L497.3,1134.4L495.5,1134.8L493.7,1135.3L491.9,1135.7L490.1,1136.2L488.3,1136.6L486.5,1137.1L484.7,1137.5L482.9,1138.0L481.1,1138.4L479.3,1138.8L477.5,1139.3L475.7,1139.7L473.9,1140.1L472.1,1140.6L470.3,1141.0L468.5,1141.4L466.7,1141.9L464.9,1142.3L463.1,1142.7L461.3,1143.1L459.5,1143.5L457.7,1143.9L455.9,1144.3L454.1,1144.8L452.3,1145.2L450.5,1145.6L448.7,1146.0L446.9,1146.4L445.1,1146.8L443.3,1147.2L441.4,1147.6L439.6,1148.0L437.8,1148.3L436.0,1148.7L434.2,1149.1L432.4,1149.5L430.6,1149.9L428.7,1150.3L426.9,1150.6L425.1,1151.0L423.3,1151.4L421.5,1151.7L419.6,1152.1L417.8,1152.5L416.0,1152.8L414.2,1153.2L412.4,1153.6L410.5,1153.9L408.7,1154.3L406.9,1154.6L405.1,1155.0L403.2,1155.3L401.4,1155.7L399.6,1156.0L397.7,1156.3L395.9,1156.7L394.1,1157.0L392.3,1157.3L390.4,1157.7L388.6,1158.0L386.8,1158.3L384.9,1158.6L383.1,1159.0L381.3,1159.3L379.4,1159.6L377.6,1159.9L375.7,1160.2L373.9,1160.5L372.1,1160.8L370.2,1161.1L368.4,1161.4L366.5,1161.7L364.7,1162.0L362.9,1162.3L361.0,1162.6L359.2,1162.9L357.3,1163.2L355.5,1163.4L353.6,1163.7L351.8,1164.0L349.9,1164.3L348.1,1164.5L346.2,1164.8L344.4,1165.1L342.5,1165.3L340.7,1165.6L338.8,1165.8L337.0,1166.1L335.1,1166.3L333.3,1166.6L331.4,1166.8L329.5,1167.1L327.7,1167.3L325.8,1167.5L324.0,1167.8L322.1,1168.0L320.2,1168.2L318.4,1168.5L316.5,1168.7L314.6,1168.9L312.8,1169.1L310.9,1169.3L309.1,1169.5L307.2,1169.7L305.3,1169.9L303.4,1170.1L301.6,1170.3L299.7,1170.5L297.8,1170.7L296.0,1170.9L294.1,1171.1L292.2,1171.3L290.3,1171.4L288.5,1171.6L286.6,1171.8L284.7,1171.9L282.8,1172.1L280.9,1172.3L279.1,1172.4L277.2,1172.6L275.3,1172.7L273.4,1172.9L271.5,1173.0L269.7,1173.1L267.8,1173.3L265.9,1173.4L264.0,1173.5L262.1,1173.7L260.2,1173.8L258.3,1173.9L256.4,1174.0L254.5,1174.1L252.7,1174.2L250.8,1174.3L248.9,1174.4L247.0,1174.5L245.1,1174.6L243.2,1174.7L241.3,1174.8L239.4,1174.8L237.5,1174.9L235.6,1175.0L233.7,1175.1L231.8,1175.1L229.9,1175.2L228.0,1175.2L226.1,1175.3L224.1,1175.3L222.2,1175.4L220.3,1175.4L218.4,1175.4L216.5,1175.5L214.6,1175.5L212.7,1175.5L210.8,1175.5L208.9,1175.5L206.9,1175.5L205.0,1175.5L203.1,1175.5L201.2,1175.5L199.3,1175.5L197.3,1175.5L195.4,1175.5L193.5,1175.5L191.6,1175.4L189.7,1175.4L187.7,1175.4L185.8,1175.3L183.9,1175.3L182.0,1175.2L180.0,1175.2L178.1,1175.1L176.2,1175.0L174.2,1175.0L172.3,1174.9L170.4,1174.8L168.4,1174.7L166.5,1174.6L164.5,1174.5L162.6,1174.4L160.7,1174.3L158.7,1174.2L156.8,1174.1L154.8,1173.9L152.9,1173.8L151.0,1173.7L149.0,1173.5L147.1,1173.4L145.1,1173.2L143.2,1173.1L141.2,1172.9L139.3,1172.7L137.3,1172.6L135.4,1172.4L133.4,1172.2L131.4,1172.0L129.5,1171.8L127.5,1171.6L125.6,1171.4L123.6,1171.1L121.7,1170.9L119.7,1170.7L117.7,1170.5L115.8,1170.2L113.8,1170.0L111.8,1169.7L109.9,1169.4L107.9,1169.2L105.9,1168.9L104.0,1168.6L102.0,1168.3L100.0,1168.0L98.0,1167.7L96.1,1167.4L94.1,1167.1L92.1,1166.8L90.1,1166.4L88.1,1166.1L86.2,1165.7L84.2,1165.4L82.2,1165.0L80.2,1164.6L78.2,1164.3L76.2,1163.9L74.3,1163.5L72.3,1163.1L70.3,1162.7L68.3,1162.3L66.3,1161.8L64.3,1161.4L62.3,1161.0L60.3,1160.5L58.3,1160.1L56.3,1159.6L54.3,1159.1L52.3,1158.6L50.3,1158.1L48.3,1157.6L46.3,1157.1L44.3,1156.6L42.3,1156.1L40.3,1155.5L38.3,1155.0L36.3,1154.4L34.3,1153.9L32.3,1153.3L30.3,1152.7L28.2,1152.1L26.2,1151.5L24.2,1150.9L22.2,1150.3L20.2,1149.6L18.2,1149.0L16.1,1148.3L14.1,1147.7L12.1,1147.0L10.1,1146.3L8.1,1145.6L6.0,1144.9L4.0,1144.2L2.0,1143.4L-0.0,1142.7L-2.1,1141.9L-4.1,1141.2L-6.1,1140.4L-8.2,1139.6L-10.2,1138.8L-12.2,1138.0L-14.3,1137.2L-16.3,1136.3L-18.3,1135.5L-20.4,1134.6L-22.4,1133.7L-24.4,1132.8L-26.5,1131.9L-28.5,1131.0L-30.6,1130.1L-32.6,1129.2L-34.6,1128.2L-36.7,1127.2L-38.7,1126.2L-40.8,1125.2L-42.8,1124.2L-44.9,1123.2L-46.9,1122.2L-48.9,1121.1L-51.0,1120.0L-53.0,1118.9L-55.1,1117.8L-57.1,1116.7L-59.2,1115.6L-61.2,1114.4L-63.3,1113.3L-65.3,1112.1L-67.4,1110.9L-69.4,1109.6L-71.5,1108.4L-73.5,1107.2L-75.6,1105.9L-77.6,1104.6L-79.7,1103.3L-81.8,1102.0L-83.8,1100.6L-85.9,1099.3L-87.9,1097.9L-90.0,1096.5L-92.0,1095.1L-94.1,1093.6L-96.1,1092.2L-98.2,1090.7L-100.2,1089.2L-102.3,1087.7L-104.3,1086.1L-106.4,1084.6L-108.4,1083.0L-110.5,1081.4L-112.5,1079.7L-114.6,1078.1L-116.6,1076.4L-118.7,1074.7L-120.7,1073.0L-122.8,1071.2L-124.8,1069.5L-126.8,1067.7L-128.9,1065.8L-130.9,1064.0L-133.0,1062.1L-135.0,1060.2L-137.0,1058.3L-139.1,1056.4L-141.1,1054.4L-143.1,1052.4L-145.1,1050.3L-147.2,1048.3L-149.2,1046.2L-151.2,1044.1L-153.2,1041.9L-155.2,1039.7L-157.2,1037.5L-159.2,1035.3L-161.3,1033.0L-163.3,1030.7L-165.3,1028.4L-167.2,1026.0L-169.2,1023.6L-171.2,1021.1L-173.2,1018.7L-175.2,1016.1L-177.1,1013.6L-179.1,1011.0L-181.1,1008.4L-183.0,1005.7L-185.0,1003.1L-186.9,1000.3L-188.9,997.5L-190.8,994.7L-192.7,991.9L-194.6,989.0L-196.5,986.0L-198.5,983.1M-199.1,337.8L-193.5,325.5L-187.7,313.1L-181.6,300.6L-175.2,288.0L-168.6,275.3L-161.7,262.5L-154.4,249.6L-146.9,236.7L-139.1,223.6L-130.9,210.5L-122.5,197.3L-113.7,184.1L-104.6,170.9L-95.1,157.6L-85.4,144.3L-75.2,130.9L-64.8,117.6L-54.0,104.3L-42.8,91.0L-31.3,77.7L-19.5,64.5L-7.3,51.3L5.3,38.2L18.2,25.2L31.4,12.3L45.0,-0.5L58.9,-13.1L73.2,-25.7L87.8,-38.0L102.7,-50.2L118.0,-62.3L133.6,-74.1L149.4,-85.7L165.6,-97.1L182.0,-108.2L198.7,-119.1L215.7,-129.7L232.9,-140.1"/>
<path d="M870.1,999.1L868.3,999.0L866.5,998.8L864.7,998.7L862.8,998.5L861.0,998.4L859.2,998.2L857.4,998.0L855.6,997.9L853.7,997.7L851.9,997.6L850.1,997.4L848.3,997.2L846.4,997.1L844.6,996.9L842.8,996.7L841.0,996.5L839.1,996.4L837.3,996.2L835.5,996.0L833.7,995.8L831.8,995.7L830.0,995.5L828.2,995.3L826.4,995.1L824.6,994.9L822.7,994.8L820.9,994.6L819.1,994.4L817.3,994.2L815.5,994.0L813.6,993.8L811.8,993.6L810.0,993.4L808.2,993.3L806.3,993.1L804.5,992.9L802.7,992.7L800.9,992.5L799.1,992.3L797.2,992.1L795.4,991.9L793.6,991.7L791.8,991.5L790.0,991.2L788.1,991.0L786.3,990.8L784.5,990.6L782.7,990.4L780.9,990.2L779.1,990.0L777.2,989.8L775.4,989.6L773.6,989.3L771.8,989.1L770.0,988.9L768.1,988.7L766.3,988.5L764.5,988.2L762.7,988.0L760.9,987.8L759.1,987.5L757.2,987.3L755.4,987.1L753.6,986.9L751.8,986.6L750.0,986.4L748.2,986.2L746.3,985.9L744.5,985.7L742.7,985.4L740.9,985.2L739.1,985.0L737.3,984.7L735.5,984.5L733.6,984.2L731.8,984.0L730.0,983.7L728.2,983.5L726.4,983.2L724.6,983.0L722.7,982.7L720.9,982.5L719.1,982.2L717.3,982.0L715.5,981.7L713.7,981.5L711.9,981.2L710.1,980.9L708.2,980.7L706.4,980.4L704.6,980.1L702.8,979.9L701.0,979.6L699.2,979.3L697.4,979.1L695.6,978.8L693.7,978.5L691.9,978.2L690.1,978.0L688.3,977.7L686.5,977.4L684.7,977.1L682.9,976.8L681.1,976.6L679.3,976.3L677.5,976.0L675.6,975.7L673.8,975.4L672.0,975.1L670.2,974.8L668.4,974.5L666.6,974.3L664.8,974.0L663.0,973.7L661.2,973.4L659.4,973.1L657.6,972.8L655.7,972.5L653.9,972.2L652.1,971.9L650.3,971.6L648.5,971.3L646.7,970.9L644.9,970.6L643.1,970.3L641.3,970.0L639.5,969.7L637.7,969.4L635.9,969.1L634.1,968.8L632.3,968.4L630.5,968.1L628.7,967.8L626.9,967.5L625.0,967.1L623.2,966.8L621.4,966.5L619.6,966.2L617.8,965.8L616.0,965.5L614.2,965.2L612.4,964.8L610.6,964.5L608.8,964.2L607.0,963.8L605.2,963.5L603.4,963.2L601.6,962.8L599.8,962.5L598.0,962.1L596.2,961.8L594.4,961.4L592.6,961.1L590.8,960.7L589.0,960.4L587.2,960.0L585.4,959.7L583.6,959.3L581.8,959.0L580.0,958.6L578.2,958.2L576.4,957.9L574.6,957.5L572.8,957.2L571.0,956.8L569.2,956.4L567.4,956.1L565.6,955.7L563.8,955.3L562.0,954.9L560.2,954.6L558.4,954.2L556.6,953.8L554.8,953.4L553.0,953.1L551.3,952.7L549.5,952.3L547.7,951.9L545.9,951.5L544.1,951.1L542.3,950.7L540.5,950.4L538.7,950.0L536.9,949.6L535.1,949.2L533.3,948.8L531.5,948.4L529.7,948.0L527.9,947.6L526.1,947.2L524.4,946.8L522.6,946.4L520.8,946.0L519.0,945.5L517.2,945.1L515.4,944.7L513.6,944.3L511.8,943.9L510.0,943.5L508.2,943.1L506.5,942.6L504.7,942.2L502.9,941.8L501.1,941.4L499.3,940.9L497.5,940.5L495.7,940.1L493.9,939.7L492.2,939.2L490.4,938.8L488.6,938.4L486.8,937.9L485.0,937.5L483.2,937.0L481.4,936.6L479.7,936.2L477.9,935.7L476.1,935.3L474.3,934.8L472.5,934.4L470.7,933.9L469.0,933.5L467.2,933.0L465.4,932.6L463.6,932.1L461.8,931.6L460.0,931.2L458.3,930.7L456.5,930.2L454.7,929.8L452.9,929.3L451.2,928.8L449.4,928.4L447.6,927.9L445.8,927.4L444.0,926.9L442.3,926.5L440.5,926.0L438.7,925.5L436.9,925.0L435.2,924.5L433.4,924.0L431.6,923.6L429.8,923.1L428.1,922.6L426.3,922.1L424.5,921.6L422.7,921.1L421.0,920.6L419.2,920.1L417.4,919.6L415.6,919.1L413.9,918.6L412.1,918.0L410.3,917.5L408.6,917.0L406.8,916.5L405.0,916.0L403.2,915.5L401.5,915.0L399.7,914.4L397.9,913.9L396.2,913.4L394.4,912.9L392.6,912.3L390.9,911.8L389.1,911.3L387.3,910.7L385.6,910.2L383.8,909.6L382.0,909.1L380.3,908.6L378.5,908.0L376.7,907.5L375.0,906.9L373.2,906.4L371.5,905.8L369.7,905.3L367.9,904.7L366.2,904.1L364.4,903.6L362.7,903.0L360.9,902.5L359.1,901.9L357.4,901.3L355.6,900.7L353.9,900.2L352.1,899.6L350.4,899.0L348.6,898.4L346.8,897.9L345.1,897.3L343.3,896.7L341.6,896.1L339.8,895.5L338.1,894.9L336.3,894.3L334.6,893.7L332.8,893.1L331.1,892.5L329.3,891.9L327.6,891.3L325.8,890.7L324.1,890.1L322.3,889.5L320.6,888.9L318.8,888.2L317.1,887.6L315.3,887.0L313.6,886.4L311.8,885.7L310.1,885.1L308.3,884.5L306.6,883.8L304.9,883.2L303.1,882.6L301.4,881.9L299.6,881.3L297.9,880.6L296.2,880.0L294.4,879.3L292.7,878.7L290.9,878.0L289.2,877.4L287.5,876.7L285.7,876.1L284.0,875.4L282.3,874.7L280.5,874.1L278.8,873.4L277.1,872.7L275.3,872.0L273.6,871.3L271.9,870.7L270.1,870.0L268.4,869.3L266.7,868.6L264.9,867.9L263.2,867.2L261.5,866.5L259.8,865.8L258.0,865.1L256.3,864.4L254.6,863.7L252.9,863.0L251.1,862.3L249.4,861.5L247.7,860.8L246.0,860.1L244.3,859.4L242.5,858.6L240.8,857.9L239.1,857.2L237.4,856.4L235.7,855.7L234.0,854.9L232.2,854.2L230.5,853.4L228.8,852.7L227.1,851.9L225.4,851.2L223.7,850.4L222.0,849.6L220.3,848.9L218.6,848.1L216.8,847.3L215.1,846.6L213.4,845.8L211.7,845.0L210.0,844.2L208.3,843.4L206.6,842.6L204.9,841.8L203.2,841.0L201.5,840.2L199.8,839.4L198.1,838.6L196.4,837.8L194.7,837.0L193.0,836.2L191.4,835.3L189.7,834.5L188.0,833.7L186.3,832.8L184.6,832.0L182.9,831.2L181.2,830.3L179.5,829.5L177.8,828.6L176.2,827.8L174.5,826.9L172.8,826.1L171.1,825.2L169.4,824.3L167.8,823.4L166.1,822.6L164.4,821.7L162.7,820.8L161.1,819.9L159.4,819.0L157.7,818.1L156.0,817.2L154.4,816.3L152.7,815.4L151.0,814.5L149.4,813.6L147.7,812.7L146.1,811.7L144.4,810.8L142.7,809.9L141.1,809.0L139.4,808.0L137.8,807.1L136.1,806.1L134.5,805.2L132.8,804.2L131.2,803.3L129.5,802.3L127.9,801.3L126.2,800.3L124.6,799.4L122.9,798.4L121.3,797.4L119.6,796.4L118.0,795.4L116.4,794.4L114.7,793.4L113.1,792.4L111.5,791.4L109.8,790.3L108.2,789.3L106.6,788.3L104.9,787.3L103.3,786.2L101.7,785.2L100.1,784.1L98.5,783.1L96.8,782.0L95.2,780.9L93.6,779.9L92.0,778.8L90.4,777.7L88.8,776.6L87.2,775.5L85.6,774.5L84.0,773.4L82.4,772.2L80.8,771.1L79.2,770.0L77.6,768.9L76.0,767.8L74.4,766.6L72.8,765.5L71.2,764.3L69.6,763.2L68.1,762.0L66.5,760.9L64.9,759.7L63.3,758.5L61.7,757.3L60.2,756.2L58.6,755.0L57.0,753.8L55.5,752.6L53.9,751.3L52.4,750.1L50.8,748.9L49.2,747.7L47.7,746.4L46.1,745.2L44.6,743.9L43.1,742.7L41.5,741.4L40.0,740.1L38.4,738.9L36.9,737.6L35.4,736.3L33.8,735.0L32.3,733.7L30.8,732.4L29.3,731.0L27.8,729.7L26.2,728.4L24.7,727.0L23.2,725.7L21.7,724.3L20.2,723.0L18.7,721.6L17.2,720.2L15.7,718.8L14.3,717.4L12.8,716.0L11.3,714.6L9.8,713.2L8.3,711.7L6.9,710.3L5.4,708.9L3.9,707.4L2.5,705.9L1.0,704.5L-0.4,703.0L-1.9,701.5L-3.3,700.0L-4.8,698.5L-6.2,697.0L-7.6,695.4L-9.1,693.9L-10.5,692.4L-11.9,690.8L-13.3,689.2L-14.7,687.7L-16.1,686.1L-17.5,684.5L-18.9,682.9L-20.3,681.3L-21.7,679.6L-23.1,678.0L-24.5,676.3L-25.8,674.7L-27.2,673.0L-28.6,671.3L-29.9,669.7L-31.3,668.0L-32.6,666.2L-34.0,664.5L-35.3,662.8L-36.6,661.0L-38.0,659.3L-39.3,657.5L-40.6,655.7L-41.9,653.9L-43.2,652.1L-44.5,650.3L-45.8,648.5L-47.1,646.6L-48.3,644.8L-49.6,642.9L-50.9,641.0L-52.1,639.1L-53.4,637.2L-54.6,635.3L-55.9,633.4L-57.1,631.4L-58.3,629.4L-59.5,627.5L-60.7,625.5L-61.9,623.5L-63.1,621.4L-64.3,619.4L-65.5,617.3L-66.6,615.3L-67.8,613.2L-68.9,611.1L-70.1,609.0L-71.2,606.8L-72.3,604.7L-73.4,602.5L-74.5,600.4L-75.6,598.2L-76.7,595.9L-77.8,593.7L-78.8,591.5L-79.9,589.2L-80.9,586.9L-82.0,584.6L-83.0,582.3L-84.0,579.9L-85.0,577.6L-86.0,575.2L-86.9,572.8L-87.9,570.4L-88.9,567.9L-89.8,565.5L-90.7,563.0L-91.6,560.5L-92.5,558.0L-93.4,555.4L-94.3,552.9L-95.2,550.3L-96.0,547.7L-96.8,545.1L-97.6,542.4L-98.4,539.7L-99.2,537.0L-100.0,534.3L-100.7,531.6L-101.5,528.8L-102.2,526.0L-102.9,523.2L-103.6,520.3L-104.3,517.4L-104.9,514.5L-105.5,511.6L-106.1,508.7L-106.7,505.7L-107.3,502.7L-107.9,499.6L-108.4,496.6L-108.9,493.5L-109.4,490.4L-109.9,487.2L-110.3,484.0L-110.7,480.8L-111.1,477.6L-111.5,474.3L-111.8,471.0L-112.2,467.7L-112.5,464.3L-112.7,460.9L-113.0,457.4L-113.2,454.0L-113.4,450.5L-113.5,446.9L-113.7,443.3L-113.8,439.7L-113.9,436.1L-113.9,432.4L-113.9,428.6L-113.9,424.9L-113.8,421.1L-113.7,417.2L-113.6,413.3L-113.4,409.4L-113.2,405.4L-113.0,401.4L-112.7,397.4L-112.3,393.3L-112.0,389.1L-111.6,384.9L-111.1,380.7L-110.6,376.4L-110.1,372.1L-109.5,367.7L-108.8,363.3L-108.2,358.8L-107.4,354.3L-106.6,349.8L-105.8,345.1L-104.9,340.5L-103.9,335.7L-102.9,331.0L-101.8,326.1L-100.7,321.2L-99.5,316.3L-98.2,311.3L-96.9,306.3L-95.5,301.1L-94.1,296.0L-92.5,290.7L-90.9,285.5L-89.2,280.1L-87.5,274.7L-85.6,269.2L-83.7,263.7L-81.7,258.1L-79.6,252.4L-77.4,246.7L-75.1,240.9L-72.7,235.0L-70.3,229.1L-67.7,223.1L-65.0,217.0L-62.2,210.9L-59.3,204.7L-56.3,198.4L-53.2,192.1L-50.0,185.7L-46.6,179.2L-43.1,172.6L-39.5,166.0L-35.8,159.3L-31.9,152.5L-27.8,145.7L-23.7,138.7L-19.3,131.7L-14.9,124.7L-10.2,117.5L-5.4,110.3L-0.5,103.0L4.7,95.7L10.0,88.3L15.5,80.8L21.2,73.2L27.0,65.5L33.1,57.8L39.4,50.1L45.9,42.2L52.6,34.3L59.5,26.4L66.7,18.4L74.0,10.3L81.7,2.2L89.5,-6.0L97.7,-14.2L106.0,-22.5L114.7,-30.8L123.6,-39.2L132.8,-47.6L142.2,-56.0L152.0,-64.4L162.1,-72.8L172.4,-81.3L183.1,-89.8L194.1,-98.2L205.4,-106.7L217.0,-115.1L228.9,-123.5L241.2,-131.9L253.9,-140.2L266.9,-148.5"/>
</g>
</g>
<defs><clipPath id="hclip"><path d="M1376.0,281.6L1376.9,274.7L1388.2,269.5L1391.6,264.3L1400.3,257.3L1405.5,258.2L1415.9,264.3L1426.3,272.1L1435.0,280.8L1443.6,288.6L1452.3,295.5L1461.0,304.2L1467.9,312.8L1474.9,321.5L1481.8,331.9L1488.7,342.3L1495.7,351.0L1503.5,361.4L1511.3,370.1L1518.2,380.5L1525.1,389.1L1532.1,399.5L1539.0,409.9L1546.0,420.3L1552.9,430.8L1561.6,442.9L1568.5,453.3L1577.2,465.4L1584.1,475.8L1591.0,486.2L1598.0,496.6L1604.9,508.8L1609.2,519.2L1599.7,520.1L1589.3,517.5L1578.9,514.0L1568.5,505.3L1559.8,496.6L1551.2,486.2L1542.5,477.6L1535.5,470.6L1526.9,463.7L1516.5,458.5L1506.1,451.6L1495.7,444.6L1485.3,437.7L1474.9,430.8L1464.5,425.5L1452.3,420.3L1440.2,416.9L1429.8,413.4L1419.4,408.2L1410.7,401.3L1402.0,392.6L1393.4,383.9L1387.3,375.3L1382.9,364.9L1377.7,354.5L1372.5,342.3L1367.3,331.9L1364.7,325.0L1367.3,314.6L1367.3,305.9L1376.0,297.2L1376.9,286.8Z"/></clipPath></defs>
<path d="M1376.0,281.6L1376.9,274.7L1388.2,269.5L1391.6,264.3L1400.3,257.3L1405.5,258.2L1415.9,264.3L1426.3,272.1L1435.0,280.8L1443.6,288.6L1452.3,295.5L1461.0,304.2L1467.9,312.8L1474.9,321.5L1481.8,331.9L1488.7,342.3L1495.7,351.0L1503.5,361.4L1511.3,370.1L1518.2,380.5L1525.1,389.1L1532.1,399.5L1539.0,409.9L1546.0,420.3L1552.9,430.8L1561.6,442.9L1568.5,453.3L1577.2,465.4L1584.1,475.8L1591.0,486.2L1598.0,496.6L1604.9,508.8L1609.2,519.2L1599.7,520.1L1589.3,517.5L1578.9,514.0L1568.5,505.3L1559.8,496.6L1551.2,486.2L1542.5,477.6L1535.5,470.6L1526.9,463.7L1516.5,458.5L1506.1,451.6L1495.7,444.6L1485.3,437.7L1474.9,430.8L1464.5,425.5L1452.3,420.3L1440.2,416.9L1429.8,413.4L1419.4,408.2L1410.7,401.3L1402.0,392.6L1393.4,383.9L1387.3,375.3L1382.9,364.9L1377.7,354.5L1372.5,342.3L1367.3,331.9L1364.7,325.0L1367.3,314.6L1367.3,305.9L1376.0,297.2L1376.9,286.8Z" fill="#fff"/>
<path d="M786.67,560L1146.67,200M803.33,560L1163.33,200M820.00,560L1180.00,200M836.67,560L1196.67,200M853.33,560L1213.33,200M870.00,560L1230.00,200M886.67,560L1246.67,200M903.33,560L1263.33,200M920.00,560L1280.00,200M936.67,560L1296.67,200M953.33,560L1313.33,200M970.00,560L1330.00,200M986.67,560L1346.67,200M1003.33,560L1363.33,200M1020.00,560L1380.00,200M1036.67,560L1396.67,200M1053.33,560L1413.33,200M1070.00,560L1430.00,200M1086.67,560L1446.67,200M1103.33,560L1463.33,200M1120.00,560L1480.00,200M1136.67,560L1496.67,200M1153.33,560L1513.33,200M1170.00,560L1530.00,200M1186.67,560L1546.67,200M1203.33,560L1563.33,200M1220.00,560L1580.00,200M1236.67,560L1596.67,200M1253.33,560L1613.33,200M1270.00,560L1630.00,200M1286.67,560L1646.67,200M1303.33,560L1663.33,200M1320.00,560L1680.00,200M1336.67,560L1696.67,200M1353.33,560L1713.33,200M1370.00,560L1730.00,200M1386.67,560L1746.67,200M1403.33,560L1763.33,200M1420.00,560L1780.00,200M1436.67,560L1796.67,200M1453.33,560L1813.33,200M1470.00,560L1830.00,200M1486.67,560L1846.67,200M1503.33,560L1863.33,200M1520.00,560L1880.00,200M1536.67,560L1896.67,200M1553.33,560L1913.33,200M1570.00,560L1930.00,200M1586.67,560L1946.67,200M1603.33,560L1963.33,200M1620.00,560L1980.00,200M1636.67,560L1996.67,200M1653.33,560L2013.33,200M1670.00,560L2030.00,200M1686.67,560L2046.67,200M1703.33,560L2063.33,200M1720.00,560L2080.00,200M1736.67,560L2096.67,200M1753.33,560L2113.33,200M1770.00,560L2130.00,200" stroke="#999999" stroke-width="5.9" fill="none" clip-path="url(#hclip)"/>
<g clip-path="url(#mapclip)" fill="none" stroke="#000" stroke-linejoin="round">
<path d="M243.0,350.4L250.1,348.5L255.6,344.1L263.3,343.4L272.3,342.2L280.8,341.6L289.4,338.5L298.5,335.3L307.1,332.2L316.1,329.0L324.7,328.7L332.9,331.3L340.2,331.3L347.8,331.5L356.5,332.8L365.6,332.7L375.2,329.9L385.0,331.1L394.3,329.0L403.6,329.7L413.0,332.6L422.7,333.1L432.1,335.3L441.2,337.7L448.9,337.6L457.3,340.3L464.6,338.2L473.6,336.3L482.5,335.3L490.5,339.5L500.1,340.9L507.7,345.4L515.6,348.2L524.5,351.6L532.9,355.5L541.6,357.3L550.2,358.8L558.2,363.0L566.6,367.3L575.0,370.7L583.4,373.1L590.1,376.6L598.5,378.2L592.7,376.2L585.2,375.3L593.1,377.9L602.2,383.0L610.4,385.4L619.5,388.9L627.5,391.6L635.6,395.5L643.6,399.6L653.0,404.5L660.8,408.1L669.9,411.7L678.3,416.7L686.1,420.7L694.5,426.2L702.7,431.2L711.3,435.8L720.7,440.2L728.7,445.0L736.5,450.9L744.3,457.0L753.6,463.1L761.7,468.6L769.8,474.2L779.5,478.2L786.9,486.2L795.4,491.6L804.3,497.4L812.1,503.9L818.7,509.8L824.1,516.6L831.8,523.2L837.3,529.1L844.9,535.2L854.3,540.9L862.5,546.7L866.9,553.3L872.7,558.0L877.6,564.4L882.3,572.3L887.7,579.5L896.3,584.1L905.0,589.4L912.9,594.6L919.8,600.0L925.2,606.6L932.7,611.5L938.2,617.3L943.7,625.6L948.4,633.2L953.3,642.5L959.5,650.3L966.0,657.7L972.4,664.7L978.5,672.8L985.9,682.9L992.8,689.6L998.5,695.5L1002.9,703.2L1008.6,710.6L1014.4,718.3L1021.2,725.7L1028.0,734.6L1033.8,743.4L1040.0,751.4L1046.4,761.0L1050.4,767.4L1053.2,774.9L1056.5,781.2L1062.2,788.7L1066.6,796.3L1068.7,806.4L1071.6,816.5L1076.2,824.6L1081.7,831.6L1089.2,841.7L1093.8,848.0L1096.8,854.3L1100.3,862.9L1101.8,871.9L1106.9,882.0L1109.4,892.1L1106.8,899.8L1104.4,907.2L1101.1,915.0L1096.8,922.4L1086.7,929.9L1077.5,931.3L1069.1,932.4L1064.7,925.8L1061.6,919.1L1059.6,910.6L1053.9,904.7L1046.9,900.2L1041.5,895.2L1036.3,889.6L1030.3,881.8L1022.7,874.8L1016.1,866.9L1010.2,861.1L1002.9,855.0L997.6,847.2L990.9,841.7L985.7,835.4L978.9,831.9L973.3,826.6L965.1,823.1L958.2,816.5L952.4,810.6L948.6,803.7L943.0,798.3L938.0,791.3L929.4,786.3L921.6,781.0L912.8,776.1L907.9,767.2L901.1,761.2L895.1,753.4L887.4,747.3L880.0,740.8L871.1,738.3L862.5,735.8L856.3,728.7L850.6,722.6L843.9,716.8L837.3,710.6L828.0,704.7L819.6,698.7L812.1,692.9L805.5,688.1L800.0,682.2L793.5,677.6L786.9,672.8L778.3,667.2L769.3,661.1L761.7,655.1L754.8,649.4L747.7,646.0L743.2,638.8L736.5,633.7L728.3,628.2L719.4,624.6L711.3,619.8L703.8,613.6L694.7,611.3L686.1,607.2L678.1,601.6L668.3,595.0L660.8,589.6L652.6,584.5L643.8,580.0L635.6,577.0L626.8,571.1L619.2,566.1L610.4,561.8L603.5,556.8L593.3,553.8L585.2,549.2L576.7,547.4L568.5,544.8L560.0,541.7L551.8,534.7L541.5,531.6L532.9,526.9L525.0,522.3L517.4,517.2L509.4,514.1L503.1,508.9L495.1,504.2L487.3,500.6L478.6,497.0L469.9,495.4L461.6,492.3L454.0,489.9L444.7,487.8L436.6,485.3L428.0,482.6L419.5,480.3L409.9,475.5L399.3,471.4L390.4,464.6L381.7,461.3L375.3,456.4L369.1,451.3L362.5,447.0L356.5,443.7L351.3,439.4L343.9,437.4L331.3,437.4L321.2,441.2L311.1,446.2L302.5,444.3L293.4,441.2L287.1,437.2L280.8,431.1L272.6,426.0L263.2,421.0L257.6,412.4L250.6,405.9L243.0,395.8L240.5,383.2L239.1,374.8L239.2,365.5L240.8,357.3Z" stroke-width="2.78" stroke-dasharray="2.78 4.59"/>
<path d="M238.1,421.7L246.0,411.4L253.9,404.8L263.4,402.1L272.4,399.5L282.5,397.7L292.2,397.5L302.8,395.5L310.7,389.2L320.0,391.6L331.9,392.2L346.4,389.1L358.3,389.1L371.5,387.1L386.0,387.7L400.0,389.1L406.9,390.3L422.0,391.3L437.1,395.8L446.6,396.6L457.3,398.3L470.3,400.4L482.5,403.4L494.6,406.7L507.7,409.7L520.2,413.3L532.9,416.0L543.1,418.8L553.5,420.1L563.2,423.5L576.5,427.7L588.4,432.4L574.4,427.2L560.0,423.2L570.4,425.8L579.7,429.9L590.3,433.3L602.2,441.2L615.5,445.9L624.6,451.1L634.6,455.1L646.1,457.8L655.8,462.3L667.6,468.8L681.0,476.1L690.9,479.7L699.1,486.2L708.7,488.7L721.7,496.3L733.9,503.9L747.2,510.7L759.2,519.0L771.1,525.7L781.8,534.1L794.8,541.8L807.1,549.2L818.9,558.8L829.7,568.2L840.2,575.8L849.9,583.3L860.3,591.5L872.6,599.7L880.2,606.4L888.2,612.7L895.3,619.8L903.8,625.8L910.2,633.7L918.0,640.0L926.8,651.6L938.2,660.2L948.0,668.8L958.3,677.8L968.0,687.8L978.5,698.0L988.4,710.6L998.5,720.7L1008.6,733.3L1018.7,743.4L1028.7,753.4L1038.8,763.5L1048.9,776.1L1056.5,788.7L1066.6,801.3L1070.6,809.3L1076.6,816.5L1084.2,831.6L1094.3,844.2L1104.4,854.3L1114.5,864.4L1122.0,877.0L1132.1,889.6L1139.7,904.7L1144.7,917.3L1152.3,927.4L1159.8,940.0L1164.9,952.6L1172.4,962.7L1177.8,972.3L1182.5,980.3L1185.4,993.3L1190.1,1005.5L1195.1,1018.2L1197.6,1033.3L1205.2,1043.4L1195.1,1043.4L1189.7,1035.1L1182.5,1028.2L1176.7,1020.3L1169.9,1013.1L1162.9,1005.9L1157.3,998.0L1151.7,990.0L1144.7,982.9L1132.1,970.3L1125.3,963.4L1119.5,955.1L1106.9,942.5L1094.3,929.9L1081.7,917.3L1071.6,907.2L1065.1,900.9L1061.5,892.1L1051.4,882.0L1040.2,872.0L1031.3,861.8L1021.3,852.5L1011.1,841.7L1002.8,832.4L993.4,824.0L984.6,815.1L975.8,806.4L965.9,797.5L955.6,788.7L947.2,779.2L938.0,771.1L930.2,765.1L922.9,758.5L912.9,748.4L903.9,741.3L896.3,732.7L887.7,725.7L879.7,719.5L871.7,713.0L862.5,708.1L854.2,702.2L845.8,696.3L837.3,690.4L829.8,682.3L819.8,678.1L812.1,670.3L802.8,665.1L796.1,657.7L786.9,652.6L778.8,646.8L769.7,641.0L761.7,636.2L753.5,631.3L745.0,624.7L736.5,619.8L723.8,612.2L711.3,606.0L699.0,599.3L686.1,590.8L674.0,582.6L660.8,575.7L648.3,571.1L635.6,564.4L623.4,556.0L610.4,549.2L597.6,543.2L585.2,537.9L572.9,534.1L560.0,529.1L548.1,516.8L535.7,513.2L522.9,508.0L510.5,504.5L497.6,500.4L485.2,496.7L472.4,492.9L459.6,489.1L447.2,485.3L434.3,480.3L422.0,477.7L409.4,474.5L396.8,471.4L383.7,469.2L371.6,466.4L359.6,460.9L346.4,457.6L334.1,453.9L321.2,451.3L306.8,444.1L293.6,438.8L277.7,438.8L264.5,436.2L253.9,432.2L246.0,428.3Z" stroke-width="5.56" stroke-dasharray="5.56 9.17"/>
<path d="M198.5,395.3L203.1,390.3L203.8,383.2L207.7,376.8L212.2,378.3L219.6,378.1L226.2,378.9L232.8,375.5L236.1,371.9L239.6,369.6L242.1,363.6L244.9,358.3L248.7,353.0L254.2,350.5L259.2,345.1L265.3,344.6L272.4,344.4L276.6,347.7L280.4,350.4L283.1,345.0L287.0,342.4L292.2,345.1L298.9,343.3L304.1,339.8L309.4,339.0L314.7,335.8L319.4,334.2L325.3,332.5L331.9,337.2L338.5,331.9L343.5,333.7L347.7,335.8L350.9,331.5L355.6,327.9L360.2,329.6L364.9,333.2L372.8,333.9L378.1,327.9L383.2,325.8L388.6,325.3L394.3,323.3L400.0,324.0L394.3,320.2L400.4,324.1L406.9,323.9L411.4,324.1L418.1,324.0L422.0,325.2L427.9,325.9L434.6,326.5L442.2,325.2L447.2,323.9L452.5,328.7L457.3,332.8L462.0,335.5L467.4,337.8L472.5,337.3L477.9,339.3L482.5,340.3L488.4,339.6L493.2,337.4L498.1,334.5L502.7,334.0L508.6,337.7L515.3,340.3L521.0,342.2L527.7,344.4L532.9,344.1L538.4,344.3L543.0,339.1L540.6,343.4L535.5,345.4L542.2,346.9L548.1,347.9L553.5,349.7L562.1,351.0L568.2,352.9L573.6,355.9L578.3,357.7L583.4,360.5L585.2,360.2L590.4,363.0L595.3,365.5L600.9,367.1L605.9,370.7L610.4,372.8L614.7,377.8L620.5,380.3L625.9,381.4L631.8,384.0L637.7,384.7L643.2,386.6L646.7,381.4L650.8,377.8L655.4,383.1L658.3,387.9L661.5,392.7L666.1,395.6L668.4,400.5L676.0,398.0L680.0,403.2L686.1,408.1L690.5,412.1L695.8,415.4L698.7,420.7L703.9,418.0L708.7,413.1L711.8,419.0L716.3,425.7L720.5,427.2L726.1,430.8L731.0,431.2L736.5,433.3L743.5,437.0L749.1,437.1L749.8,442.8L746.6,445.9L751.8,449.7L758.8,448.5L763.3,451.2L769.2,453.4L774.9,456.3L777.2,461.5L781.6,464.8L786.9,468.6L791.4,473.1L797.1,475.9L801.8,481.0L806.7,484.3L812.1,487.5L817.5,486.2L822.2,485.0L824.7,490.2L826.9,492.9L829.3,500.9L832.3,503.9L836.3,508.6L841.2,512.5L845.0,516.6L849.9,521.5L855.9,523.2L862.5,526.6L862.5,534.1L867.3,535.2L872.4,536.4L877.6,536.6L876.5,543.1L877.6,549.2L879.5,554.3L887.4,556.6L888.8,562.8L895.3,564.4L899.7,568.4L903.2,573.5L908.2,577.0L914.6,579.5L918.0,584.5L925.5,583.3L926.4,589.5L928.1,593.6L928.7,599.6L930.6,604.7L936.8,606.3L943.2,607.2L941.8,613.8L943.2,619.8L948.3,623.5L953.3,622.4L955.2,627.0L959.1,633.0L962.2,638.5L965.9,642.5L972.9,646.1L978.5,650.1L980.5,657.4L980.8,662.7L986.6,664.1L993.1,667.4L998.5,672.8L1002.7,678.3L1003.5,682.0L1006.1,687.9L1011.1,690.4L1015.1,695.1L1021.2,698.0L1016.1,703.0L1020.2,707.9L1021.2,713.1L1024.2,718.4L1027.4,724.3L1031.1,729.6L1036.3,733.3L1036.2,739.7L1041.5,746.1L1041.3,750.9L1047.9,754.1L1053.9,758.5L1056.6,764.4L1057.5,771.3L1059.2,778.7L1061.5,783.7L1066.0,786.9L1071.6,791.3L1076.4,796.5L1079.2,803.9L1083.7,809.2L1084.7,814.8L1086.4,820.1L1089.2,826.6L1093.7,830.4L1095.2,835.2L1099.3,839.2L1098.9,844.8L1103.5,850.2L1108.5,856.2L1106.9,861.8L1108.8,867.3L1109.8,874.9L1114.5,879.5L1115.1,885.5L1117.0,892.1L1110.7,894.1L1108.2,902.2L1106.3,906.3L1103.2,911.7L1101.8,917.3L1099.6,924.3L1098.1,929.9L1095.8,936.3L1094.3,942.5L1092.3,938.9L1089.2,935.0L1081.7,937.5L1076.7,931.1L1071.6,927.4L1068.6,922.2L1064.4,920.1L1061.5,914.8L1055.3,915.0L1051.4,912.3L1047.0,905.4L1043.9,899.7L1039.3,897.2L1035.1,892.5L1031.3,889.6L1028.7,884.4L1026.2,879.4L1023.7,874.5L1017.1,874.5L1011.1,871.9L1008.4,868.3L1006.1,864.4L1003.0,859.9L998.5,855.7L994.8,850.5L990.9,846.7L985.0,844.1L982.9,838.4L975.8,836.6L971.5,832.6L968.2,826.6L963.2,821.0L960.1,816.8L955.6,811.4L950.4,807.6L944.4,803.4L938.0,801.3L934.3,796.5L929.7,790.6L923.4,789.4L917.8,786.2L913.6,780.8L910.3,773.6L904.7,771.4L899.1,768.5L892.6,766.1L888.5,760.9L883.1,757.7L880.0,753.4L874.9,748.7L871.2,743.8L866.1,741.1L862.5,735.8L858.6,731.9L852.4,733.5L847.4,728.2L843.5,725.2L844.9,718.2L838.9,716.5L834.4,714.8L829.7,712.6L824.7,710.6L824.7,703.0L819.1,699.7L814.5,695.9L808.3,691.1L802.0,688.8L797.0,685.4L792.2,682.7L788.1,678.2L783.3,675.5L778.0,671.4L774.3,667.7L767.6,668.2L762.0,664.5L756.6,662.7L757.3,658.1L756.6,650.1L751.7,646.8L746.8,645.1L741.5,642.5L736.3,639.2L730.3,635.3L723.9,635.0L721.3,629.9L718.1,624.8L709.8,625.2L706.7,619.6L701.2,617.3L695.0,617.5L689.7,613.3L683.5,612.3L681.0,604.7L674.4,603.2L667.6,602.5L660.8,599.7L657.6,594.7L658.3,590.8L652.0,589.2L645.7,587.6L640.7,584.5L634.3,584.6L629.4,580.4L625.0,580.3L620.5,577.0L619.5,571.1L618.0,566.9L611.1,565.7L604.4,566.1L597.8,561.8L591.6,557.7L584.8,554.8L580.2,551.8L579.6,545.8L575.1,541.7L570.7,543.9L564.2,540.8L560.0,539.2L556.5,537.6L549.4,536.0L545.5,534.5L541.8,531.3L538.0,526.9L531.8,522.8L524.2,524.0L517.8,521.8L512.8,516.8L507.1,515.2L500.8,511.9L495.1,511.8L490.5,508.8L485.6,506.5L479.6,505.0L474.3,502.4L469.9,501.7L464.8,498.0L457.3,494.1L450.1,494.8L444.4,493.2L437.7,493.2L432.1,491.6L426.1,489.7L421.2,487.9L417.7,485.0L412.9,482.5L406.9,481.5L399.7,478.4L394.3,473.9L388.9,474.1L383.5,473.2L377.0,470.8L371.6,471.4L366.6,469.0L360.8,465.4L356.5,463.9L350.8,461.1L344.2,459.2L336.4,458.1L331.3,456.3L326.3,454.4L321.2,451.3L316.4,452.5L311.1,448.7L309.2,443.2L306.1,437.4L301.4,438.7L295.9,442.6L290.9,443.7L283.4,441.2L279.3,434.6L273.3,431.1L266.6,433.6L263.2,437.4L257.8,434.5L250.6,433.6L245.2,430.4L240.0,427.6L234.9,426.0L230.4,421.0L230.2,423.0L225.9,422.1L218.9,423.7L213.2,424.1L207.7,421.7L209.5,416.7L213.0,412.4L209.4,407.2L206.4,401.9L212.5,399.9L218.9,398.5L224.9,397.9L231.6,397.8L236.8,393.9L237.5,390.0L238.1,384.7L232.0,386.4L225.9,391.0L219.6,392.6L213.0,390.0L207.5,391.8L203.0,391.8Z" stroke-width="2.78" stroke-linejoin="miter"/>
<path d="M235.5,420.4L240.4,415.4L246.0,411.1L253.9,404.5L263.4,399.6L272.4,399.2L281.7,396.5L292.2,397.3L302.8,395.3L310.7,388.7L320.0,391.3L331.9,392.0L338.6,390.9L346.4,388.7L358.3,388.7L364.3,386.7L371.5,386.7L379.9,387.6L386.0,387.3L392.4,388.0L400.0,388.7L401.8,389.5L409.2,389.4L417.0,388.2L425.1,387.5L432.1,387.0L439.7,386.9L447.2,388.2L454.9,389.3L462.4,392.0L469.4,394.0L477.5,395.8L485.0,396.1L492.6,397.1L498.2,395.3L505.2,394.5L510.3,400.8L516.8,400.7L522.9,403.4L531.5,408.8L538.0,413.4L544.1,410.4L550.6,412.2L557.4,414.6L563.2,416.0L570.2,420.0L578.3,423.5L586.2,424.2L593.4,424.8L597.8,424.5L605.4,433.3L612.6,435.6L620.3,436.9L625.5,440.8L634.1,442.9L643.2,442.1L648.8,446.4L655.4,449.0L660.8,453.4L666.0,458.4L672.8,461.5L678.5,466.1L685.7,468.3L692.3,468.9L698.7,471.1L704.4,473.5L712.2,475.7L718.8,478.7L724.9,483.8L731.9,487.2L736.5,493.8L743.8,497.9L751.6,503.9L761.7,505.1L766.6,511.2L772.5,515.9L776.8,521.5L785.8,524.3L794.5,527.8L801.7,533.0L808.0,536.8L812.1,544.2L817.6,548.5L825.6,552.4L832.3,556.8L838.1,562.9L843.8,566.1L849.9,571.9L857.5,580.8L866.3,579.5L870.1,587.1L875.7,592.7L882.3,595.2L887.7,599.7L893.5,606.0L899.8,612.1L905.4,617.3L914.3,621.2L920.2,627.7L928.1,632.4L931.5,638.2L937.4,645.1L943.2,650.1L949.2,654.5L954.4,660.9L957.2,666.7L963.4,670.3L968.8,675.9L973.4,682.9L980.8,685.4L986.0,691.3L990.9,698.0L998.0,703.0L1004.4,709.4L1011.1,715.6L1017.6,721.1L1023.7,728.2L1025.4,735.0L1033.1,739.6L1036.3,745.9L1043.4,749.9L1049.9,755.3L1056.5,758.5L1057.3,765.7L1058.6,773.0L1061.5,781.2L1067.6,783.5L1074.1,786.2L1077.7,793.7L1079.2,801.3L1089.2,806.4L1092.1,813.5L1095.8,819.7L1096.8,826.6L1104.4,827.8L1110.3,835.1L1117.0,841.7L1119.0,847.7L1118.2,854.3L1123.9,856.2L1129.6,861.8L1127.7,870.4L1132.1,877.0L1137.1,879.5L1139.3,886.5L1144.7,892.1L1148.5,899.5L1152.6,905.9L1157.3,912.3L1161.9,917.6L1167.4,924.9L1169.4,934.1L1172.4,942.5L1175.2,950.5L1180.0,957.6L1183.8,962.7L1190.1,965.2L1193.9,972.8L1195.1,980.3L1195.6,988.5L1195.1,998.0L1200.2,1003.0L1200.2,1013.1L1210.3,1015.6L1210.1,1022.3L1210.3,1028.2L1208.5,1024.2L1202.8,1028.5L1210.0,1032.9L1207.1,1038.6L1214.3,1040.1L1211.4,1045.8L1215.8,1048.7L1212.9,1054.5L1205.7,1057.4L1202.8,1053.0L1198.5,1054.5L1195.6,1048.7L1191.3,1047.3L1188.4,1040.1L1184.1,1037.2L1185.5,1030.0L1178.3,1022.8L1172.5,1015.6L1165.3,1009.8L1162.4,1005.5L1160.0,998.9L1157.3,992.9L1155.1,984.1L1149.0,980.9L1142.2,975.3L1137.2,968.9L1132.1,964.1L1127.1,957.6L1122.4,952.4L1116.1,947.6L1111.9,942.5L1107.8,935.7L1101.3,930.9L1096.8,924.9L1092.1,919.0L1085.8,915.9L1081.7,909.7L1076.7,904.2L1072.0,898.7L1066.6,894.6L1061.0,890.6L1055.0,884.8L1051.4,879.5L1046.3,874.1L1042.2,868.8L1036.3,864.4L1028.2,859.1L1021.2,851.8L1015.5,846.3L1012.1,841.5L1006.1,836.6L1001.2,830.9L995.3,827.3L990.9,821.5L984.5,817.7L980.8,811.4L976.1,807.1L970.2,801.8L965.7,796.3L960.2,791.5L955.6,786.2L948.7,780.9L940.5,776.1L934.5,769.2L930.4,763.5L920.3,758.5L915.7,753.7L910.8,748.8L905.2,743.4L900.8,737.4L895.1,733.3L887.9,725.9L880.0,720.7L871.0,716.3L862.5,713.1L856.6,708.1L849.5,704.0L841.3,699.4L837.3,692.9L830.1,690.0L824.8,685.8L818.5,679.9L812.1,675.3L805.5,670.9L799.0,666.9L793.6,661.7L786.9,657.6L780.2,654.0L774.2,650.0L766.7,648.3L761.7,642.5L755.6,637.8L748.5,632.9L742.5,629.0L736.5,624.9L730.1,622.4L724.1,618.6L718.0,614.7L711.3,611.0L704.3,608.3L696.1,604.7L690.2,601.1L686.1,594.6L679.6,592.6L673.3,588.9L667.0,583.9L660.8,582.0L655.0,578.3L649.6,574.7L640.9,574.3L635.6,569.4L629.4,566.3L623.8,563.4L615.7,560.7L610.4,556.8L602.7,552.6L594.8,548.5L585.2,546.7L578.5,544.0L572.3,541.6L566.4,537.5L560.0,534.1L552.9,529.6L545.5,526.9L537.1,524.7L528.8,520.0L520.3,516.8L511.4,514.1L504.1,509.4L495.1,506.7L487.7,503.7L477.6,503.2L469.9,499.2L461.8,497.6L453.4,494.5L444.7,491.6L437.1,488.2L426.3,484.6L419.5,481.5L412.0,479.2L402.6,475.8L394.3,473.9L386.8,471.7L378.4,472.8L371.6,471.4L365.2,467.4L356.5,463.9L348.4,460.7L340.2,457.8L331.3,456.3L322.8,454.7L314.5,454.0L306.1,453.8L294.9,453.4L285.6,450.7L279.0,451.1L272.4,450.7L265.9,447.4L259.2,445.5L250.0,438.8L242.1,430.9L240.0,424.6Z" stroke-width="5.56"/>
<path d="M1185.5,1031.4L1191.3,1037.2L1188.4,1041.5L1195.6,1044.4L1192.7,1048.7" stroke-width="5.56" stroke-linecap="butt"/>
<path d="M1197.0,1030.0L1202.8,1035.8L1199.9,1041.5L1207.1,1043.0L1204.2,1050.2L1210.0,1051.6" stroke-width="5.56" stroke-linecap="butt"/>
<path d="M1212.9,1027.1L1211.4,1034.3L1215.0,1038.6L1212.1,1044.4L1216.5,1047.3" stroke-width="5.56" stroke-linecap="butt"/>
<path d="M1174.0,1021.3L1178.3,1025.7L1176.1,1028.5" stroke-width="5.56" stroke-linecap="butt"/>
<path d="M1205.7,1025.7L1208.5,1030.7L1205.7,1034.3" stroke-width="5.56" stroke-linecap="butt"/>
<path d="M1048.6,903.2L1054.4,907.5L1053.0,911.9L1055.7,914.8L1060.2,914.7L1058.7,920.5L1064.5,923.4L1067.4,929.1L1073.1,932.0" stroke-width="4.5" stroke-linecap="butt"/>
<path d="M1087.5,940.7L1089.1,944.6L1093.3,946.4L1091.9,952.2L1099.1,953.6L1101.9,959.4L1107.7,960.8L1112.0,966.6" stroke-width="4.5" stroke-linecap="butt"/>
</g>
<g clip-path="url(#mapclip)" fill="none" stroke-linejoin="miter">
<path d="M1080.5,883.0L1082.4,883.7L1084.2,884.4L1086.0,885.1L1087.8,885.9L1089.5,886.7L1091.2,887.6L1092.8,888.5L1094.3,889.5L1095.8,890.5L1097.2,891.5L1098.6,892.6L1100.0,893.7L1101.3,894.8L1102.6,896.0L1103.9,897.1L1105.2,898.3L1106.4,899.5L1107.6,900.7L1108.8,902.0L1110.0,903.2L1111.2,904.5L1112.4,905.7L1113.6,907.0L1114.7,908.2L1115.9,909.5L1117.0,910.8L1118.2,912.1L1119.3,913.3L1120.5,914.6L1121.6,915.9L1122.7,917.2L1123.8,918.5L1124.9,919.8L1126.0,921.1L1127.1,922.4L1128.2,923.8L1129.3,925.1L1130.4,926.4L1131.5,927.7L1132.6,929.1L1133.7,930.4L1134.7,931.7L1135.8,933.1L1136.9,934.4L1137.9,935.8L1139.0,937.1L1140.0,938.5L1141.0,939.9L1142.1,941.2L1143.1,942.6L1144.1,944.0L1145.1,945.4L1146.1,946.8L1147.1,948.2L1148.1,949.6L1149.1,951.0L1150.1,952.4L1151.0,953.8L1152.0,955.3L1152.9,956.7L1153.8,958.2L1154.8,959.6L1155.6,961.1L1156.5,962.6L1157.4,964.1L1158.2,965.7L1159.0,967.2L1159.8,968.8L1160.5,970.4L1161.3,972.0L1161.9,973.7L1162.6,975.3L1163.2,977.1L1163.8,978.8L1164.4,980.5L1164.9,982.3L1165.4,984.1L1165.9,985.9L1166.3,987.8L1166.8,989.6L1165.4,988.5L1164.1,987.4L1162.7,986.3L1161.4,985.2L1160.1,984.0L1158.8,982.9L1157.5,981.7L1156.3,980.5L1155.0,979.3L1153.8,978.0L1152.6,976.8L1151.5,975.5L1150.4,974.2L1149.2,972.9L1148.1,971.6L1147.0,970.3L1146.0,969.0L1144.9,967.6L1143.8,966.3L1142.8,964.9L1141.7,963.6L1140.7,962.2L1139.6,960.9L1138.6,959.5L1137.6,958.1L1136.5,956.8L1135.5,955.4L1134.4,954.0L1133.4,952.7L1132.3,951.3L1131.3,950.0L1130.2,948.6L1129.2,947.3L1128.1,945.9L1127.1,944.6L1126.0,943.2L1124.9,941.9L1123.9,940.5L1122.8,939.2L1121.7,937.9L1120.6,936.5L1119.5,935.2L1118.5,933.9L1117.4,932.6L1116.3,931.3L1115.2,929.9L1114.0,928.6L1112.9,927.3L1111.8,926.0L1110.7,924.7L1109.6,923.4L1108.5,922.1L1107.3,920.8L1106.2,919.5L1105.1,918.3L1103.9,917.0L1102.8,915.7L1101.6,914.4L1100.5,913.1L1099.4,911.8L1098.2,910.6L1097.1,909.3L1096.0,908.0L1094.8,906.7L1093.7,905.4L1092.6,904.1L1091.5,902.8L1090.4,901.4L1089.4,900.1L1088.4,898.7L1087.4,897.3L1086.5,895.8L1085.6,894.3L1084.7,892.8L1083.9,891.3L1083.2,889.7L1082.5,888.0L1081.8,886.4L1081.1,884.7Z" stroke="#33ccff" stroke-width="2.4"/>
<path d="M1035.8,832.0L1037.8,832.9L1039.7,833.8L1041.6,834.7L1043.5,835.6L1045.3,836.6L1047.1,837.6L1048.8,838.7L1050.5,839.8L1052.1,841.0L1053.7,842.2L1055.3,843.4L1056.8,844.7L1058.2,846.0L1059.7,847.3L1061.1,848.6L1062.5,850.0L1063.9,851.3L1065.2,852.7L1066.6,854.1L1068.0,855.5L1069.3,856.9L1070.6,858.3L1071.9,859.7L1073.3,861.1L1074.6,862.5L1075.9,864.0L1077.2,865.4L1078.5,866.8L1079.7,868.3L1081.0,869.7L1082.3,871.2L1083.6,872.6L1084.8,874.1L1086.1,875.5L1087.3,877.0L1088.6,878.5L1089.8,879.9L1091.1,881.4L1092.3,882.9L1093.6,884.4L1094.8,885.9L1096.0,887.4L1097.2,888.9L1098.4,890.4L1099.7,891.9L1100.9,893.4L1102.1,894.9L1103.2,896.4L1104.4,897.9L1105.6,899.5L1106.8,901.0L1108.0,902.5L1109.1,904.1L1110.3,905.6L1111.4,907.2L1112.6,908.7L1113.7,910.3L1114.8,911.9L1115.9,913.5L1117.0,915.1L1118.1,916.7L1119.2,918.3L1120.2,919.9L1121.3,921.6L1122.3,923.2L1123.3,924.9L1124.2,926.6L1125.2,928.3L1126.1,930.1L1127.0,931.9L1127.9,933.6L1128.7,935.5L1129.5,937.3L1130.3,939.2L1131.0,941.1L1131.7,943.0L1132.4,944.9L1133.1,946.9L1133.8,948.8L1134.4,950.8L1132.9,949.5L1131.4,948.2L1130.0,946.9L1128.5,945.7L1127.1,944.3L1125.7,943.0L1124.2,941.7L1122.9,940.3L1121.5,938.9L1120.2,937.5L1118.9,936.1L1117.6,934.7L1116.3,933.2L1115.0,931.8L1113.8,930.3L1112.5,928.8L1111.3,927.3L1110.1,925.8L1108.9,924.3L1107.7,922.8L1106.5,921.3L1105.3,919.8L1104.1,918.3L1102.9,916.8L1101.7,915.2L1100.5,913.7L1099.3,912.2L1098.1,910.7L1096.9,909.2L1095.7,907.7L1094.5,906.1L1093.3,904.6L1092.1,903.1L1090.9,901.6L1089.7,900.1L1088.5,898.6L1087.3,897.1L1086.0,895.6L1084.8,894.2L1083.6,892.7L1082.3,891.2L1081.1,889.7L1079.8,888.2L1078.6,886.8L1077.3,885.3L1076.1,883.8L1074.8,882.4L1073.6,880.9L1072.3,879.5L1071.0,878.0L1069.7,876.6L1068.5,875.1L1067.2,873.7L1065.9,872.2L1064.6,870.8L1063.3,869.3L1062.0,867.9L1060.7,866.5L1059.4,865.0L1058.1,863.6L1056.8,862.2L1055.6,860.7L1054.3,859.3L1053.0,857.9L1051.7,856.4L1050.4,855.0L1049.2,853.5L1048.0,852.0L1046.7,850.5L1045.6,849.0L1044.4,847.4L1043.3,845.8L1042.2,844.2L1041.2,842.6L1040.2,840.9L1039.3,839.2L1038.4,837.4L1037.5,835.6L1036.6,833.8Z" stroke="#6699ff" stroke-width="2.6"/>
<path d="M1025.0,818.4L1027.2,819.2L1029.4,820.0L1031.6,820.8L1033.7,821.7L1035.7,822.6L1037.7,823.6L1039.6,824.6L1041.5,825.7L1043.3,826.9L1045.0,828.1L1046.7,829.3L1048.3,830.6L1050.0,831.9L1051.5,833.2L1053.1,834.5L1054.6,835.9L1056.1,837.3L1057.6,838.7L1059.1,840.1L1060.5,841.5L1062.0,843.0L1063.4,844.4L1064.9,845.9L1066.3,847.3L1067.7,848.8L1069.1,850.3L1070.5,851.8L1071.9,853.3L1073.3,854.7L1074.7,856.2L1076.0,857.7L1077.4,859.2L1078.8,860.8L1080.1,862.3L1081.5,863.8L1082.8,865.3L1084.2,866.9L1085.5,868.4L1086.8,869.9L1088.2,871.5L1089.5,873.0L1090.8,874.6L1092.1,876.1L1093.4,877.7L1094.7,879.3L1096.0,880.9L1097.2,882.4L1098.5,884.0L1099.8,885.6L1101.1,887.2L1102.3,888.8L1103.6,890.4L1104.8,892.1L1106.0,893.7L1107.2,895.3L1108.4,897.0L1109.6,898.6L1110.8,900.3L1112.0,902.0L1113.2,903.6L1114.3,905.3L1115.4,907.1L1116.5,908.8L1117.6,910.5L1118.7,912.3L1119.7,914.1L1120.7,915.9L1121.7,917.8L1122.6,919.6L1123.6,921.5L1124.4,923.4L1125.3,925.4L1126.1,927.4L1126.8,929.4L1127.6,931.5L1128.3,933.6L1128.9,935.7L1129.6,937.8L1130.2,939.9L1130.8,942.1L1129.2,940.8L1127.6,939.5L1125.9,938.2L1124.3,936.9L1122.8,935.6L1121.2,934.2L1119.7,932.9L1118.2,931.5L1116.7,930.1L1115.2,928.6L1113.8,927.2L1112.4,925.7L1111.0,924.2L1109.7,922.7L1108.3,921.1L1107.0,919.6L1105.7,918.1L1104.4,916.5L1103.1,914.9L1101.8,913.3L1100.5,911.8L1099.3,910.2L1098.0,908.6L1096.7,907.0L1095.4,905.4L1094.1,903.8L1092.9,902.2L1091.6,900.7L1090.3,899.1L1089.0,897.5L1087.7,895.9L1086.5,894.3L1085.2,892.8L1083.9,891.2L1082.6,889.6L1081.3,888.1L1080.0,886.5L1078.6,885.0L1077.3,883.4L1076.0,881.9L1074.7,880.3L1073.3,878.8L1072.0,877.3L1070.7,875.7L1069.3,874.2L1068.0,872.7L1066.6,871.2L1065.3,869.6L1063.9,868.1L1062.5,866.6L1061.1,865.1L1059.8,863.6L1058.4,862.1L1057.0,860.6L1055.6,859.2L1054.2,857.7L1052.8,856.2L1051.4,854.7L1050.0,853.2L1048.6,851.7L1047.2,850.3L1045.8,848.8L1044.4,847.3L1043.1,845.8L1041.7,844.3L1040.3,842.8L1039.0,841.2L1037.7,839.7L1036.4,838.1L1035.1,836.5L1033.9,834.9L1032.7,833.2L1031.6,831.5L1030.5,829.8L1029.5,828.0L1028.5,826.1L1027.6,824.2L1026.7,822.3L1025.8,820.4Z" stroke="#9966ff" stroke-width="2.6"/>
<path d="M1000.5,793.2L1003.0,793.8L1005.5,794.3L1008.0,795.0L1010.3,795.7L1012.6,796.4L1014.9,797.2L1017.0,798.1L1019.1,799.1L1021.0,800.2L1022.9,801.3L1024.8,802.4L1026.6,803.6L1028.3,804.9L1030.0,806.2L1031.7,807.5L1033.4,808.8L1035.0,810.2L1036.6,811.6L1038.1,813.0L1039.7,814.4L1041.2,815.8L1042.8,817.2L1044.3,818.7L1045.8,820.2L1047.3,821.6L1048.8,823.1L1050.3,824.6L1051.8,826.1L1053.2,827.6L1054.7,829.1L1056.1,830.6L1057.6,832.1L1059.0,833.6L1060.5,835.2L1061.9,836.7L1063.3,838.2L1064.7,839.8L1066.1,841.3L1067.5,842.9L1068.9,844.4L1070.3,846.0L1071.7,847.6L1073.1,849.2L1074.4,850.8L1075.8,852.4L1077.2,854.0L1078.5,855.6L1079.8,857.2L1081.2,858.8L1082.5,860.4L1083.8,862.1L1085.1,863.7L1086.4,865.4L1087.7,867.0L1088.9,868.7L1090.2,870.4L1091.4,872.1L1092.7,873.8L1093.9,875.5L1095.1,877.3L1096.3,879.0L1097.4,880.8L1098.5,882.6L1099.6,884.4L1100.7,886.3L1101.8,888.1L1102.8,890.1L1103.7,892.0L1104.7,894.0L1105.5,896.0L1106.4,898.1L1107.2,900.2L1107.9,902.3L1108.6,904.5L1109.3,906.7L1109.9,909.0L1110.4,911.3L1111.0,913.6L1111.5,915.9L1112.0,918.3L1110.2,917.1L1108.4,915.9L1106.6,914.7L1104.8,913.5L1103.1,912.2L1101.4,911.0L1099.7,909.6L1098.0,908.3L1096.4,906.9L1094.8,905.5L1093.3,904.1L1091.8,902.7L1090.3,901.2L1088.8,899.7L1087.4,898.1L1086.0,896.6L1084.6,895.0L1083.2,893.5L1081.8,891.9L1080.5,890.3L1079.1,888.7L1077.7,887.1L1076.4,885.5L1075.1,883.9L1073.7,882.3L1072.4,880.7L1071.0,879.1L1069.7,877.4L1068.3,875.8L1067.0,874.2L1065.6,872.6L1064.3,871.0L1062.9,869.4L1061.6,867.9L1060.2,866.3L1058.8,864.7L1057.4,863.1L1056.1,861.5L1054.7,860.0L1053.3,858.4L1051.9,856.8L1050.5,855.3L1049.1,853.7L1047.6,852.2L1046.2,850.7L1044.8,849.1L1043.4,847.6L1041.9,846.1L1040.5,844.6L1039.0,843.0L1037.6,841.5L1036.1,840.0L1034.7,838.5L1033.2,837.0L1031.7,835.5L1030.2,834.0L1028.8,832.5L1027.3,831.1L1025.8,829.6L1024.3,828.1L1022.9,826.6L1021.4,825.1L1019.9,823.6L1018.5,822.1L1017.0,820.6L1015.6,819.0L1014.2,817.5L1012.8,815.9L1011.5,814.3L1010.2,812.6L1008.9,810.9L1007.7,809.2L1006.6,807.4L1005.6,805.5L1004.6,803.6L1003.7,801.6L1002.8,799.6L1002.0,797.5L1001.2,795.3Z" stroke="#cc33ff" stroke-width="2.6"/>
<path d="M1053.0,847.9L1055.3,848.6L1057.7,849.4L1059.9,850.2L1062.2,851.0L1064.3,851.9L1066.4,852.9L1068.3,853.9L1070.3,855.0L1072.1,856.1L1073.9,857.3L1075.6,858.6L1077.2,859.9L1078.8,861.2L1080.4,862.5L1082.0,863.9L1083.5,865.3L1085.0,866.7L1086.4,868.2L1087.9,869.6L1089.3,871.1L1090.7,872.5L1092.2,874.0L1093.6,875.5L1094.9,877.0L1096.3,878.5L1097.7,880.1L1099.1,881.6L1100.4,883.1L1101.8,884.6L1103.1,886.2L1104.4,887.7L1105.8,889.3L1107.1,890.8L1108.4,892.4L1109.7,893.9L1111.0,895.5L1112.3,897.1L1113.6,898.7L1114.9,900.3L1116.2,901.9L1117.5,903.4L1118.7,905.0L1120.0,906.7L1121.2,908.3L1122.5,909.9L1123.7,911.5L1124.9,913.1L1126.2,914.8L1127.4,916.4L1128.6,918.1L1129.8,919.7L1131.0,921.4L1132.2,923.0L1133.3,924.7L1134.5,926.4L1135.6,928.1L1136.8,929.8L1137.9,931.5L1139.0,933.3L1140.1,935.0L1141.1,936.8L1142.2,938.5L1143.2,940.3L1144.2,942.2L1145.2,944.0L1146.1,945.8L1147.0,947.7L1147.9,949.7L1148.7,951.6L1149.5,953.6L1150.3,955.6L1151.0,957.6L1151.6,959.7L1152.3,961.9L1152.8,964.0L1153.4,966.2L1153.9,968.4L1154.3,970.7L1154.8,972.9L1155.2,975.2L1153.5,973.9L1151.9,972.6L1150.2,971.3L1148.6,970.0L1147.0,968.7L1145.4,967.4L1143.9,966.0L1142.3,964.6L1140.9,963.2L1139.4,961.7L1138.0,960.2L1136.6,958.7L1135.2,957.2L1133.9,955.7L1132.6,954.1L1131.3,952.5L1130.0,950.9L1128.8,949.3L1127.5,947.7L1126.2,946.1L1125.0,944.5L1123.8,942.9L1122.5,941.2L1121.3,939.6L1120.1,938.0L1118.9,936.3L1117.6,934.7L1116.4,933.1L1115.2,931.4L1113.9,929.8L1112.7,928.2L1111.5,926.6L1110.2,925.0L1109.0,923.3L1107.7,921.7L1106.5,920.1L1105.2,918.5L1103.9,916.9L1102.7,915.3L1101.4,913.7L1100.1,912.1L1098.8,910.6L1097.5,909.0L1096.2,907.4L1094.9,905.8L1093.6,904.3L1092.3,902.7L1091.0,901.2L1089.6,899.6L1088.3,898.1L1087.0,896.5L1085.6,895.0L1084.3,893.4L1082.9,891.9L1081.6,890.4L1080.2,888.8L1078.9,887.3L1077.5,885.8L1076.2,884.3L1074.8,882.7L1073.4,881.2L1072.1,879.7L1070.7,878.1L1069.4,876.6L1068.1,875.1L1066.8,873.5L1065.5,871.9L1064.2,870.3L1063.0,868.7L1061.8,867.0L1060.6,865.3L1059.6,863.6L1058.5,861.8L1057.6,859.9L1056.7,858.0L1055.8,856.1L1055.1,854.1L1054.4,852.0L1053.7,850.0Z" stroke="#ff00ff" stroke-width="3.4"/>
<path d="M1055.3,864.5L1058.6,866.4L1061.9,868.3L1065.2,870.3L1068.4,872.3L1071.5,874.4L1074.5,876.5L1077.4,878.7L1080.3,881.0L1083.0,883.3L1085.7,885.7L1088.4,888.1L1090.9,890.6L1093.5,893.1L1096.0,895.6L1098.4,898.1L1100.8,900.7L1103.2,903.3L1105.6,905.9L1107.9,908.6L1110.3,911.2L1112.6,913.9L1114.8,916.6L1117.1,919.3L1119.4,922.0L1121.6,924.7L1123.9,927.4L1126.1,930.1L1128.3,932.8L1130.5,935.6L1132.7,938.3L1134.9,941.1L1137.0,943.8L1139.2,946.6L1141.3,949.4L1143.5,952.2L1145.6,955.0L1147.7,957.8L1149.8,960.6L1151.9,963.4L1154.0,966.2L1156.1,969.0L1158.2,971.9L1160.2,974.7L1162.3,977.6L1164.3,980.4L1166.3,983.3L1168.4,986.2L1170.4,989.1L1172.4,992.0L1174.3,994.9L1176.3,997.8L1178.3,1000.7L1180.2,1003.6L1182.1,1006.6L1184.0,1009.5L1185.9,1012.5L1187.8,1015.5L1189.7,1018.5L1191.5,1021.5L1193.3,1024.5L1195.1,1027.5L1196.9,1030.6L1198.7,1033.7L1200.4,1036.8L1202.1,1039.9L1203.7,1043.0L1205.3,1046.2L1206.9,1049.4L1208.4,1052.7L1209.9,1055.9L1211.3,1059.2L1212.7,1062.6L1214.1,1066.0L1215.3,1069.4L1216.6,1072.8L1217.8,1076.3L1218.9,1079.8L1220.0,1083.4L1221.1,1086.9L1222.2,1090.5L1219.9,1087.9L1217.5,1085.2L1215.2,1082.6L1212.8,1079.9L1210.5,1077.3L1208.3,1074.6L1206.0,1071.9L1203.8,1069.2L1201.6,1066.4L1199.5,1063.6L1197.3,1060.8L1195.2,1058.0L1193.2,1055.2L1191.1,1052.3L1189.1,1049.5L1187.0,1046.6L1185.0,1043.7L1183.0,1040.8L1181.1,1037.9L1179.1,1035.0L1177.1,1032.1L1175.1,1029.2L1173.1,1026.3L1171.2,1023.4L1169.2,1020.5L1167.2,1017.6L1165.2,1014.7L1163.2,1011.8L1161.2,1008.9L1159.2,1006.0L1157.2,1003.2L1155.2,1000.3L1153.2,997.4L1151.1,994.5L1149.1,991.7L1147.0,988.8L1145.0,986.0L1142.9,983.2L1140.8,980.3L1138.8,977.5L1136.7,974.7L1134.6,971.9L1132.4,969.1L1130.3,966.3L1128.2,963.5L1126.1,960.7L1123.9,957.9L1121.8,955.1L1119.6,952.4L1117.4,949.6L1115.2,946.8L1113.0,944.1L1110.8,941.4L1108.6,938.6L1106.4,935.9L1104.2,933.2L1102.0,930.4L1099.7,927.7L1097.5,925.0L1095.3,922.3L1093.0,919.6L1090.8,916.9L1088.5,914.2L1086.3,911.5L1084.1,908.7L1081.9,906.0L1079.7,903.2L1077.5,900.5L1075.4,897.7L1073.3,894.9L1071.2,892.0L1069.2,889.1L1067.3,886.2L1065.4,883.2L1063.6,880.2L1061.8,877.1L1060.1,874.0L1058.5,870.9L1056.9,867.7Z" stroke="#008066" stroke-width="2.1"/>
<path d="M1062.0,868.0L1063.8,869.1L1065.6,870.1L1067.4,871.2L1069.2,872.4L1070.9,873.5L1072.5,874.7L1074.1,875.9L1075.7,877.2L1077.2,878.5L1078.7,879.8L1080.1,881.2L1081.6,882.6L1083.0,884.0L1084.3,885.4L1085.7,886.8L1087.0,888.2L1088.3,889.7L1089.6,891.2L1090.9,892.6L1092.2,894.1L1093.5,895.6L1094.8,897.1L1096.0,898.6L1097.3,900.1L1098.6,901.6L1099.8,903.1L1101.1,904.6L1102.3,906.1L1103.5,907.6L1104.8,909.1L1106.0,910.7L1107.2,912.2L1108.4,913.7L1109.7,915.3L1110.9,916.8L1112.1,918.3L1113.3,919.9L1114.5,921.4L1115.7,923.0L1116.9,924.5L1118.1,926.1L1119.3,927.6L1120.4,929.2L1121.6,930.7L1122.8,932.3L1124.0,933.9L1125.1,935.4L1126.3,937.0L1127.4,938.6L1128.6,940.2L1129.7,941.8L1130.9,943.4L1132.0,945.0L1133.1,946.6L1134.3,948.2L1135.4,949.8L1136.5,951.4L1137.6,953.0L1138.7,954.6L1139.8,956.3L1140.8,957.9L1141.9,959.6L1142.9,961.2L1144.0,962.9L1145.0,964.6L1146.0,966.3L1147.0,968.0L1147.9,969.8L1148.8,971.5L1149.8,973.3L1150.6,975.1L1151.5,976.9L1152.3,978.7L1153.1,980.6L1153.9,982.4L1154.7,984.3L1155.4,986.2L1156.1,988.1L1156.8,990.1L1157.5,992.0L1156.1,990.6L1154.7,989.2L1153.2,987.9L1151.8,986.5L1150.5,985.1L1149.1,983.7L1147.7,982.2L1146.4,980.8L1145.1,979.3L1143.8,977.9L1142.5,976.4L1141.3,974.9L1140.0,973.4L1138.8,971.8L1137.6,970.3L1136.4,968.8L1135.2,967.2L1134.0,965.7L1132.8,964.1L1131.6,962.5L1130.5,961.0L1129.3,959.4L1128.1,957.8L1127.0,956.2L1125.8,954.7L1124.6,953.1L1123.5,951.5L1122.3,950.0L1121.1,948.4L1120.0,946.8L1118.8,945.2L1117.6,943.7L1116.5,942.1L1115.3,940.6L1114.1,939.0L1112.9,937.4L1111.7,935.9L1110.6,934.3L1109.4,932.8L1108.2,931.2L1107.0,929.7L1105.8,928.1L1104.6,926.6L1103.4,925.0L1102.2,923.5L1100.9,922.0L1099.7,920.4L1098.5,918.9L1097.3,917.4L1096.1,915.9L1094.8,914.3L1093.6,912.8L1092.4,911.3L1091.1,909.8L1089.9,908.3L1088.7,906.7L1087.4,905.2L1086.2,903.7L1084.9,902.2L1083.7,900.7L1082.4,899.2L1081.2,897.7L1080.0,896.1L1078.7,894.6L1077.5,893.1L1076.3,891.6L1075.1,890.0L1073.9,888.5L1072.7,886.9L1071.6,885.3L1070.5,883.7L1069.4,882.1L1068.4,880.4L1067.3,878.7L1066.4,877.0L1065.4,875.2L1064.5,873.4L1063.7,871.6L1062.8,869.8Z" stroke="#2a9566" stroke-width="2.3"/>
<path d="M879.5,697.4L884.4,699.7L889.3,702.1L894.1,704.5L898.8,706.9L903.5,709.5L908.1,712.1L912.5,714.8L916.9,717.6L921.2,720.5L925.5,723.4L929.6,726.4L933.7,729.5L937.8,732.6L941.8,735.8L945.7,739.0L949.6,742.3L953.5,745.5L957.4,748.8L961.2,752.2L965.0,755.5L968.8,758.9L972.6,762.3L976.3,765.7L980.0,769.1L983.7,772.6L987.4,776.0L991.1,779.5L994.7,783.0L998.4,786.5L1002.0,790.0L1005.6,793.6L1009.2,797.1L1012.8,800.7L1016.3,804.3L1019.9,807.9L1023.4,811.5L1026.9,815.1L1030.4,818.7L1033.9,822.4L1037.4,826.1L1040.8,829.7L1044.3,833.4L1047.7,837.2L1051.1,840.9L1054.5,844.6L1057.9,848.4L1061.2,852.1L1064.6,855.9L1067.9,859.7L1071.2,863.5L1074.5,867.4L1077.8,871.2L1081.0,875.1L1084.3,879.0L1087.5,882.9L1090.7,886.8L1093.9,890.7L1097.0,894.7L1100.1,898.7L1103.2,902.7L1106.3,906.8L1109.4,910.8L1112.4,914.9L1115.4,919.0L1118.3,923.2L1121.2,927.4L1124.1,931.7L1126.9,935.9L1129.6,940.3L1132.4,944.7L1135.0,949.1L1137.6,953.6L1140.2,958.1L1142.7,962.7L1145.1,967.3L1147.5,972.0L1149.9,976.7L1152.2,981.5L1154.4,986.3L1156.7,991.1L1153.2,987.5L1149.6,983.9L1146.1,980.3L1142.6,976.6L1139.1,973.0L1135.6,969.4L1132.1,965.7L1128.7,962.0L1125.3,958.3L1121.9,954.5L1118.6,950.7L1115.2,946.9L1111.9,943.1L1108.6,939.3L1105.3,935.5L1102.1,931.6L1098.8,927.8L1095.5,923.9L1092.3,920.0L1089.0,916.2L1085.7,912.3L1082.5,908.4L1079.2,904.6L1075.9,900.7L1072.7,896.9L1069.4,893.0L1066.1,889.2L1062.8,885.4L1059.4,881.6L1056.1,877.8L1052.8,874.0L1049.4,870.2L1046.0,866.5L1042.7,862.7L1039.3,859.0L1035.9,855.2L1032.4,851.5L1029.0,847.8L1025.6,844.1L1022.1,840.5L1018.6,836.8L1015.1,833.2L1011.6,829.5L1008.1,825.9L1004.6,822.3L1001.0,818.7L997.5,815.1L993.9,811.5L990.3,808.0L986.7,804.4L983.1,800.9L979.5,797.4L975.8,793.9L972.2,790.4L968.5,786.9L964.9,783.4L961.2,780.0L957.5,776.5L953.8,773.1L950.0,769.7L946.3,766.2L942.6,762.8L938.9,759.4L935.1,756.0L931.4,752.5L927.7,749.1L924.0,745.7L920.3,742.2L916.6,738.7L913.0,735.2L909.4,731.6L905.9,728.0L902.4,724.4L899.0,720.7L895.6,716.9L892.3,713.1L889.1,709.2L885.9,705.3L882.7,701.3Z" stroke="#55aa66" stroke-width="2.5"/>
<path d="M968.8,776.6L971.3,777.6L973.7,778.6L976.1,779.7L978.5,780.8L980.8,781.9L983.0,783.1L985.2,784.3L987.4,785.7L989.5,787.0L991.5,788.4L993.5,789.9L995.4,791.3L997.3,792.8L999.2,794.4L1001.1,795.9L1002.9,797.5L1004.7,799.1L1006.5,800.7L1008.3,802.4L1010.1,804.0L1011.9,805.7L1013.6,807.3L1015.4,809.0L1017.1,810.7L1018.9,812.3L1020.6,814.0L1022.3,815.7L1024.0,817.4L1025.7,819.1L1027.4,820.8L1029.1,822.6L1030.8,824.3L1032.5,826.0L1034.2,827.7L1035.9,829.5L1037.5,831.2L1039.2,833.0L1040.8,834.7L1042.5,836.5L1044.1,838.2L1045.8,840.0L1047.4,841.8L1049.1,843.5L1050.7,845.3L1052.3,847.1L1053.9,848.9L1055.5,850.7L1057.1,852.5L1058.7,854.3L1060.3,856.1L1061.9,858.0L1063.5,859.8L1065.0,861.6L1066.6,863.5L1068.1,865.3L1069.7,867.2L1071.2,869.1L1072.7,871.0L1074.2,872.9L1075.7,874.8L1077.2,876.7L1078.6,878.6L1080.1,880.6L1081.5,882.5L1082.9,884.5L1084.3,886.5L1085.6,888.6L1087.0,890.6L1088.3,892.7L1089.5,894.8L1090.8,897.0L1092.0,899.2L1093.1,901.4L1094.3,903.6L1095.4,905.9L1096.4,908.2L1097.5,910.5L1098.5,912.9L1099.5,915.2L1100.5,917.6L1098.6,916.1L1096.7,914.6L1094.8,913.0L1092.9,911.5L1091.0,909.9L1089.2,908.4L1087.4,906.8L1085.6,905.1L1083.8,903.5L1082.0,901.8L1080.3,900.1L1078.6,898.4L1076.9,896.7L1075.3,895.0L1073.6,893.2L1072.0,891.5L1070.3,889.7L1068.7,887.9L1067.1,886.1L1065.5,884.3L1063.9,882.5L1062.3,880.7L1060.7,878.9L1059.1,877.1L1057.5,875.3L1055.9,873.5L1054.3,871.7L1052.7,869.9L1051.1,868.1L1049.5,866.3L1047.9,864.5L1046.2,862.7L1044.6,860.9L1043.0,859.1L1041.4,857.3L1039.8,855.5L1038.1,853.8L1036.5,852.0L1034.8,850.2L1033.2,848.5L1031.5,846.7L1029.9,844.9L1028.2,843.2L1026.6,841.5L1024.9,839.7L1023.2,838.0L1021.5,836.2L1019.9,834.5L1018.2,832.8L1016.5,831.1L1014.8,829.4L1013.1,827.6L1011.4,825.9L1009.7,824.2L1008.0,822.5L1006.2,820.8L1004.5,819.1L1002.8,817.4L1001.1,815.7L999.4,814.1L997.6,812.4L995.9,810.7L994.2,809.0L992.5,807.3L990.8,805.5L989.1,803.8L987.4,802.1L985.8,800.3L984.2,798.6L982.6,796.8L981.0,794.9L979.5,793.0L978.0,791.1L976.5,789.2L975.2,787.2L973.8,785.1L972.5,783.0L971.3,780.9L970.0,778.8Z" stroke="#80bf66" stroke-width="2.8"/>
<path d="M867.3,687.3L872.7,689.6L878.1,692.0L883.5,694.5L888.7,697.0L893.9,699.6L898.9,702.4L903.8,705.2L908.7,708.1L913.4,711.1L918.0,714.2L922.6,717.4L927.1,720.6L931.5,723.9L935.8,727.3L940.1,730.7L944.4,734.2L948.6,737.7L952.8,741.2L957.0,744.7L961.1,748.3L965.2,751.9L969.3,755.5L973.3,759.2L977.4,762.9L981.4,766.6L985.4,770.3L989.3,774.0L993.3,777.7L997.2,781.5L1001.1,785.3L1005.0,789.1L1008.9,792.9L1012.7,796.8L1016.6,800.6L1020.4,804.5L1024.2,808.4L1028.0,812.3L1031.8,816.2L1035.5,820.1L1039.2,824.1L1042.9,828.0L1046.6,832.0L1050.3,836.0L1054.0,840.1L1057.6,844.1L1061.2,848.2L1064.8,852.2L1068.4,856.3L1072.0,860.4L1075.5,864.6L1079.0,868.7L1082.5,872.9L1086.0,877.1L1089.5,881.3L1092.9,885.5L1096.3,889.8L1099.7,894.1L1103.1,898.4L1106.4,902.7L1109.7,907.1L1112.9,911.5L1116.2,915.9L1119.3,920.4L1122.5,924.9L1125.6,929.4L1128.6,934.0L1131.7,938.6L1134.6,943.3L1137.5,948.1L1140.3,952.9L1143.1,957.7L1145.8,962.6L1148.4,967.6L1151.0,972.7L1153.5,977.8L1156.0,982.9L1158.4,988.1L1160.7,993.4L1163.0,998.7L1165.3,1004.0L1161.5,1000.1L1157.7,996.2L1153.9,992.3L1150.1,988.5L1146.3,984.5L1142.6,980.6L1138.9,976.6L1135.2,972.6L1131.5,968.6L1127.9,964.6L1124.3,960.5L1120.7,956.4L1117.2,952.3L1113.6,948.1L1110.1,944.0L1106.6,939.8L1103.1,935.6L1099.6,931.4L1096.2,927.2L1092.7,923.1L1089.2,918.9L1085.7,914.7L1082.2,910.5L1078.7,906.3L1075.2,902.2L1071.7,898.0L1068.2,893.9L1064.6,889.7L1061.1,885.6L1057.5,881.5L1053.9,877.4L1050.4,873.3L1046.7,869.3L1043.1,865.2L1039.5,861.2L1035.8,857.1L1032.2,853.1L1028.5,849.1L1024.8,845.2L1021.0,841.2L1017.3,837.2L1013.6,833.3L1009.8,829.4L1006.0,825.5L1002.2,821.6L998.4,817.7L994.5,813.9L990.7,810.0L986.8,806.2L982.9,802.4L979.0,798.6L975.1,794.8L971.2,791.1L967.2,787.3L963.3,783.6L959.3,779.9L955.3,776.2L951.3,772.5L947.3,768.8L943.3,765.1L939.2,761.4L935.2,757.8L931.1,754.1L927.1,750.4L923.1,746.8L919.0,743.1L915.0,739.4L911.1,735.7L907.1,731.9L903.2,728.2L899.3,724.3L895.5,720.5L891.8,716.5L888.1,712.5L884.5,708.5L880.9,704.3L877.5,700.1L874.1,695.9L870.7,691.6Z" stroke="#aad466" stroke-width="2.8"/>
</g>
<rect x="1.3" y="65.2" width="1663.2" height="1663.5" fill="none" stroke="#000" stroke-width="2.78"/>
<rect x="32.6" y="1115.0" width="914.8" height="582.0" fill="#fff"/>
<defs><clipPath id="insclip"><rect x="32.6" y="1115.0" width="914.8" height="582.0"/></clipPath></defs>
<g clip-path="url(#insclip)" fill="none">
<path d="M32.6,1240.5L314.7,1240.5" stroke="#aad466" stroke-width="8.13" stroke-dasharray="30.08 13.01"/>
<path d="M328.3,1240.5L875.3,1240.5" stroke="#aad466" stroke-width="8.13" stroke-dasharray="8.13 13.41"/>
<path d="M32.6,1263.2L320.0,1263.2" stroke="#80bf66" stroke-width="8.13" stroke-dasharray="30.08 13.01"/>
<path d="M450.1,1263.2L889.1,1263.2" stroke="#80bf66" stroke-width="8.13" stroke-dasharray="8.13 13.41"/>
<path d="M32.6,1286.0L320.0,1286.0" stroke="#55aa66" stroke-width="8.13" stroke-dasharray="30.08 13.01"/>
<path d="M370.9,1286.0L895.7,1286.0" stroke="#55aa66" stroke-width="8.13" stroke-dasharray="8.13 13.41"/>
<path d="M32.6,1308.7L320.0,1308.7" stroke="#2a9566" stroke-width="8.13" stroke-dasharray="30.08 13.01"/>
<path d="M447.0,1308.7L886.2,1308.7" stroke="#2a9566" stroke-width="8.13" stroke-dasharray="8.13 13.41"/>
<path d="M32.6,1331.5L321.0,1331.5" stroke="#008066" stroke-width="8.13" stroke-dasharray="30.08 13.01"/>
<path d="M498.2,1331.5L895.2,1331.5" stroke="#008066" stroke-width="8.13" stroke-dasharray="8.13 13.41"/>
<path d="M32.6,1354.5L573.9,1354.5" stroke="#ff00ff" stroke-width="8.13" stroke-dasharray="30.08 13.01"/>
<path d="M32.6,1377.3L164.3,1377.3" stroke="#cc33ff" stroke-width="8.13" stroke-dasharray="30.08 13.01"/>
<path d="M263.4,1377.3L422.5,1377.3" stroke="#cc33ff" stroke-width="8.13" stroke-dasharray="8.13 13.41"/>
<path d="M32.6,1400.0L277.9,1400.0" stroke="#9966ff" stroke-width="8.13" stroke-dasharray="30.08 13.01"/>
<path d="M472.3,1400.0L778.8,1400.0" stroke="#9966ff" stroke-width="8.13" stroke-dasharray="8.13 13.41"/>
<path d="M32.6,1423.1L222.0,1423.1" stroke="#6699ff" stroke-width="8.13" stroke-dasharray="30.08 13.01"/>
<path d="M347.0,1423.1L592.4,1423.1" stroke="#6699ff" stroke-width="8.13" stroke-dasharray="8.13 13.41"/>
<path d="M32.6,1445.6L191.7,1445.6" stroke="#33ccff" stroke-width="8.13" stroke-dasharray="30.08 13.01"/>
<path d="M280.7,1445.6L504.5,1445.6" stroke="#33ccff" stroke-width="8.13" stroke-dasharray="8.13 13.41"/>
<path d="M32.5,1696.4C34.2,1693.8 39.4,1687.0 43.0,1680.5C46.7,1674.0 51.1,1666.4 54.6,1657.4C58.1,1648.5 61.3,1637.3 64.2,1626.7C67.1,1616.1 69.6,1604.3 71.9,1594.1C74.1,1583.8 75.7,1575.2 77.6,1565.2C79.5,1555.3 81.5,1544.1 83.4,1534.5C85.3,1524.9 86.9,1516.6 89.1,1507.6C91.4,1498.7 94.6,1486.8 96.8,1480.7C99.1,1474.6 100.7,1473.2 102.6,1471.1C104.5,1469.0 106.1,1467.3 108.4,1468.2C110.6,1469.2 113.8,1472.9 116.0,1476.9C118.3,1480.9 119.9,1486.2 121.8,1492.3C123.7,1498.3 125.6,1505.7 127.6,1513.4C129.5,1521.1 131.4,1529.7 133.3,1538.4C135.2,1547.0 137.2,1556.6 139.1,1565.2C141.0,1573.9 142.9,1581.9 144.8,1590.2C146.8,1598.5 148.7,1607.5 150.6,1615.2C152.5,1622.9 154.5,1629.9 156.4,1636.3C158.3,1642.7 159.9,1647.8 162.1,1653.6C164.4,1659.4 167.3,1666.1 169.8,1670.9C172.4,1675.7 174.6,1679.2 177.5,1682.4C180.4,1685.6 183.9,1688.2 187.1,1690.1C190.3,1692.0 192.5,1692.9 196.7,1693.9C200.9,1695.0 209.5,1696.0 212.1,1696.4" stroke="#000" stroke-width="2.78" stroke-dasharray="2.78 4.59"/>
<path d="M32.5,1696.4C33.4,1684.2 36.5,1646.0 38.2,1622.9C40.0,1599.7 41.4,1576.8 43.0,1557.6C44.6,1538.4 46.4,1520.7 47.9,1507.6C49.3,1494.5 50.4,1485.2 51.7,1478.8C53.0,1472.4 54.4,1468.6 55.5,1469.2C56.7,1469.8 57.6,1475.3 58.4,1482.7C59.3,1490.0 60.0,1502.8 60.7,1513.4C61.4,1523.9 61.9,1534.2 62.6,1546.0C63.3,1557.9 64.1,1573.2 64.9,1584.5C65.8,1595.7 66.6,1603.7 67.6,1613.3C68.6,1622.9 69.9,1634.1 70.9,1642.1C71.9,1650.1 72.8,1654.9 73.8,1661.3C74.7,1667.7 75.5,1675.7 76.7,1680.5C77.8,1685.3 79.1,1687.7 80.5,1690.1C81.9,1692.5 82.6,1693.8 85.3,1694.9C88.0,1696.0 94.9,1696.2 96.8,1696.4" stroke="#000" stroke-width="5.56" stroke-dasharray="5.56 9.17"/>
<path d="M32.5,1696.4C35.2,1692.2 43.8,1679.9 48.8,1670.9C53.8,1661.8 58.1,1651.7 62.3,1642.1C66.4,1632.5 70.9,1620.9 73.8,1613.3C76.7,1605.6 77.3,1604.0 79.5,1596.0C81.8,1588.0 84.3,1576.8 87.2,1565.2C90.1,1553.7 93.9,1538.0 96.8,1526.8C99.7,1515.6 102.0,1506.0 104.5,1498.0C107.1,1490.0 109.6,1483.6 112.2,1478.8C114.8,1474.0 117.6,1471.0 119.9,1469.2C122.1,1467.4 123.7,1467.9 125.6,1468.2C127.6,1468.6 129.2,1468.9 131.4,1471.1C133.6,1473.4 136.5,1476.3 139.1,1481.7C141.6,1487.1 144.2,1496.3 146.8,1503.8C149.3,1511.3 151.9,1518.5 154.5,1526.8C157.0,1535.2 159.6,1544.8 162.1,1553.7C164.7,1562.7 167.3,1571.6 169.8,1580.6C172.4,1589.6 174.9,1599.2 177.5,1607.5C180.1,1615.8 182.6,1623.5 185.2,1630.6C187.7,1637.6 190.0,1643.7 192.9,1649.8C195.8,1655.8 199.3,1661.9 202.5,1667.0C205.7,1672.2 208.9,1677.0 212.1,1680.5C215.3,1684.0 218.5,1686.2 221.7,1688.2C224.9,1690.2 226.5,1691.2 231.3,1692.4C236.1,1693.6 244.1,1694.7 250.5,1695.3C256.9,1695.9 261.7,1695.9 269.7,1696.1C277.7,1696.2 293.7,1696.4 298.5,1696.4" stroke="#000" stroke-width="2.78"/>
<path d="M32.5,1696.4C33.6,1684.2 37.1,1646.0 39.2,1622.9C41.3,1599.7 43.0,1576.8 45.0,1557.6C46.9,1538.4 49.0,1521.1 50.7,1507.6C52.5,1494.2 54.1,1483.3 55.5,1476.9C57.0,1470.5 58.1,1468.9 59.4,1469.2C60.7,1469.5 61.9,1472.4 63.2,1478.8C64.5,1485.2 65.8,1496.4 67.1,1507.6C68.3,1518.8 69.6,1533.2 70.9,1546.0C72.2,1558.8 73.5,1571.6 74.7,1584.5C76.0,1597.3 77.3,1611.7 78.6,1622.9C79.9,1634.1 81.1,1643.0 82.4,1651.7C83.7,1660.3 84.8,1668.6 86.3,1674.7C87.7,1680.8 89.3,1685.0 91.1,1688.2C92.8,1691.4 94.3,1692.7 96.8,1693.9C99.4,1695.2 101.6,1695.4 106.4,1695.9C111.2,1696.3 122.4,1696.3 125.6,1696.4" stroke="#000" stroke-width="5.56"/>
</g>
<rect x="32.6" y="1115.0" width="914.8" height="582.0" fill="none" stroke="#000" stroke-width="2.78" stroke-linejoin="miter"/>
<path d="M32.60,1115.0V1096.5M215.56,1115.0V1096.5M398.52,1115.0V1096.5M581.48,1115.0V1096.5M764.44,1115.0V1096.5M947.40,1115.0V1096.5" stroke="#000" stroke-width="2.5" fill="none"/>
<text x="1.2" y="38.9" font-size="50" fill="#000" stroke="#000" stroke-width="0.25" font-style="italic" font-weight="normal" text-anchor="start" >Comparison of torque-variation pole (map) and magnitude (inset)</text>
<text x="34.8" y="124.9" font-size="37.5" fill="#000" stroke="#000" stroke-width="0.15" font-style="italic" font-weight="bold" text-anchor="start" >Required by the Euler-vector change</text>
<text y="176.6" font-size="27.78" fill="#000" stroke="#000" stroke-width="0.25"><tspan x="34.2" y="176.6" font-size="28.1" font-style="italic">Thick / thin contours correspond to average</tspan><tspan x="660.5" y="176.6">μ</tspan><tspan x="677.9" y="181.29999999999998" font-size="19.45">a</tspan><tspan x="694.9" y="176.6">=</tspan><tspan x="724.8" y="176.6">1</tspan><tspan x="748.2" y="176.6">·</tspan><tspan x="762.5" y="176.6">10</tspan><tspan x="799.9" y="163.29999999999998" font-size="19.45">19</tspan><tspan x="833.3" y="176.6" font-size="28.1" font-style="italic">/</tspan><tspan x="851.7" y="176.6">3</tspan><tspan x="875.6" y="176.6">·</tspan><tspan x="890.2" y="176.6">10</tspan><tspan x="926.5" y="163.29999999999998" font-size="19.45">19</tspan><tspan x="960.6" y="176.6">Pa</tspan><tspan x="1000.5" y="176.6">·</tspan><tspan x="1015.6" y="176.6">s.</tspan></text>
<text x="34.0" y="221.2" font-size="28.15" fill="#000" stroke="#000" stroke-width="0.25" font-style="italic" font-weight="normal" text-anchor="start" >Solid / dotted contours account for no / 100-km-wide deforming zone around plate margins.</text>
<text x="34.6" y="324.5" font-size="37.5" fill="#666" stroke="#666" stroke-width="0.15" font-style="italic" font-weight="bold" text-anchor="start" >Provided by the coseismic stress drop</text>
<text x="34.6" y="374.3" font-size="37.5" fill="#33ccff" stroke="#33ccff" stroke-width="0.15" font-style="italic" font-weight="bold" text-anchor="start" >FFS - Fielding et al. (2013)</text>
<text x="34.6" y="424.18" font-size="37.5" fill="#6699ff" stroke="#6699ff" stroke-width="0.15" font-style="italic" font-weight="bold" text-anchor="start" >FFS - Hayes (2017)</text>
<text x="34.6" y="474.06" font-size="37.5" fill="#9966ff" stroke="#9966ff" stroke-width="0.15" font-style="italic" font-weight="bold" text-anchor="start" >FFS - Ji &amp; Hayes (2008)</text>
<text x="34.6" y="523.94" font-size="37.5" fill="#cc33ff" stroke="#cc33ff" stroke-width="0.15" font-style="italic" font-weight="bold" text-anchor="start" >FFS - Sladen (2008)</text>
<text x="34.6" y="573.82" font-size="37.5" fill="#ff00ff" stroke="#ff00ff" stroke-width="0.15" font-style="italic" font-weight="bold" text-anchor="start" >FFS - Yagi et al. (2012)</text>
<text x="34.6" y="623.7" font-size="37.5" fill="#008066" stroke="#008066" stroke-width="0.15" font-style="italic" font-weight="bold" text-anchor="start" >FMS - USGS</text>
<text x="34.6" y="673.58" font-size="37.5" fill="#2a9166" stroke="#2a9166" stroke-width="0.15" font-style="italic" font-weight="bold" text-anchor="start" >FMS - GCMT</text>
<text x="34.6" y="723.46" font-size="37.5" fill="#55a366" stroke="#55a366" stroke-width="0.15" font-style="italic" font-weight="bold" text-anchor="start" >FMS - Liu et al. (2008)</text>
<text x="34.6" y="773.34" font-size="37.5" fill="#7fbf66" stroke="#7fbf66" stroke-width="0.15" font-style="italic" font-weight="bold" text-anchor="start" >FMS - Cheng et al. (2009)</text>
<text x="34.6" y="823.22" font-size="37.5" fill="#aad566" stroke="#aad566" stroke-width="0.15" font-style="italic" font-weight="bold" text-anchor="start" >FMS - Zhang et al. (2008)</text>
<text y="999.6" font-size="37.5" fill="#000" stroke="#000" stroke-width="0.25"><tspan x="77.5">Magnitude of torque variation [x</tspan><tspan x="698.3" font-family='"DejaVu Sans Mono", "Liberation Mono", monospace'>10</tspan><tspan x="743.3" y="986.3000000000001" font-size="26.25" font-family='"DejaVu Sans Mono", "Liberation Mono", monospace'>22</tspan><tspan x="787.8" y="999.6">(Nm)]</tspan></text>
<text x="32.6" y="1056.7" font-size="37.5" fill="#000" stroke="#000" stroke-width="0.25" font-style="normal" font-weight="normal" text-anchor="middle" >0</text>
<text x="215.5" y="1056.7" font-size="37.5" fill="#000" stroke="#000" stroke-width="0.25" font-style="normal" font-weight="normal" text-anchor="middle" >3</text>
<text x="398.4" y="1056.7" font-size="37.5" fill="#000" stroke="#000" stroke-width="0.25" font-style="normal" font-weight="normal" text-anchor="middle" >6</text>
<text x="581.3" y="1056.7" font-size="37.5" fill="#000" stroke="#000" stroke-width="0.25" font-style="normal" font-weight="normal" text-anchor="middle" >9</text>
<text x="764.2" y="1056.7" font-size="37.5" fill="#000" stroke="#000" stroke-width="0.25" font-style="normal" font-weight="normal" text-anchor="middle" >12</text>
<text x="947.1" y="1056.7" font-size="37.5" fill="#000" stroke="#000" stroke-width="0.25" font-style="normal" font-weight="normal" text-anchor="middle" >15</text>
<text x="51" y="1162.5" font-size="28.1" fill="#666" stroke="#666" stroke-width="0.25" font-style="italic" font-weight="normal" text-anchor="start" >Dashed / dotted lines correspond to stress-drop (at maximum</text>
<text x="51" y="1197.8" font-size="28.1" fill="#666" stroke="#666" stroke-width="0.25" font-style="italic" font-weight="normal" text-anchor="start" >slip for FFS, uniform for FMS) in range [0, 2] / [4, 6] MPa</text>
<text x="1647.5" y="1689.4" font-size="31.25" fill="#000" stroke="#000" stroke-width="0.25" font-style="italic" font-weight="normal" text-anchor="end" >All contours show 95% confidence</text>
</svg>
</body>
</html>
